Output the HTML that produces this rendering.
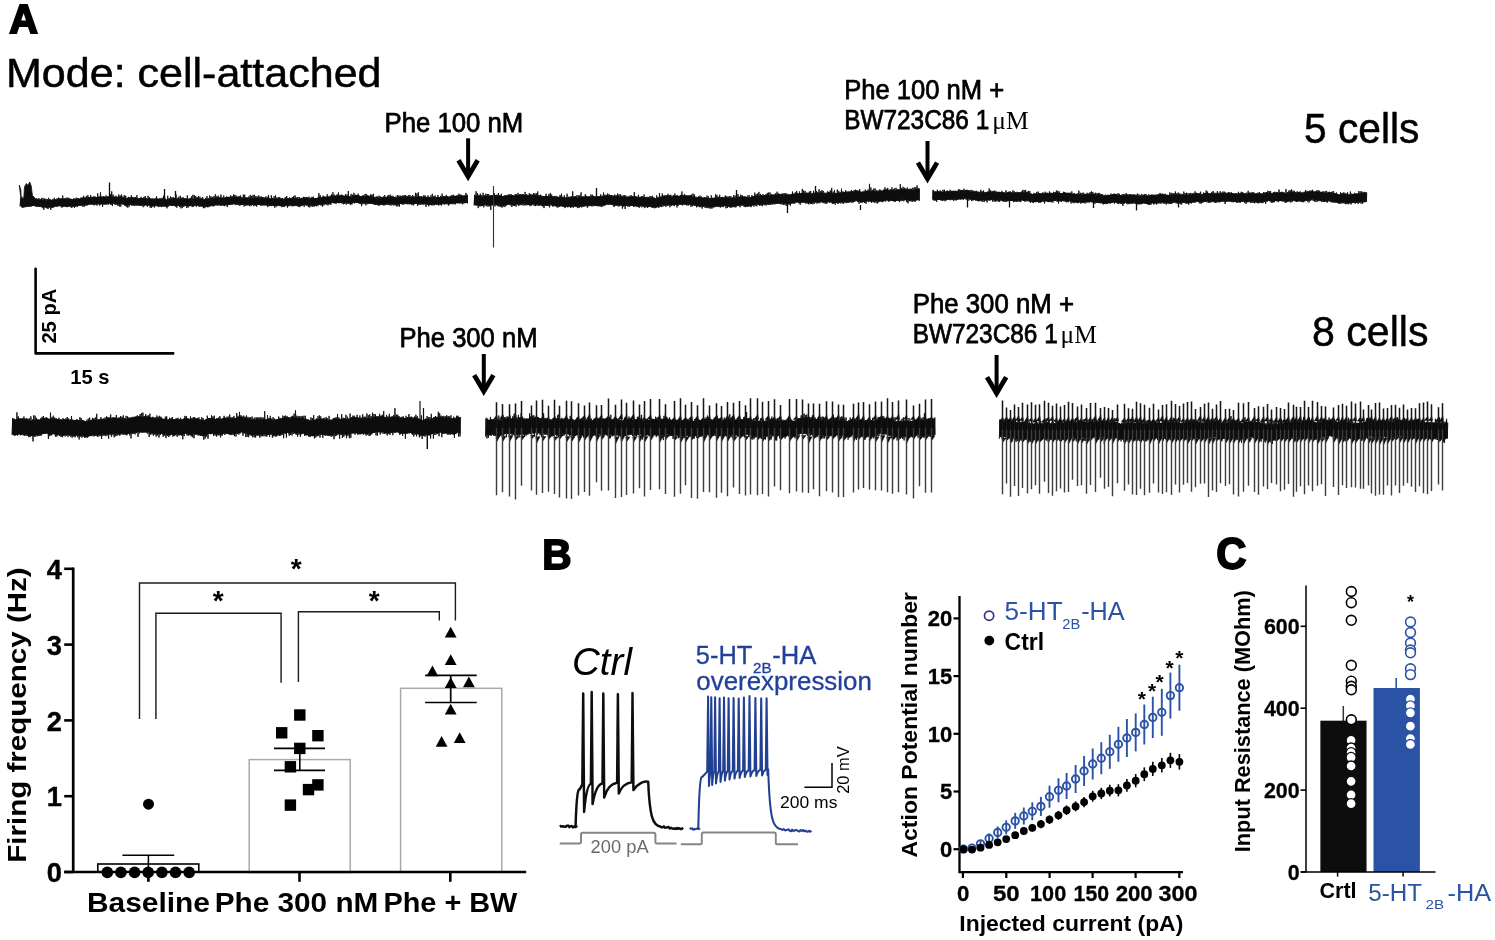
<!DOCTYPE html>
<html lang="en"><head><meta charset="utf-8"><title>Figure</title>
<style>html,body{margin:0;padding:0;background:#fff}svg{display:block}</style></head><body>
<svg width="1495" height="940" viewBox="0 0 1495 940">
<rect width="1495" height="940" fill="#fff"/>
<defs><filter id="soft" x="0" y="0" width="100%" height="100%" filterUnits="userSpaceOnUse"><feGaussianBlur stdDeviation="0.45"/></filter></defs>
<g filter="url(#soft)">
<!-- panel A -->
<text x="9.6" y="33.3" font-family='"Liberation Sans", sans-serif' font-size="40" font-weight="bold" textLength="28.2" lengthAdjust="spacingAndGlyphs" stroke="#000" stroke-width="2.2" stroke-linejoin="miter">A</text>
<text x="6" y="87" font-family='"Liberation Sans", sans-serif' font-size="41.5" textLength="375.5" lengthAdjust="spacingAndGlyphs" stroke="#000" stroke-width="0.5">Mode: cell-attached</text>
<text x="384.5" y="132" font-family='"Liberation Sans", sans-serif' font-size="27" textLength="138.8" lengthAdjust="spacingAndGlyphs" stroke="#000" stroke-width="0.75">Phe 100 nM</text>
<text x="844.2" y="98.7" font-family='"Liberation Sans", sans-serif' font-size="27" textLength="160" lengthAdjust="spacingAndGlyphs" stroke="#000" stroke-width="0.75">Phe 100 nM +</text>
<text font-family='"Liberation Sans", sans-serif' font-size="27" stroke="#000" stroke-width="0.75"><tspan x="844.2" y="129.4" textLength="145" lengthAdjust="spacingAndGlyphs">BW723C86 1</tspan><tspan x="992.3" y="129.4" font-family='"Liberation Serif", serif' font-size="25" stroke="none" textLength="36.3" lengthAdjust="spacingAndGlyphs">μM</tspan></text>
<text x="1304" y="142.5" font-family='"Liberation Sans", sans-serif' font-size="42" textLength="115.5" lengthAdjust="spacingAndGlyphs" stroke="#000" stroke-width="0.5">5 cells</text>
<text x="399.5" y="347" font-family='"Liberation Sans", sans-serif' font-size="27" textLength="138" lengthAdjust="spacingAndGlyphs" stroke="#000" stroke-width="0.75">Phe 300 nM</text>
<text x="912.7" y="312.7" font-family='"Liberation Sans", sans-serif' font-size="27" textLength="161.3" lengthAdjust="spacingAndGlyphs" stroke="#000" stroke-width="0.75">Phe 300 nM +</text>
<text font-family='"Liberation Sans", sans-serif' font-size="27" stroke="#000" stroke-width="0.75"><tspan x="912.7" y="343.2" textLength="145" lengthAdjust="spacingAndGlyphs">BW723C86 1</tspan><tspan x="1060.6" y="343.2" font-family='"Liberation Serif", serif' font-size="25" stroke="none" textLength="36.3" lengthAdjust="spacingAndGlyphs">μM</tspan></text>
<text x="1312" y="346" font-family='"Liberation Sans", sans-serif' font-size="42" textLength="116.5" lengthAdjust="spacingAndGlyphs" stroke="#000" stroke-width="0.5">8 cells</text>
<path d="M468.1 138.3 V176.5" fill="none" stroke="#000" stroke-width="4.0"/>
<path d="M458.5 160.3 L468.1 176.5 L477.7 160.3" fill="none" stroke="#000" stroke-width="4.8" stroke-linejoin="miter" stroke-miterlimit="10" stroke-linecap="butt"/>
<path d="M927.5 141 V178.8" fill="none" stroke="#000" stroke-width="4.0"/>
<path d="M917.9 162.6 L927.5 178.8 L937.1 162.6" fill="none" stroke="#000" stroke-width="4.8" stroke-linejoin="miter" stroke-miterlimit="10" stroke-linecap="butt"/>
<path d="M483.8 354 V391.3" fill="none" stroke="#000" stroke-width="4.0"/>
<path d="M474.2 375.1 L483.8 391.3 L493.4 375.1" fill="none" stroke="#000" stroke-width="4.8" stroke-linejoin="miter" stroke-miterlimit="10" stroke-linecap="butt"/>
<path d="M996.6 355 V393.3" fill="none" stroke="#000" stroke-width="4.0"/>
<path d="M987 377.1 L996.6 393.3 L1006.2 377.1" fill="none" stroke="#000" stroke-width="4.8" stroke-linejoin="miter" stroke-miterlimit="10" stroke-linecap="butt"/>
<path d="M35.6 268.8 V353.4 H173.2" fill="none" stroke="#000" stroke-width="2.6" stroke-linecap="round" stroke-linejoin="round"/>
<text x="55.9" y="343.6" font-family='"Liberation Sans", sans-serif' font-size="20" font-weight="bold" textLength="55" lengthAdjust="spacingAndGlyphs" transform="rotate(-90 55.9 343.6)">25 pA</text>
<text x="70.2" y="384.3" font-family='"Liberation Sans", sans-serif' font-size="19.8" font-weight="bold" textLength="39.3" lengthAdjust="spacingAndGlyphs">15 s</text>
<!-- trace 1 -->
<path d="M19.3 185 L20.8 190 L21.6 207 L23.4 204 L24.5 187 L26.4 183.6 L28 185.6 L29.7 182 L31.2 186 L32.4 195.5 L34.5 197.5 L34.5 205 L22 207.5 Z" fill="#0a0a0a" stroke="#0a0a0a" stroke-width="0.8"/>
<path d="M20 198.7 20.7 198.7 21.4 198.9 22.1 198.6 22.8 198.7 23.5 198.9 24.2 198.9 24.9 199.1 25.6 198.6 26.3 198.3 27 198.7 27.7 198.5 28.4 198.7 29.1 198 29.8 198.6 30.5 198.6 31.2 199 31.9 198.5 32.6 198 33.3 197.8 34 198.3 34.7 198.3 35.4 198.7 36.1 199.1 36.8 199.2 37.5 199.3 38.2 199.5 38.9 199.7 39.6 199.2 40.3 199.5 41 199.6 41.7 199.7 42.4 199.8 43.1 199.5 43.8 199.7 44.5 199.8 45.2 199.6 45.9 200.1 46.6 200.5 47.3 200.3 48 199.8 48.7 200.2 49.4 199.5 50.1 199.6 50.8 200 51.5 199.7 52.2 200 52.9 200.3 53.6 199.6 54.3 199.4 55 199.2 55.7 199.6 56.4 199.2 57.1 199.6 57.8 198.9 58.5 198.8 59.2 198.2 59.9 198.7 60.6 198.8 61.3 198.9 62 199.2 62.7 199.1 63.4 199.1 64.1 199 64.8 199.1 65.5 199.5 66.2 199.4 66.9 198.8 67.6 199.1 68.3 199.3 69 198.8 69.7 198.7 70.4 199.1 71.1 199.1 71.8 199.1 72.5 199.2 73.2 199.1 73.9 199.3 74.6 198.9 75.3 199.1 76 199 76.7 198.8 77.4 198.9 78.1 198.2 78.8 198.7 79.5 198.8 80.2 198.7 80.9 198 81.6 197.6 82.3 197.6 83 198 83.7 197.8 84.4 198 85.1 197.5 85.8 197.5 86.5 197.4 87.2 197.7 87.9 197.3 88.6 197 89.3 197.5 90 197.6 90.7 197.3 91.4 196.8 92.1 197.2 92.8 197.1 93.5 196.8 94.2 196.8 94.9 197.6 95.6 197.3 96.3 196.9 97 197.2 97.7 196.6 98.4 197 99.1 197.1 99.8 196.2 100.5 197 101.2 196.6 101.9 196.8 102.6 196.9 103.3 196.7 104 197 104.7 196.9 105.4 197 106.1 196.9 106.8 197 107.5 196.2 108.2 196.5 108.9 196.8 109.6 196.5 110.3 196.2 111 196.7 111.7 196.5 112.4 196.6 113.1 196.6 113.8 196.4 114.5 196.7 115.2 197.1 115.9 197.2 116.6 196.6 117.3 197.1 118 197.2 118.7 197.2 119.4 196.8 120.1 196.3 120.8 197 121.5 196.1 122.2 196.8 122.9 197.2 123.6 197.3 124.3 197.8 125 198 125.7 198 126.4 198.3 127.1 198 127.8 198 128.5 198.2 129.2 197.7 129.9 198.2 130.6 197.6 131.3 197.6 132 197.6 132.7 197.6 133.4 197.6 134.1 198 134.8 197.7 135.5 197.5 136.2 197.6 136.9 197.7 137.6 198.2 138.3 198.2 139 198.3 139.7 198.2 140.4 198.1 141.1 198 141.8 197.9 142.5 198 143.2 198.2 143.9 197.9 144.6 198 145.3 197.8 146 198.1 146.7 198.6 147.4 198.9 148.1 198.5 148.8 198.2 149.5 198.1 150.2 198.4 150.9 198.6 151.6 199.2 152.3 199.2 153 199 153.7 199 154.4 199.3 155.1 198.9 155.8 198.7 156.5 198.8 157.2 198.8 157.9 198.6 158.6 198.9 159.3 198.5 160 198.5 160.7 198.7 161.4 198.7 162.1 198.5 162.8 198.6 163.5 198.7 164.2 198.7 164.9 198.9 165.6 199.3 166.3 199.6 167 199.9 167.7 198.9 168.4 199.2 169.1 198.6 169.8 198.4 170.5 198.3 171.2 198 171.9 198.3 172.6 198.4 173.3 198 174 198.3 174.7 199.1 175.4 198.8 176.1 199 176.8 199.2 177.5 198.4 178.2 198.5 178.9 198.8 179.6 198.8 180.3 199 181 198.5 181.7 198.3 182.4 198.2 183.1 198.2 183.8 198.7 184.5 198.3 185.2 198.5 185.9 198.5 186.6 199 187.3 199 188 198.8 188.7 198.9 189.4 199.1 190.1 198.4 190.8 198.7 191.5 198.4 192.2 199 192.9 199.1 193.6 198.8 194.3 198.9 195 198.5 195.7 198.4 196.4 198.2 197.1 197.8 197.8 198.3 198.5 198.4 199.2 198.4 199.9 198.8 200.6 198.7 201.3 198.8 202 198.9 202.7 199.5 203.4 199.3 204.1 199.4 204.8 199.4 205.5 199.6 206.2 199 206.9 198.8 207.6 198.8 208.3 198.8 209 198.9 209.7 198.8 210.4 198 211.1 198.3 211.8 198.1 212.5 198.4 213.2 198.1 213.9 198.3 214.6 197.9 215.3 197.8 216 197.9 216.7 197.5 217.4 197.2 218.1 197.5 218.8 197.6 219.5 197.4 220.2 197.5 220.9 196.9 221.6 197.8 222.3 197.4 223 198 223.7 198 224.4 197.7 225.1 197.8 225.8 197.4 226.5 198 227.2 197.4 227.9 197 228.6 196.8 229.3 197 230 197.5 230.7 197.5 231.4 197 232.1 196.7 232.8 196.9 233.5 196.7 234.2 196.2 234.9 197 235.6 197.1 236.3 196.9 237 196.8 237.7 197.4 238.4 196.9 239.1 197.2 239.8 197.1 240.5 197.2 241.2 197.5 241.9 197.6 242.6 197.7 243.3 197.4 244 197.8 244.7 197.4 245.4 197.2 246.1 197.8 246.8 197.6 247.5 197.8 248.2 197.5 248.9 197.6 249.6 197.7 250.3 197.6 251 197.8 251.7 197.4 252.4 197.6 253.1 198 253.8 198.1 254.5 197.8 255.2 197.7 255.9 197.5 256.6 197.6 257.3 197.6 258 197.3 258.7 197.6 259.4 197.7 260.1 197.6 260.8 197.9 261.5 197.8 262.2 197.1 262.9 197.5 263.6 197.5 264.3 197.7 265 198 265.7 197.9 266.4 198.3 267.1 198.3 267.8 198.1 268.5 198.3 269.2 198.5 269.9 198.3 270.6 198.8 271.3 198.4 272 198.2 272.7 198 273.4 198.6 274.1 198.7 274.8 198.6 275.5 198.4 276.2 198.7 276.9 198.5 277.6 198.6 278.3 198.2 279 198.6 279.7 198.2 280.4 198.3 281.1 198.5 281.8 198.5 282.5 198.4 283.2 199.1 283.9 198.6 284.6 198.6 285.3 198.8 286 198.1 286.7 198.1 287.4 198.5 288.1 198.1 288.8 198.3 289.5 198.7 290.2 198.2 290.9 198.1 291.6 198.5 292.3 198.3 293 198.7 293.7 197.9 294.4 197.6 295.1 198.4 295.8 198.3 296.5 198.2 297.2 198.3 297.9 199.2 298.6 198.7 299.3 198.7 300 198.7 300.7 198.3 301.4 198.4 302.1 198.2 302.8 198 303.5 197.5 304.2 197.6 304.9 197.6 305.6 197.7 306.3 198.3 307 198.2 307.7 198.2 308.4 198.4 309.1 198.2 309.8 198.9 310.5 197.8 311.2 198.2 311.9 198.1 312.6 197.6 313.3 198 314 198.4 314.7 198.5 315.4 197.8 316.1 198.3 316.8 198.1 317.5 197.9 318.2 197.1 318.9 196.8 319.6 196.6 320.3 197.2 321 197.7 321.7 197.5 322.4 196.7 323.1 196.8 323.8 197 324.5 196.8 325.2 196.9 325.9 197 326.6 196.7 327.3 196.4 328 196.8 328.7 196.6 329.4 196.6 330.1 196.4 330.8 196.2 331.5 196 332.2 195.6 332.9 196 333.6 195.8 334.3 196.1 335 195.9 335.7 196.2 336.4 195.4 337.1 195.4 337.8 195.6 338.5 195.6 339.2 195.3 339.9 195.3 340.6 195.4 341.3 195.5 342 195.6 342.7 195.5 343.4 195.8 344.1 196 344.8 195.7 345.5 195.9 346.2 196 346.9 195.9 347.6 195.6 348.3 195.8 349 196.2 349.7 196.4 350.4 196.9 351.1 196.8 351.8 196 352.5 196.2 353.2 195.6 353.9 195.4 354.6 195.3 355.3 195.2 356 195.3 356.7 195.6 357.4 195.1 358.1 195.5 358.8 195.9 359.5 196.2 360.2 196.2 360.9 196 361.6 196.1 362.3 196 363 195.5 363.7 196.1 364.4 195.8 365.1 195.9 365.8 196.4 366.5 196.2 367.2 195.6 367.9 195.6 368.6 196 369.3 196 370 196.3 370.7 196.4 371.4 195.8 372.1 195.9 372.8 196.2 373.5 196.4 374.2 197 374.9 197.2 375.6 197.5 376.3 197.7 377 197.2 377.7 197.6 378.4 197.7 379.1 197.8 379.8 198 380.5 197.1 381.2 196.9 381.9 197.3 382.6 197.6 383.3 197.4 384 197 384.7 197.3 385.4 197.3 386.1 197.1 386.8 196.9 387.5 197 388.2 197.1 388.9 197.2 389.6 196.4 390.3 196.6 391 197 391.7 196.8 392.4 196.7 393.1 197 393.8 196.9 394.5 197.2 395.2 197 395.9 197.9 396.6 197.8 397.3 197.4 398 197.3 398.7 197.2 399.4 196.7 400.1 196.9 400.8 196.4 401.5 196.7 402.2 196.6 402.9 196.6 403.6 196.6 404.3 196.6 405 196.3 405.7 196.7 406.4 196.2 407.1 196.5 407.8 196.8 408.5 196.4 409.2 196.8 409.9 196.9 410.6 196.6 411.3 197 412 196.8 412.7 196.7 413.4 196.3 414.1 196.9 414.8 196.7 415.5 196.3 416.2 196.6 416.9 196.6 417.6 196.7 418.3 196.5 419 196.7 419.7 196.4 420.4 196.9 421.1 196.8 421.8 196.5 422.5 196.7 423.2 196.7 423.9 196.4 424.6 196.4 425.3 196.4 426 197.2 426.7 196.8 427.4 197 428.1 197.2 428.8 197.7 429.5 197.5 430.2 197.3 430.9 197.6 431.6 197.5 432.3 197.3 433 197.8 433.7 197.2 434.4 196.8 435.1 197.2 435.8 197.4 436.5 197.2 437.2 197.1 437.9 196.9 438.6 196.9 439.3 197.1 440 197.3 440.7 197.2 441.4 197 442.1 196.9 442.8 196.8 443.5 196.1 444.2 196.3 444.9 196.5 445.6 196.6 446.3 196.6 447 197 447.7 196.8 448.4 196.9 449.1 196.9 449.8 196.3 450.5 196.7 451.2 196.5 451.9 196.3 452.6 195.8 453.3 195.9 454 196 454.7 196 455.4 196.2 456.1 195.6 456.8 195.7 457.5 196 458.2 195.8 458.9 195.7 459.6 195.1 460.3 195.6 461 195.7 461.7 195.4 462.4 195.5 463.1 196.1 463.8 195.6 464.5 195.8 465.2 195.6 465.9 195.4 466.6 195.2 467.3 195.8 467.5 195.7 L467.5 203.2 467.3 202.9 466.6 202.2 465.9 202.7 465.2 203 464.5 203.1 463.8 203 463.1 203.3 462.4 202.9 461.7 202.4 461 202.8 460.3 202.7 459.6 203 458.9 202.8 458.2 203.3 457.5 202.9 456.8 203.2 456.1 203.3 455.4 203.8 454.7 203.4 454 203.4 453.3 203.3 452.6 203.3 451.9 203.9 451.2 203.8 450.5 204.1 449.8 203.6 449.1 204.2 448.4 204.1 447.7 204.1 447 204.3 446.3 203.6 445.6 203.6 444.9 203.9 444.2 203.9 443.5 203.4 442.8 204.2 442.1 204.3 441.4 204.2 440.7 204.7 440 204.9 439.3 204.6 438.6 204.1 437.9 204.2 437.2 204.1 436.5 204.8 435.8 204.6 435.1 204.3 434.4 204.3 433.7 204.2 433 204.6 432.3 205 431.6 205.1 430.9 204.9 430.2 204.4 429.5 204.9 428.8 204.8 428.1 205.1 427.4 204.3 426.7 204.2 426 204.2 425.3 204.1 424.6 204 423.9 203.8 423.2 204.4 422.5 203.9 421.8 204.1 421.1 203.9 420.4 204.4 419.7 203.8 419 204.2 418.3 203.9 417.6 203.6 416.9 203.7 416.2 203.7 415.5 203.7 414.8 204.2 414.1 204.1 413.4 203.7 412.7 204.1 412 204.3 411.3 204.3 410.6 204.2 409.9 204.2 409.2 204 408.5 203.4 407.8 204.2 407.1 204.1 406.4 204 405.7 204 405 203.5 404.3 203.5 403.6 203.7 402.9 204.2 402.2 204.2 401.5 204.1 400.8 203.6 400.1 203.8 399.4 204 398.7 204.2 398 204.8 397.3 205.3 396.6 205.3 395.9 205 395.2 204.3 394.5 204.4 393.8 204.2 393.1 204.4 392.4 204.3 391.7 204.5 391 204.3 390.3 204.3 389.6 204.3 388.9 204.2 388.2 204.4 387.5 204.6 386.8 204.6 386.1 204.2 385.4 204.7 384.7 204.7 384 204.6 383.3 204.8 382.6 204.6 381.9 204.6 381.2 204.4 380.5 204.3 379.8 205 379.1 204.9 378.4 204.9 377.7 204.9 377 204.3 376.3 205 375.6 204.8 374.9 204.6 374.2 204.3 373.5 204.1 372.8 203.9 372.1 203.2 371.4 203.6 370.7 203.7 370 204 369.3 203.1 368.6 203.2 367.9 202.6 367.2 203.3 366.5 203.1 365.8 203.6 365.1 203.6 364.4 203.4 363.7 203.4 363 203.2 362.3 203.1 361.6 203.2 360.9 203.8 360.2 203.5 359.5 203.5 358.8 203 358.1 202.9 357.4 202.7 356.7 203 356 202.5 355.3 202.3 354.6 202.3 353.9 202.7 353.2 202.9 352.5 203.4 351.8 203.6 351.1 203.7 350.4 204.1 349.7 203.7 349 203.5 348.3 203.1 347.6 203.2 346.9 202.9 346.2 202.8 345.5 202.8 344.8 203 344.1 203.6 343.4 203.6 342.7 202.8 342 202.6 341.3 202.7 340.6 202.4 339.9 202.7 339.2 202.7 338.5 202.9 337.8 202.7 337.1 202.8 336.4 202.8 335.7 203.6 335 203.2 334.3 203.1 333.6 202.8 332.9 203.3 332.2 202.6 331.5 203.1 330.8 203.8 330.1 204.2 329.4 203.6 328.7 204.2 328 204.1 327.3 203.5 326.6 203.5 325.9 204.2 325.2 203.8 324.5 204.3 323.8 204.3 323.1 203.9 322.4 203.9 321.7 204.8 321 204.8 320.3 204.9 319.6 204.4 318.9 204.1 318.2 204.7 317.5 205.2 316.8 205.7 316.1 205.8 315.4 205.6 314.7 206 314 205.9 313.3 205.2 312.6 205.1 311.9 205.4 311.2 205.4 310.5 205.2 309.8 206.2 309.1 205.8 308.4 205.9 307.7 205.6 307 205.6 306.3 205.3 305.6 205 304.9 205 304.2 204.9 303.5 204.7 302.8 205.3 302.1 205.8 301.4 205.6 300.7 205.6 300 205.9 299.3 206.3 298.6 206.4 297.9 206.4 297.2 206 296.5 205.5 295.8 205.7 295.1 205.5 294.4 205.5 293.7 205.3 293 206.2 292.3 205.6 291.6 205.7 290.9 205.4 290.2 205.5 289.5 205.8 288.8 205.6 288.1 205.6 287.4 205.9 286.7 205.6 286 205.8 285.3 205.8 284.6 206 283.9 206.2 283.2 206.5 282.5 205.9 281.8 206.1 281.1 205.9 280.4 206 279.7 205.6 279 205.9 278.3 205.5 277.6 206.1 276.9 206.1 276.2 205.8 275.5 205.8 274.8 205.6 274.1 205.9 273.4 205.8 272.7 205.5 272 206 271.3 206.2 270.6 205.6 269.9 205.3 269.2 205.6 268.5 205.6 267.8 205.5 267.1 205.6 266.4 205.3 265.7 205 265 205.4 264.3 205.1 263.6 205 262.9 204.5 262.2 204.8 261.5 205 260.8 204.7 260.1 204.9 259.4 205.1 258.7 204.9 258 204.5 257.3 205.2 256.6 204.7 255.9 204.7 255.2 205.4 254.5 204.9 253.8 205.5 253.1 205.3 252.4 204.8 251.7 205 251 205 250.3 204.9 249.6 204.7 248.9 205 248.2 204.9 247.5 205.1 246.8 204.9 246.1 205 245.4 204.7 244.7 204.6 244 204.7 243.3 204.7 242.6 204.9 241.9 204.8 241.2 205.2 240.5 204.9 239.8 204.2 239.1 204.4 238.4 204.6 237.7 204.7 237 204.3 236.3 204.4 235.6 204.7 234.9 204 234.2 203.4 233.5 203.8 232.8 204.1 232.1 204.1 231.4 204.3 230.7 205 230 205.1 229.3 204.7 228.6 204 227.9 204.7 227.2 205 226.5 205 225.8 204.7 225.1 205.3 224.4 205.4 223.7 205.4 223 205.4 222.3 205.1 221.6 205.2 220.9 204.2 220.2 204.9 219.5 204.8 218.8 204.7 218.1 204.9 217.4 204.9 216.7 204.7 216 205.2 215.3 205 214.6 205 213.9 205.5 213.2 205.4 212.5 206 211.8 205.6 211.1 205.9 210.4 205.4 209.7 206 209 206.3 208.3 206.4 207.6 206 206.9 206.4 206.2 206.4 205.5 207 204.8 206.8 204.1 206.4 203.4 206.5 202.7 206.5 202 206.4 201.3 205.9 200.6 206 199.9 205.9 199.2 205.6 198.5 205.5 197.8 205.6 197.1 205.4 196.4 205.6 195.7 205.7 195 205.7 194.3 205.9 193.6 206.1 192.9 206.2 192.2 205.8 191.5 205.6 190.8 206 190.1 206.1 189.4 206.1 188.7 206.2 188 206.4 187.3 206 186.6 206.3 185.9 205.8 185.2 206 184.5 205.8 183.8 206 183.1 205.7 182.4 205.7 181.7 206 181 205.9 180.3 206 179.6 206.1 178.9 206 178.2 205.9 177.5 205.6 176.8 206.4 176.1 206.1 175.4 206.2 174.7 206.1 174 205.6 173.3 205.8 172.6 205.9 171.9 206 171.2 205.4 170.5 205.6 169.8 205.5 169.1 205.5 168.4 206.4 167.7 206.4 167 207.1 166.3 207 165.6 206.8 164.9 206.5 164.2 206.2 163.5 206.3 162.8 205.5 162.1 206.1 161.4 206.1 160.7 206.4 160 206.1 159.3 206.4 158.6 206 157.9 205.8 157.2 205.9 156.5 205.9 155.8 206.1 155.1 206.3 154.4 206.7 153.7 206.2 153 206.3 152.3 206.3 151.6 206.3 150.9 206.3 150.2 206 149.5 205.9 148.8 205.4 148.1 205.7 147.4 205.7 146.7 206.1 146 205.4 145.3 205 144.6 205.1 143.9 205.1 143.2 205.3 142.5 205.3 141.8 205.4 141.1 205.2 140.4 205.8 139.7 205.8 139 205.3 138.3 205.7 137.6 205.6 136.9 205 136.2 204.6 135.5 204.9 134.8 205.3 134.1 205.5 133.4 205.1 132.7 204.7 132 204.5 131.3 204.9 130.6 205 129.9 205.3 129.2 204.6 128.5 205.4 127.8 205.2 127.1 205.8 126.4 205.1 125.7 205.5 125 205.1 124.3 204.9 123.6 204.4 122.9 204.4 122.2 204.3 121.5 203.8 120.8 203.8 120.1 203.7 119.4 204 118.7 204.2 118 204.4 117.3 204.5 116.6 204.4 115.9 204.2 115.2 204.1 114.5 204.3 113.8 203.6 113.1 203.8 112.4 203.9 111.7 203.9 111 204.4 110.3 203.7 109.6 203.5 108.9 204 108.2 204.1 107.5 203.6 106.8 204.5 106.1 204.3 105.4 204.3 104.7 203.8 104 204.4 103.3 203.7 102.6 204.2 101.9 204.1 101.2 203.9 100.5 204.6 99.8 204 99.1 204.3 98.4 204.3 97.7 204 97 204.7 96.3 204.6 95.6 204.3 94.9 204.3 94.2 204.5 93.5 204.5 92.8 204.6 92.1 204.7 91.4 204.2 90.7 204.5 90 204.5 89.3 204.8 88.6 204.6 87.9 204.9 87.2 204.7 86.5 204.9 85.8 204.5 85.1 205.1 84.4 204.9 83.7 205.4 83 205.2 82.3 205.4 81.6 205 80.9 205.6 80.2 205.8 79.5 205.7 78.8 206.1 78.1 205.7 77.4 206.4 76.7 205.8 76 206.3 75.3 205.9 74.6 206.4 73.9 206.8 73.2 206.6 72.5 206.4 71.8 206.1 71.1 206.3 70.4 206 69.7 206.3 69 206.1 68.3 206.7 67.6 206.3 66.9 206.2 66.2 206.8 65.5 207.3 64.8 206.4 64.1 206.2 63.4 206.5 62.7 206.4 62 206.6 61.3 206.7 60.6 205.9 59.9 206.3 59.2 205.9 58.5 206.2 57.8 206.6 57.1 206.6 56.4 206.5 55.7 206.8 55 206.3 54.3 206.9 53.6 207.2 52.9 207.5 52.2 207.8 51.5 207.5 50.8 207.3 50.1 207.3 49.4 207.2 48.7 207.6 48 207.4 47.3 207.9 46.6 207.7 45.9 207.6 45.2 207.3 44.5 207.1 43.8 207.4 43.1 206.9 42.4 206.9 41.7 206.8 41 206.9 40.3 206.5 39.6 207 38.9 206.7 38.2 206.5 37.5 206.4 36.8 206.4 36.1 206.8 35.4 206.1 34.7 205.5 34 205.5 33.3 205.7 32.6 205.8 31.9 205.9 31.2 206.3 30.5 205.7 29.8 206.4 29.1 205.6 28.4 206.2 27.7 206.1 27 206.2 26.3 206 25.6 206.3 24.9 206.3 24.2 206 23.5 206.3 22.8 206.2 22.1 206.3 21.4 206.4 20.7 205.8 20 205.8Z" fill="#0a0a0a"/>
<path d="M20 206.5 20.7 198.4 21.4 206.3 22.1 196.9 22.8 206.3 23.5 198.3 24.2 206.9 24.9 196.9 25.6 206.3 26.3 197.8 27 206 27.7 198.6 28.4 206.7 29.1 197.6 29.8 206.6 30.5 197.3 31.2 206.5 31.9 197.3 32.6 206.1 33.3 197.4 34 206.1 34.7 198.2 35.4 206.4 36.1 198.2 36.8 206.9 37.5 198.8 38.2 206.6 38.9 198.1 39.6 207 40.3 199.2 41 207.1 41.7 198 42.4 208.1 43.1 197.9 43.8 209.8 44.5 198.7 45.2 207.7 45.9 198.7 46.6 208.2 47.3 199 48 209.1 48.7 197.8 49.4 207.7 50.1 199.3 50.8 209.8 51.5 199.9 52.2 207.9 52.9 198.9 53.6 207.4 54.3 197.8 55 206.5 55.7 199.4 56.4 206.7 57.1 198.3 57.8 206.4 58.5 197.7 59.2 206 59.9 198.4 60.6 206.4 61.3 198.2 62 207.7 62.7 195.5 63.4 206.9 64.1 198 64.8 206.4 65.5 198.1 66.2 207.1 66.9 197.5 67.6 207.1 68.3 197.7 69 206.7 69.7 198.4 70.4 207.1 71.1 198.8 71.8 208 72.5 199.1 73.2 206.8 73.9 198.1 74.6 207.8 75.3 198.5 76 206.7 76.7 197.6 77.4 206.9 78.1 198.2 78.8 206 79.5 198.7 80.2 205.9 80.9 197.7 81.6 205.8 82.3 197.6 83 206.9 83.7 195.8 84.4 206.5 85.1 197.3 85.8 205.8 86.5 195.8 87.2 205.5 87.9 195.3 88.6 204.6 89.3 197 90 204.6 90.7 195.1 91.4 204.4 92.1 197.1 92.8 204.5 93.5 196.5 94.2 205.4 94.9 196.3 95.6 204.6 96.3 197.1 97 205.5 97.7 193.3 98.4 204.3 99.1 196.6 99.8 205.5 100.5 192.4 101.2 204.4 101.9 196.5 102.6 206.8 103.3 196.1 104 204.8 104.7 196.5 105.4 204.6 106.1 195.4 106.8 204.4 107.5 196.5 108.2 204.8 108.9 196.4 109.6 203.7 110.3 194 111 205 111.7 191.4 112.4 206.1 113.1 194.6 113.8 203.8 114.5 196.7 115.2 205 115.9 195.7 116.6 204.4 117.3 196.8 118 206 118.7 194.5 119.4 206.5 120.1 195.5 120.8 206.7 121.5 194.4 122.2 204.3 122.9 196.7 123.6 204.5 124.3 195 125 206 125.7 195.8 126.4 206.9 127.1 197.7 127.8 207.8 128.5 196.9 129.2 206.5 129.9 197.2 130.6 204.8 131.3 195.4 132 205.9 132.7 196.9 133.4 205.5 134.1 197.2 134.8 205.8 135.5 197.1 136.2 205.8 136.9 195.2 137.6 205.4 138.3 198.2 139 205.6 139.7 198.2 140.4 205.7 141.1 196.8 141.8 205.9 142.5 198.1 143.2 207.2 143.9 196.9 144.6 206.1 145.3 196 146 205.2 146.7 198.5 147.4 206.7 148.1 195.8 148.8 205.4 149.5 197.3 150.2 207.7 150.9 198.3 151.6 207.8 152.3 198.3 153 206.5 153.7 198.7 154.4 207.5 155.1 198 155.8 206.1 156.5 196.2 157.2 206.4 157.9 198.7 158.6 207.1 159.3 198.6 160 206.6 160.7 198.5 161.4 207.1 162.1 197.8 162.8 206.9 163.5 195.8 164.2 206.5 164.9 197.6 165.6 206.6 166.3 199.5 167 208.3 167.7 195.8 168.4 206.3 169.1 198.2 169.8 205.6 170.5 196.5 171.2 205.6 171.9 197.4 172.6 205.9 173.3 197.1 174 205.8 174.7 197.9 175.4 206.6 176.1 194.5 176.8 207.7 177.5 197.9 178.2 205.9 178.9 196.7 179.6 207.1 180.3 195.8 181 208.4 181.7 197.7 182.4 207.8 183.1 197.2 183.8 207 184.5 198.5 185.2 205.9 185.9 198.1 186.6 208 187.3 195.3 188 207.6 188.7 198.7 189.4 206.3 190.1 197.8 190.8 206.1 191.5 196.5 192.2 207.1 192.9 194.8 193.6 206.7 194.3 195.2 195 205.9 195.7 196 196.4 206.6 197.1 197 197.8 206 198.5 196.2 199.2 207 199.9 196.7 200.6 206.5 201.3 198 202 206.7 202.7 197 203.4 208.1 204.1 198.8 204.8 208.2 205.5 198 206.2 207 206.9 196 207.6 207.3 208.3 198.1 209 207.2 209.7 195.6 210.4 206.3 211.1 196.4 211.8 206.1 212.5 196.9 213.2 206.5 213.9 196.2 214.6 205.9 215.3 194.4 216 205.4 216.7 196.4 217.4 205.8 218.1 195.6 218.8 205.4 219.5 197.5 220.2 205.9 220.9 194.6 221.6 205.9 222.3 197.7 223 205.5 223.7 195.6 224.4 206.2 225.1 197.2 225.8 205.5 226.5 196.4 227.2 207.1 227.9 196.8 228.6 205.1 229.3 196.8 230 204.9 230.7 195.4 231.4 204.6 232.1 196.1 232.8 204.7 233.5 194.4 234.2 204.4 234.9 194.8 235.6 205.1 236.3 195.7 237 204.8 237.7 196.7 238.4 205.1 239.1 195.9 239.8 205.9 240.5 195.5 241.2 204.9 241.9 197.2 242.6 204.8 243.3 194.6 244 206.5 244.7 194.7 245.4 205.8 246.1 197.4 246.8 205.5 247.5 197.7 248.2 205.4 248.9 196.4 249.6 206.1 250.3 194.9 251 206.2 251.7 195.9 252.4 204.8 253.1 194.9 253.8 206.2 254.5 194.8 255.2 205.7 255.9 196.2 256.6 206.6 257.3 196.6 258 204.8 258.7 195.5 259.4 204.8 260.1 196.5 260.8 205.9 261.5 196.6 262.2 205.6 262.9 197 263.6 205.4 264.3 197.6 265 205.5 265.7 196.6 266.4 205.4 267.1 196.7 267.8 207.1 268.5 194.9 269.2 206.1 269.9 198.1 270.6 206 271.3 195.3 272 205.9 272.7 197.9 273.4 206.1 274.1 196.3 274.8 207.7 275.5 195.3 276.2 206.7 276.9 197.5 277.6 206 278.3 197.3 279 206.1 279.7 197 280.4 206.2 281.1 198.3 281.8 207.2 282.5 198.1 283.2 206.9 283.9 198.9 284.6 206.7 285.3 197.1 286 205.6 286.7 196 287.4 207.6 288.1 198.4 288.8 206.3 289.5 197.6 290.2 205.5 290.9 198 291.6 206.3 292.3 197 293 206.3 293.7 196 294.4 206.1 295.1 195.5 295.8 205.9 296.5 197.6 297.2 206.2 297.9 197 298.6 206.8 299.3 197 300 207.1 300.7 198.2 301.4 205.9 302.1 197.7 302.8 205.7 303.5 196.9 304.2 207 304.9 196.9 305.6 205.2 306.3 197 307 205.8 307.7 197.1 308.4 207.1 309.1 196.7 309.8 207.4 310.5 197.9 311.2 206.4 311.9 196.9 312.6 206.6 313.3 196.7 314 206.8 314.7 198.1 315.4 205.8 316.1 198.4 316.8 206.4 317.5 197.8 318.2 205.5 318.9 193.2 319.6 204.9 320.3 195.4 321 205.5 321.7 197.4 322.4 206.6 323.1 195.7 323.8 205.5 324.5 196.6 325.2 204.4 325.9 196.5 326.6 204.9 327.3 194.3 328 205.4 328.7 196.6 329.4 204.3 330.1 195.7 330.8 204.9 331.5 194.4 332.2 202.9 332.9 192.3 333.6 203.2 334.3 194.7 335 203.5 335.7 195.5 336.4 203.5 337.1 194.3 337.8 202.9 338.5 192.5 339.2 203.3 339.9 195.2 340.6 203 341.3 194.6 342 203.6 342.7 194.9 343.4 204.3 344.1 195.8 344.8 203.9 345.5 194 346.2 204.5 346.9 194.7 347.6 203.6 348.3 191 349 204 349.7 196 350.4 204.8 351.1 193.9 351.8 204.4 352.5 194.8 353.2 202.8 353.9 192.8 354.6 203.4 355.3 194.7 356 203.1 356.7 195 357.4 202.9 358.1 193.7 358.8 203.4 359.5 195.6 360.2 204.1 360.9 196.2 361.6 206.1 362.3 195.7 363 204.2 363.7 195.1 364.4 203.7 365.1 193.9 365.8 205.3 366.5 194 367.2 204.3 367.9 195.4 368.6 203.9 369.3 195.8 370 203.8 370.7 194.3 371.4 203.9 372.1 194.5 372.8 203.9 373.5 193.8 374.2 204.9 374.9 196.9 375.6 204.7 376.3 196.5 377 204.7 377.7 196.3 378.4 205.6 379.1 195.7 379.8 205.5 380.5 196.6 381.2 204.9 381.9 197 382.6 205.1 383.3 196.4 384 205.7 384.7 195.1 385.4 204.9 386.1 196.8 386.8 204.9 387.5 195.7 388.2 204.6 388.9 194.9 389.6 205.2 390.3 194.7 391 205.6 391.7 195.9 392.4 204.8 393.1 195.8 393.8 205.6 394.5 197 395.2 205.3 395.9 196.5 396.6 206.4 397.3 195.1 398 206.3 398.7 195.7 399.4 206.7 400.1 195.4 400.8 204 401.5 196.2 402.2 204.4 402.9 195.2 403.6 204.5 404.3 195.3 405 204.2 405.7 195 406.4 203.9 407.1 195.9 407.8 204.3 408.5 195.1 409.2 204.3 409.9 195 410.6 204 411.3 196.4 412 205.1 412.7 195 413.4 205.4 414.1 196.6 414.8 204.1 415.5 192.8 416.2 203.7 416.9 193.4 417.6 206 418.3 192.3 419 204.9 419.7 196.1 420.4 204.6 421.1 196 421.8 204.6 422.5 196.8 423.2 204.7 423.9 195.2 424.6 204.3 425.3 195.7 426 206.8 426.7 197.1 427.4 204.8 428.1 195.4 428.8 206.2 429.5 197 430.2 204.9 430.9 195.4 431.6 205.3 432.3 193.8 433 205.5 433.7 196.2 434.4 205.2 435.1 195.5 435.8 204.7 436.5 197.3 437.2 204.9 437.9 195 438.6 205.5 439.3 197.3 440 204.7 440.7 195.9 441.4 205.5 442.1 193.7 442.8 204 443.5 196 444.2 204.6 444.9 196.1 445.6 204.2 446.3 194.9 447 204.2 447.7 196.1 448.4 205.6 449.1 196.5 449.8 204.5 450.5 195.9 451.2 204 451.9 195 452.6 204.2 453.3 194.7 454 204.3 454.7 195.8 455.4 204.3 456.1 195.8 456.8 203.2 457.5 195.1 458.2 203.4 458.9 193.7 459.6 203.4 460.3 194.6 461 203.6 461.7 194.8 462.4 204.3 463.1 195.5 463.8 203.5 464.5 195.6 465.2 203.1 465.9 192.9 466.6 202.9 467.3 194.7 467.5 203.7" fill="none" stroke="#0a0a0a" stroke-width="0.9" stroke-linejoin="bevel"/>
<path d="M474 195.3 474.7 195.5 475.4 195.4 476.1 195.7 476.8 195.3 477.5 195.8 478.2 195.9 478.9 195.7 479.6 195.5 480.3 195.7 481 195.8 481.7 195.9 482.4 196.3 483.1 196.5 483.8 195.7 484.5 195.5 485.2 195.5 485.9 195.7 486.6 196.1 487.3 195.8 488 195.2 488.7 196 489.4 196.2 490.1 195.9 490.8 195.8 491.5 195.3 492.2 195.5 492.9 195 493.6 195.1 494.3 195 495 195.2 495.7 194.9 496.4 195.2 497.1 195.5 497.8 195.9 498.5 196 499.2 195.6 499.9 195.4 500.6 195.7 501.3 196.1 502 196.4 502.7 196 503.4 196.5 504.1 195.6 504.8 195.7 505.5 195.6 506.2 195.2 506.9 195.3 507.6 195.4 508.3 195.4 509 194.7 509.7 195.5 510.4 195 511.1 194.8 511.8 195.5 512.5 195.4 513.2 195.6 513.9 196.1 514.6 195.7 515.3 195.3 516 195.3 516.7 194.7 517.4 195 518.1 195 518.8 195.2 519.5 194.6 520.2 194.6 520.9 194.8 521.6 194.9 522.3 195 523 194.2 523.7 194.8 524.4 194.9 525.1 195 525.8 195.3 526.5 194.7 527.2 195.3 527.9 195 528.6 195.6 529.3 195.5 530 195.1 530.7 195.2 531.4 195.2 532.1 194.8 532.8 194.9 533.5 194.9 534.2 194.9 534.9 194.9 535.6 195.1 536.3 195.4 537 195.6 537.7 195 538.4 195.7 539.1 196 539.8 195.6 540.5 195.8 541.2 195.5 541.9 196.4 542.6 196.3 543.3 196.3 544 196.4 544.7 196.2 545.4 196.1 546.1 196 546.8 196.1 547.5 196.1 548.2 196.5 548.9 196.4 549.6 195.9 550.3 195.3 551 195.4 551.7 196 552.4 196.2 553.1 196.6 553.8 196.4 554.5 196.5 555.2 196.6 555.9 197.2 556.6 197 557.3 197.4 558 197.2 558.7 196.9 559.4 196.6 560.1 196.8 560.8 196.4 561.5 196.7 562.2 197.4 562.9 197.1 563.6 197.5 564.3 197.6 565 198 565.7 197.5 566.4 197.2 567.1 197.6 567.8 197.6 568.5 197.6 569.2 197.5 569.9 197.3 570.6 197.1 571.3 197.5 572 197.1 572.7 197.1 573.4 197.1 574.1 197.1 574.8 196.9 575.5 197 576.2 197.1 576.9 197.5 577.6 197.7 578.3 197.5 579 197.4 579.7 196.9 580.4 196.7 581.1 197 581.8 196.4 582.5 197.1 583.2 196.6 583.9 196.9 584.6 196.7 585.3 196.8 586 196.3 586.7 196.3 587.4 196.4 588.1 196.4 588.8 196.6 589.5 196.5 590.2 196.4 590.9 196.6 591.6 196.4 592.3 196 593 196.3 593.7 196.2 594.4 196.8 595.1 196.6 595.8 196.7 596.5 197 597.2 196 597.9 196.7 598.6 196.7 599.3 196.6 600 196.7 600.7 196.4 601.4 196.6 602.1 196.2 602.8 196.3 603.5 196.3 604.2 196 604.9 196.2 605.6 195.4 606.3 195.4 607 195.2 607.7 195.6 608.4 195.4 609.1 195.4 609.8 195.6 610.5 195.7 611.2 195.1 611.9 195.3 612.6 196 613.3 196.3 614 196.4 614.7 196 615.4 196 616.1 196.4 616.8 196 617.5 196.3 618.2 196.1 618.9 195.7 619.6 196.7 620.3 196.5 621 196.5 621.7 196.3 622.4 196.7 623.1 196.4 623.8 196.3 624.5 196.6 625.2 196.7 625.9 196.9 626.6 196.8 627.3 196.9 628 196.8 628.7 196.8 629.4 196.7 630.1 196.8 630.8 196.9 631.5 196.5 632.2 196.4 632.9 196.4 633.6 196.8 634.3 196.6 635 196.5 635.7 196.8 636.4 196.6 637.1 197.3 637.8 197.7 638.5 197.5 639.2 197.8 639.9 197.6 640.6 197 641.3 196.5 642 197.1 642.7 197.2 643.4 197 644.1 197.1 644.8 197.8 645.5 197.8 646.2 197.7 646.9 197.6 647.6 197.1 648.3 197.7 649 197.7 649.7 197.6 650.4 197.3 651.1 197.7 651.8 197.9 652.5 198.1 653.2 197.9 653.9 197.7 654.6 198.3 655.3 198.2 656 197.9 656.7 197.9 657.4 197.5 658.1 197.4 658.8 197.2 659.5 197.4 660.2 197.4 660.9 196.7 661.6 196.5 662.3 196.3 663 196.5 663.7 196.5 664.4 196.1 665.1 196 665.8 196.3 666.5 196.1 667.2 195.8 667.9 196.1 668.6 195.6 669.3 195.7 670 195.9 670.7 196.3 671.4 196.4 672.1 196.4 672.8 196.5 673.5 196.4 674.2 196 674.9 195.7 675.6 195.7 676.3 196.3 677 196 677.7 196 678.4 196.3 679.1 196 679.8 195.4 680.5 195.9 681.2 195.5 681.9 195.2 682.6 195.4 683.3 195.3 684 195.7 684.7 195.4 685.4 195.5 686.1 195.6 686.8 195.8 687.5 195.7 688.2 195.8 688.9 195.7 689.6 195.8 690.3 196.1 691 195.5 691.7 196.3 692.4 196.7 693.1 196.2 693.8 196.2 694.5 196.4 695.2 196.8 695.9 197.4 696.6 197.4 697.3 197.5 698 196.8 698.7 197.1 699.4 197.3 700.1 197.7 700.8 197 701.5 197.6 702.2 197.3 702.9 197.9 703.6 197.4 704.3 197.4 705 197.3 705.7 197.4 706.4 197.9 707.1 198 707.8 197.9 708.5 198.5 709.2 198.1 709.9 197.9 710.6 198.6 711.3 198.5 712 198.4 712.7 198 713.4 197.9 714.1 197.9 714.8 197.4 715.5 197 716.2 197.5 716.9 197.2 717.6 197.7 718.3 197.6 719 197.2 719.7 197.5 720.4 197.3 721.1 197.7 721.8 197 722.5 197.5 723.2 197.4 723.9 197.6 724.6 196.9 725.3 197.6 726 197.2 726.7 197.1 727.4 197.7 728.1 197.7 728.8 197.3 729.5 197.6 730.2 197.8 730.9 198.2 731.6 198.3 732.3 198 733 198 733.7 197.8 734.4 197.8 735.1 197.6 735.8 198.2 736.5 197.7 737.2 197.3 737.9 196.8 738.6 196.8 739.3 196.9 740 196.9 740.7 196.7 741.4 196.6 742.1 196.1 742.8 196.3 743.5 196.9 744.2 196.7 744.9 197.1 745.6 197.1 746.3 197.3 747 197.6 747.7 197.5 748.4 197.2 749.1 197.4 749.8 197.6 750.5 197.2 751.2 196.7 751.9 196.8 752.6 196.6 753.3 196 754 195.9 754.7 196 755.4 195.4 756.1 195.8 756.8 195.8 757.5 195.4 758.2 195.9 758.9 195.2 759.6 195.5 760.3 195.5 761 195.8 761.7 195.9 762.4 195.3 763.1 195.7 763.8 195.4 764.5 195.3 765.2 195.2 765.9 195.1 766.6 194.9 767.3 194.7 768 194.9 768.7 195.5 769.4 195.4 770.1 195.1 770.8 194.9 771.5 194.5 772.2 194.4 772.9 195 773.6 194.6 774.3 194.6 775 194.5 775.7 194.6 776.4 194.3 777.1 194.3 777.8 194.3 778.5 194 779.2 193.9 779.9 194.3 780.6 194.4 781.3 194.3 782 194.5 782.7 194.3 783.4 194.6 784.1 194.2 784.8 194.5 785.5 194.7 786.2 195 786.9 194.4 787.6 194.7 788.3 194.6 789 194.3 789.7 194.6 790.4 195.1 791.1 194.3 791.8 194.1 792.5 193.8 793.2 194 793.9 193.8 794.6 193.9 795.3 193.6 796 193.2 796.7 193.3 797.4 192.9 798.1 193.5 798.8 193.4 799.5 193.3 800.2 193.4 800.9 193.2 801.6 193.1 802.3 193 803 192.9 803.7 193.2 804.4 192.9 805.1 192.9 805.8 192.8 806.5 193.5 807.2 193.2 807.9 193.6 808.6 192.9 809.3 192.9 810 193.7 810.7 193.7 811.4 193.8 812.1 193.6 812.8 193 813.5 192.9 814.2 193 814.9 192.9 815.6 192.7 816.3 192.5 817 193.5 817.7 193.3 818.4 192.8 819.1 193.2 819.8 192.9 820.5 192.5 821.2 192.3 821.9 192.4 822.6 192.6 823.3 192.9 824 193.2 824.7 193.2 825.4 193.2 826.1 193.6 826.8 193.2 827.5 192.7 828.2 192.3 828.9 192.1 829.6 192.5 830.3 192.2 831 192.8 831.7 192.8 832.4 193.5 833.1 193.2 833.8 193.3 834.5 193.6 835.2 193.3 835.9 192.8 836.6 193.1 837.3 192.9 838 193.2 838.7 193.2 839.4 193.1 840.1 192.7 840.8 192.9 841.5 192.5 842.2 193 842.9 192.5 843.6 191.6 844.3 192 845 192.2 845.7 192.3 846.4 191.7 847.1 192.3 847.8 192.3 848.5 191.9 849.2 191.9 849.9 191.8 850.6 191.9 851.3 192.4 852 191.7 852.7 191.6 853.4 191.4 854.1 191.7 854.8 190.9 855.5 191.1 856.2 190.7 856.9 190.6 857.6 190.8 858.3 191.4 859 191.9 859.7 191.5 860.4 191.6 861.1 192 861.8 191.7 862.5 191.9 863.2 191.7 863.9 191.5 864.6 191.2 865.3 191.5 866 191.4 866.7 191.2 867.4 190.7 868.1 190.5 868.8 190.9 869.5 190.7 870.2 190.8 870.9 191.4 871.6 191 872.3 191 873 191.1 873.7 191.4 874.4 191.1 875.1 191.1 875.8 191.5 876.5 191.4 877.2 191.2 877.9 191.3 878.6 191.3 879.3 191.1 880 190.5 880.7 190.7 881.4 191.2 882.1 190.9 882.8 190.9 883.5 190.1 884.2 190.2 884.9 190.1 885.6 189.7 886.3 189.3 887 189.8 887.7 190.1 888.4 190.4 889.1 190.3 889.8 190.1 890.5 189.5 891.2 190 891.9 190 892.6 190 893.3 190.6 894 190.7 894.7 190.5 895.4 190.2 896.1 190.1 896.8 189.7 897.5 190 898.2 189.9 898.9 190 899.6 189.8 900.3 189.6 901 189.2 901.7 188.8 902.4 189.2 903.1 189 903.8 189.1 904.5 189.3 905.2 188.9 905.9 189.3 906.6 189.7 907.3 189.1 908 189.4 908.7 189.1 909.4 189.8 910.1 189.4 910.8 189.1 911.5 189.3 912.2 189.4 912.9 189.4 913.6 189.4 914.3 189.9 915 190 915.7 189.7 916.4 189 917.1 188.4 917.8 188.6 918.5 188.5 919.2 188.7 919.5 189.5 L919.5 200.7 919.2 199.9 918.5 199.7 917.8 200.1 917.1 199.6 916.4 200 915.7 200.4 915 201.1 914.3 200.6 913.6 200.5 912.9 200.6 912.2 200.4 911.5 200.4 910.8 200.5 910.1 200.4 909.4 200.4 908.7 200.2 908 200.6 907.3 200.7 906.6 200.7 905.9 200.1 905.2 199.7 904.5 199.9 903.8 200.2 903.1 200 902.4 199.6 901.7 199.3 901 199.7 900.3 200.4 899.6 200.9 898.9 200.8 898.2 201.1 897.5 200.5 896.8 200.8 896.1 201 895.4 201.1 894.7 201 894 201.1 893.3 201 892.6 200.9 891.9 200.7 891.2 200.8 890.5 200.5 889.8 200.5 889.1 200.7 888.4 201.1 887.7 200.8 887 200.3 886.3 200.2 885.6 200.3 884.9 200.6 884.2 201.1 883.5 201.1 882.8 201.3 882.1 201.7 881.4 201.9 880.7 201.2 880 201 879.3 201.7 878.6 201.5 877.9 201.6 877.2 201.9 876.5 201.5 875.8 201.5 875.1 201.1 874.4 201.4 873.7 201.4 873 201.7 872.3 201.2 871.6 201.7 870.9 201.8 870.2 201.4 869.5 201 868.8 201.2 868.1 200.9 867.4 200.6 866.7 201.4 866 202 865.3 201.6 864.6 201.8 863.9 201.8 863.2 202.2 862.5 202.2 861.8 202 861.1 202.4 860.4 202 859.7 201.6 859 201.9 858.3 201.5 857.6 201.4 856.9 201 856.2 200.7 855.5 200.7 854.8 201.3 854.1 201.2 853.4 201.4 852.7 201.5 852 201.8 851.3 202.1 850.6 202.1 849.9 201.7 849.2 201.8 848.5 201.9 847.8 202.6 847.1 201.9 846.4 201.8 845.7 202.4 845 202 844.3 202.2 843.6 201.5 842.9 202.1 842.2 202.3 841.5 202.5 840.8 202.3 840.1 202.6 839.4 202.6 838.7 202.8 838 202.8 837.3 203.1 836.6 202.9 835.9 203.1 835.2 203 834.5 203.2 833.8 203.2 833.1 202.7 832.4 202.8 831.7 202.7 831 202.5 830.3 202 829.6 202.3 828.9 201.9 828.2 201.8 827.5 202.2 826.8 202.3 826.1 203.2 825.4 202.5 824.7 202.6 824 202.3 823.3 202.4 822.6 202.3 821.9 202 821.2 201.8 820.5 201.8 819.8 202 819.1 202.7 818.4 202.5 817.7 202.7 817 202.8 816.3 201.9 815.6 202.1 814.9 202.2 814.2 202.4 813.5 202.2 812.8 202.4 812.1 203.3 811.4 203.3 810.7 203 810 203.1 809.3 202.5 808.6 202.4 807.9 202.6 807.2 202.7 806.5 202.6 805.8 202.2 805.1 202.1 804.4 202.2 803.7 202.6 803 202.4 802.3 202.5 801.6 202.4 800.9 202.6 800.2 202.3 799.5 203 798.8 202.6 798.1 202.9 797.4 202.1 796.7 202.3 796 202.5 795.3 202.7 794.6 202.9 793.9 203 793.2 203.4 792.5 203.1 791.8 203.2 791.1 203.6 790.4 203.9 789.7 203.9 789 204.1 788.3 203.7 787.6 203.6 786.9 203.8 786.2 203.9 785.5 203.9 784.8 203.5 784.1 203.3 783.4 203.6 782.7 203.6 782 203.5 781.3 203.4 780.6 203.8 779.9 203.6 779.2 202.9 778.5 203.2 777.8 203.3 777.1 203.3 776.4 203.6 775.7 203.4 775 203.8 774.3 203.8 773.6 203.7 772.9 203.6 772.2 203.6 771.5 203.6 770.8 204.2 770.1 204.5 769.4 204.4 768.7 204.7 768 203.8 767.3 203.9 766.6 203.9 765.9 204.2 765.2 203.8 764.5 204.4 763.8 204 763.1 204.8 762.4 204.5 761.7 205.1 761 204.7 760.3 204.9 759.6 204.7 758.9 204.2 758.2 204.9 757.5 204.6 756.8 204.5 756.1 204.5 755.4 204.6 754.7 204.9 754 205.1 753.3 204.9 752.6 205.2 751.9 205.7 751.2 206 750.5 206.6 749.8 206.2 749.1 206.2 748.4 206.5 747.7 206.5 747 206.5 746.3 206.2 745.6 206.2 744.9 205.7 744.2 205.8 743.5 205.5 742.8 204.7 742.1 204.9 741.4 205.3 740.7 205.6 740 205.5 739.3 205.7 738.6 205.9 737.9 205.7 737.2 205.8 736.5 206.6 735.8 206.6 735.1 206.6 734.4 206.5 733.7 206.7 733 206.3 732.3 206.9 731.6 206.8 730.9 207 730.2 207.1 729.5 206.2 728.8 206.7 728.1 206.8 727.4 206.6 726.7 205.9 726 206 725.3 206.8 724.6 206.1 723.9 206.2 723.2 206.4 722.5 206.6 721.8 206.2 721.1 206.2 720.4 206.4 719.7 206.7 719 206.3 718.3 206.2 717.6 206.5 716.9 205.9 716.2 206.4 715.5 206.1 714.8 206.4 714.1 206.9 713.4 206.7 712.7 206.9 712 207.3 711.3 207.5 710.6 207.7 709.9 206.8 709.2 207.2 708.5 207.4 707.8 206.6 707.1 206.7 706.4 207 705.7 206.3 705 206.6 704.3 206.7 703.6 206.6 702.9 206.9 702.2 206.6 701.5 206.5 700.8 206.1 700.1 206.5 699.4 206 698.7 206.3 698 205.8 697.3 206.6 696.6 206.3 695.9 206.3 695.2 205.6 694.5 205.7 693.8 205.1 693.1 204.6 692.4 205.6 691.7 205.1 691 204.8 690.3 204.6 689.6 204.4 688.9 204.8 688.2 204.6 687.5 204.7 686.8 205.1 686.1 204.6 685.4 204.5 684.7 204.6 684 204.8 683.3 204.5 682.6 204.7 681.9 204.5 681.2 204.4 680.5 204.7 679.8 204.3 679.1 205 678.4 204.9 677.7 205.1 677 205.1 676.3 205.2 675.6 205 674.9 204.8 674.2 204.9 673.5 205.3 672.8 205.1 672.1 205.3 671.4 205.7 670.7 205.6 670 205 669.3 205 668.6 205.2 667.9 205 667.2 204.9 666.5 205.6 665.8 205.1 665.1 204.8 664.4 205.1 663.7 205.4 663 205.5 662.3 205.1 661.6 205.8 660.9 206.2 660.2 206.4 659.5 206.2 658.8 206.6 658.1 206.8 657.4 207 656.7 207.1 656 207 655.3 207.7 654.6 207.5 653.9 206.9 653.2 206.9 652.5 207.3 651.8 206.9 651.1 206.5 650.4 206.5 649.7 206.4 649 206.9 648.3 206.7 647.6 206.7 646.9 206.8 646.2 206.8 645.5 206.5 644.8 206.5 644.1 205.9 643.4 206.1 642.7 206.4 642 206 641.3 205.7 640.6 206 639.9 206.2 639.2 206.9 638.5 206.8 637.8 206.3 637.1 206.2 636.4 206.1 635.7 206 635 205.9 634.3 205.9 633.6 205.8 632.9 205.7 632.2 205.8 631.5 206 630.8 206 630.1 205.8 629.4 205.9 628.7 205.5 628 205.8 627.3 206.1 626.6 205.7 625.9 205.5 625.2 205.7 624.5 205.8 623.8 205.9 623.1 206 622.4 205.7 621.7 205.8 621 205.4 620.3 205.3 619.6 205.9 618.9 205 618.2 205.4 617.5 205.2 616.8 205.5 616.1 205.3 615.4 205.5 614.7 205.7 614 205.4 613.3 205.5 612.6 204.8 611.9 204.7 611.2 204.6 610.5 204.5 609.8 204.6 609.1 204.2 608.4 204.5 607.7 204.5 607 204.6 606.3 204.6 605.6 204.9 604.9 205.4 604.2 205.5 603.5 205.1 602.8 205.5 602.1 205.9 601.4 205.7 600.7 205.7 600 206 599.3 205.7 598.6 206.1 597.9 205.6 597.2 205.8 596.5 205.9 595.8 205.7 595.1 205.7 594.4 205.8 593.7 205.7 593 205.5 592.3 205.2 591.6 205.3 590.9 205.8 590.2 205.7 589.5 205.9 588.8 205.4 588.1 205.8 587.4 205.9 586.7 205.5 586 205.7 585.3 205.7 584.6 206.3 583.9 205.6 583.2 206 582.5 206.1 581.8 205.7 581.1 206 580.4 206 579.7 206.6 579 206.8 578.3 206.8 577.6 206.7 576.9 206.9 576.2 206.1 575.5 206.8 574.8 206.4 574.1 206.1 573.4 206.5 572.7 206.7 572 206.8 571.3 206.9 570.6 206.9 569.9 206.5 569.2 206.7 568.5 206.7 567.8 207.1 567.1 206.7 566.4 206.8 565.7 207 565 207.3 564.3 206.9 563.6 206.4 562.9 206.8 562.2 206.2 561.5 206.2 560.8 205.9 560.1 206.2 559.4 205.9 558.7 206.1 558 206.7 557.3 206.6 556.6 206.3 555.9 206.2 555.2 206.1 554.5 205.8 553.8 205.9 553.1 206.4 552.4 205.4 551.7 205.6 551 205 550.3 204.8 549.6 204.9 548.9 205.6 548.2 205.4 547.5 206 546.8 205.4 546.1 205.4 545.4 205.3 544.7 205.6 544 206 543.3 205.7 542.6 205.9 541.9 205.6 541.2 205.3 540.5 205.1 539.8 205 539.1 205.2 538.4 204.8 537.7 204.5 537 204.7 536.3 204.5 535.6 204.6 534.9 204.8 534.2 204.3 533.5 204.3 532.8 204.3 532.1 204.6 531.4 204.4 530.7 205 530 204.9 529.3 205.1 528.6 204.6 527.9 204.7 527.2 204.7 526.5 204.1 525.8 204.7 525.1 204.7 524.4 204.5 523.7 204.2 523 203.8 522.3 204.1 521.6 204.6 520.9 204.5 520.2 204.4 519.5 204.4 518.8 204.7 518.1 204.6 517.4 204.1 516.7 204.5 516 204.7 515.3 205.2 514.6 205.2 513.9 205.5 513.2 205.3 512.5 204.9 511.8 204.8 511.1 204.6 510.4 204.8 509.7 204.7 509 204.1 508.3 204.5 507.6 204.7 506.9 204.9 506.2 204.6 505.5 205.4 504.8 205.6 504.1 205.4 503.4 205.8 502.7 206 502 206 501.3 205.7 500.6 205.8 499.9 205.3 499.2 205.1 498.5 205.8 497.8 205.6 497.1 204.7 496.4 205 495.7 204.7 495 204.9 494.3 204.5 493.6 204.9 492.9 204.5 492.2 204.6 491.5 205 490.8 205.6 490.1 205.2 489.4 205.5 488.7 205.3 488 204.9 487.3 205 486.6 205.5 485.9 204.9 485.2 204.9 484.5 205 483.8 205.1 483.1 205.8 482.4 206 481.7 205.7 481 205.5 480.3 205.9 479.6 205 478.9 205.1 478.2 205.2 477.5 205.5 476.8 204.9 476.1 205.1 475.4 205 474.7 204.6 474 204.9Z" fill="#0a0a0a"/>
<path d="M474 205.5 474.7 194.8 475.4 205.4 476.1 191.3 476.8 205.7 477.5 193 478.2 208.1 478.9 194.9 479.6 206.3 480.3 193.7 481 206.4 481.7 195.2 482.4 206 483.1 192.8 483.8 207.4 484.5 195.3 485.2 205.5 485.9 193.7 486.6 206.3 487.3 194 488 206.6 488.7 194.1 489.4 206.3 490.1 195.1 490.8 210 491.5 195.2 492.2 205.5 492.9 195 493.6 206.1 494.3 193.2 495 206.4 495.7 195.1 496.4 205.3 497.1 194.6 497.8 206.2 498.5 193 499.2 206.7 499.9 195 500.6 206.9 501.3 193.8 502 207.7 502.7 196.1 503.4 206.5 504.1 195.6 504.8 207.1 505.5 195.4 506.2 205.9 506.9 195.4 507.6 205 508.3 194.3 509 204.9 509.7 194.6 510.4 205.3 511.1 194 511.8 207 512.5 195 513.2 206 513.9 194.9 514.6 206 515.3 194.2 516 206.6 516.7 194.2 517.4 204.6 518.1 192.9 518.8 206 519.5 194.5 520.2 205.2 520.9 194 521.6 204.8 522.3 194 523 205.7 523.7 194.4 524.4 205.2 525.1 191.9 525.8 205.4 526.5 194 527.2 205.2 527.9 194.8 528.6 205.1 529.3 193.2 530 206.1 530.7 193.9 531.4 205.7 532.1 194.5 532.8 204.6 533.5 193.1 534.2 206 534.9 193.4 535.6 206.1 536.3 193.3 537 205.6 537.7 191.5 538.4 205.9 539.1 194.9 539.8 205.5 540.5 194.7 541.2 205.8 541.9 195.7 542.6 206.4 543.3 196 544 208.1 544.7 196 545.4 205.6 546.1 193.8 546.8 206 547.5 196 548.2 206.1 548.9 194.2 549.6 207.4 550.3 192.9 551 205.3 551.7 194.6 552.4 206.4 553.1 196.3 553.8 206.3 554.5 196.2 555.2 206.2 555.9 195.8 556.6 207.2 557.3 196.4 558 207.6 558.7 196.9 559.4 206.9 560.1 195 560.8 206.3 561.5 193.7 562.2 206.7 562.9 196.8 563.6 207 564.3 195.3 565 208.1 565.7 197.6 566.4 206.6 567.1 193.8 567.8 207.4 568.5 196.8 569.2 206.9 569.9 196.7 570.6 208 571.3 196.1 572 207.3 572.7 191.4 573.4 207.5 574.1 196.1 574.8 206.5 575.5 196.1 576.2 207.1 576.9 195.2 577.6 208.1 578.3 195.5 579 207.9 579.7 195.2 580.4 207.1 581.1 192.4 581.8 207.4 582.5 196.6 583.2 207 583.9 196.1 584.6 206.4 585.3 194.1 586 206.4 586.7 195.9 587.4 207.8 588.1 196.6 588.8 206.4 589.5 196.4 590.2 205.9 590.9 194.5 591.6 206.3 592.3 194.7 593 206.4 593.7 195.9 594.4 206 595.1 196.2 595.8 205.9 596.5 196 597.2 206.3 597.9 196 598.6 206.2 599.3 196 600 206.5 600.7 194.4 601.4 206.9 602.1 195.7 602.8 206.5 603.5 192.5 604.2 205.9 604.9 194.6 605.6 205.1 606.3 194.9 607 204.9 607.7 193.5 608.4 204.7 609.1 194.3 609.8 204.7 610.5 195.2 611.2 204.8 611.9 195.3 612.6 205.2 613.3 195.6 614 207 614.7 194.6 615.4 205.8 616.1 195.2 616.8 205.7 617.5 193.6 618.2 206.5 618.9 194.4 619.6 206.2 620.3 194.1 621 205.8 621.7 195.7 622.4 208.6 623.1 195.4 623.8 206.7 624.5 195.2 625.2 209 625.9 195.5 626.6 205.9 627.3 196.7 628 206.7 628.7 196.4 629.4 206.8 630.1 195.4 630.8 206 631.5 195.6 632.2 206 632.9 195.9 633.6 207 634.3 192.1 635 206.6 635.7 196.2 636.4 206.5 637.1 196.5 637.8 207 638.5 194.9 639.2 207.8 639.9 196.9 640.6 206.3 641.3 196.3 642 207.3 642.7 196.1 643.4 207 644.1 194.5 644.8 208.1 645.5 197 646.2 207.2 646.9 196.8 647.6 208 648.3 197 649 207.1 649.7 196.2 650.4 206.7 651.1 196.1 651.8 207.7 652.5 195.8 653.2 207.9 653.9 197.2 654.6 208.3 655.3 198.3 656 208 656.7 195.4 657.4 207.2 658.1 197.3 658.8 207.9 659.5 193.1 660.2 206.6 660.9 196.5 661.6 207.1 662.3 193.5 663 206.6 663.7 195.5 664.4 205.9 665.1 195 665.8 206.9 666.5 195.3 667.2 206.1 667.9 193.8 668.6 205.4 669.3 195 670 207.3 670.7 194.7 671.4 205.7 672.1 195.6 672.8 205.3 673.5 195.1 674.2 206.2 674.9 193.5 675.6 205.1 676.3 195.3 677 207.5 677.7 195.1 678.4 205.7 679.1 196 679.8 204.6 680.5 194.9 681.2 205 681.9 191.5 682.6 205.4 683.3 194.9 684 204.7 684.7 194.2 685.4 204.6 686.1 195.4 686.8 205.4 687.5 195.5 688.2 205.6 688.9 195.3 689.6 204.8 690.3 195 691 206.9 691.7 194.5 692.4 206.2 693.1 193.6 693.8 205.5 694.5 194.6 695.2 205.8 695.9 196.7 696.6 207.3 697.3 197.1 698 206.5 698.7 196.3 699.4 207.2 700.1 195.6 700.8 207.2 701.5 196.7 702.2 208.6 702.9 197.7 703.6 206.9 704.3 197.4 705 207.8 705.7 197.4 706.4 208.1 707.1 195.6 707.8 208.1 708.5 196.6 709.2 208.3 709.9 198 710.6 208.6 711.3 195.4 712 208.6 712.7 197.7 713.4 207.5 714.1 197.8 714.8 207.3 715.5 194.5 716.2 207 716.9 194.8 717.6 207 718.3 196.8 719 207.1 719.7 194.8 720.4 207.5 721.1 197.2 721.8 207 722.5 196.9 723.2 207.2 723.9 197.2 724.6 206 725.3 195.5 726 208.3 726.7 196.2 727.4 208 728.1 196.4 728.8 206.7 729.5 196.3 730.2 207.9 730.9 196.2 731.6 207.5 732.3 197.2 733 207.2 733.7 195.1 734.4 207.2 735.1 195.6 735.8 207.4 736.5 197.3 737.2 206.2 737.9 194 738.6 206 739.3 196.6 740 207.3 740.7 194.7 741.4 205.6 742.1 195.2 742.8 205.9 743.5 196.5 744.2 207 744.9 196 745.6 207.2 746.3 196.9 747 207 747.7 195.6 748.4 206.2 749.1 195 749.8 206.3 750.5 197.4 751.2 207.1 751.9 195.1 752.6 205.4 753.3 196.1 754 206.6 754.7 192.6 755.4 205.5 756.1 194.1 756.8 206.3 757.5 193.6 758.2 205 758.9 191.9 759.6 205.8 760.3 193.9 761 205.6 761.7 195 762.4 206.2 763.1 194.1 763.8 205.1 764.5 195.1 765.2 205.4 765.9 194.1 766.6 205.3 767.3 192.9 768 204.8 768.7 192.5 769.4 204.7 770.1 192.5 770.8 204.5 771.5 194.3 772.2 204.9 772.9 194.6 773.6 204.1 774.3 194.5 775 204.4 775.7 193.2 776.4 203.9 777.1 191.7 777.8 204 778.5 193.4 779.2 204 779.9 193.9 780.6 204.2 781.3 193.8 782 204.6 782.7 193.5 783.4 204.9 784.1 193.1 784.8 204.8 785.5 193.2 786.2 205.9 786.9 193.5 787.6 205.9 788.3 194.4 789 204.6 789.7 194.7 790.4 205.7 791.1 193.9 791.8 203.7 792.5 191.6 793.2 203.5 793.9 193.5 794.6 203.7 795.3 192.3 796 202.8 796.7 190.9 797.4 202.3 798.1 193.4 798.8 203.3 799.5 191.5 800.2 204.7 800.9 193 801.6 203.1 802.3 188.9 803 202.6 803.7 190.6 804.4 202.9 805.1 190.9 805.8 203.6 806.5 192.7 807.2 203.6 807.9 192.6 808.6 204.2 809.3 191.6 810 204.2 810.7 190.9 811.4 203.9 812.1 193.1 812.8 204.2 813.5 190.8 814.2 203.9 814.9 192.6 815.6 202.7 816.3 190.9 817 203.7 817.7 191.9 818.4 202.7 819.1 189.2 819.8 203.3 820.5 191.3 821.2 202.4 821.9 190 822.6 202.6 823.3 190.9 824 203.3 824.7 192.7 825.4 203.6 826.1 192.7 826.8 203.7 827.5 191.3 828.2 202.3 828.9 191.8 829.6 202.9 830.3 190.4 831 202.4 831.7 187.9 832.4 203.9 833.1 191.7 833.8 203.8 834.5 190 835.2 204.6 835.9 193 836.6 203.1 837.3 189.6 838 203.9 838.7 190.9 839.4 203.1 840.1 191.9 840.8 203.4 841.5 188.7 842.2 203.3 842.9 191.5 843.6 203.9 844.3 191.9 845 202.7 845.7 190.2 846.4 203.1 847.1 191.4 847.8 202.9 848.5 191.5 849.2 202.9 849.9 191.2 850.6 202.1 851.3 190.1 852 202.9 852.7 190.9 853.4 202.3 854.1 190.1 854.8 201.9 855.5 189.7 856.2 201.1 856.9 190.3 857.6 202 858.3 190.6 859 203.7 859.7 189.1 860.4 202.6 861.1 191.7 861.8 202.8 862.5 191.7 863.2 202.2 863.9 190.9 864.6 202.9 865.3 189.6 866 203.7 866.7 190.8 867.4 201.4 868.1 189.6 868.8 202.2 869.5 183.9 870.2 201.7 870.9 187.5 871.6 202.9 872.3 189.9 873 202.1 873.7 188.7 874.4 202.8 875.1 188.4 875.8 202.5 876.5 190.2 877.2 203.6 877.9 190.5 878.6 202.4 879.3 189.6 880 201.6 880.7 189.8 881.4 201.8 882.1 190.4 882.8 202.2 883.5 189.6 884.2 201.2 884.9 187.4 885.6 201.5 886.3 188.9 887 200.5 887.7 187.9 888.4 201.7 889.1 189.5 889.8 201.4 890.5 189.7 891.2 200.9 891.9 187.4 892.6 200.9 893.3 189.1 894 201.7 894.7 188.2 895.4 201.8 896.1 187.8 896.8 201 897.5 189.3 898.2 201.1 898.9 189 899.6 202.1 900.3 184.1 901 201.1 901.7 187.9 902.4 200.9 903.1 186.8 903.8 201.3 904.5 187.8 905.2 200.3 905.9 188.5 906.6 202.1 907.3 187.6 908 203.3 908.7 189.1 909.4 201.2 910.1 188.5 910.8 201.3 911.5 188.9 912.2 202 912.9 187.7 913.6 201.2 914.3 187.4 915 202 915.7 187.3 916.4 200.5 917.1 185.4 917.8 200.2 918.5 188.4 919.2 200.9 919.5 188.5" fill="none" stroke="#0a0a0a" stroke-width="0.9" stroke-linejoin="bevel"/>
<path d="M932.5 190.5 933.2 190.9 933.9 191.8 934.6 191.2 935.3 191.8 936 191.3 936.7 191.7 937.4 191.6 938.1 191.1 938.8 191.7 939.5 191.4 940.2 191.2 940.9 191.4 941.6 191.7 942.3 192 943 192 943.7 191.4 944.4 191.4 945.1 191.8 945.8 191.3 946.5 191.2 947.2 191.1 947.9 191 948.6 191.4 949.3 191.5 950 191.2 950.7 191.4 951.4 191.1 952.1 191 952.8 191.2 953.5 191.1 954.2 191 954.9 191.6 955.6 191.3 956.3 190.9 957 191.2 957.7 191.3 958.4 190.8 959.1 190.7 959.8 190.6 960.5 190.6 961.2 190.2 961.9 190.3 962.6 190.8 963.3 190.5 964 190.4 964.7 190.6 965.4 190.5 966.1 190 966.8 190.5 967.5 189.8 968.2 190.5 968.9 190.7 969.6 191 970.3 191 971 192 971.7 191.6 972.4 191.6 973.1 191.9 973.8 191.2 974.5 191.6 975.2 191.6 975.9 191.7 976.6 191.9 977.3 191.9 978 192 978.7 192.3 979.4 192.7 980.1 192.4 980.8 192.4 981.5 192.3 982.2 191.9 982.9 191.9 983.6 192 984.3 192.5 985 192.2 985.7 192.1 986.4 192.2 987.1 192.4 987.8 192.1 988.5 191.5 989.2 191.4 989.9 191.4 990.6 191.5 991.3 191.4 992 191.8 992.7 191.2 993.4 191.7 994.1 191.9 994.8 192.1 995.5 192.3 996.2 191.9 996.9 192.6 997.6 192 998.3 191.9 999 192.1 999.7 191.9 1000.4 192.1 1001.1 192.1 1001.8 192.5 1002.5 192.1 1003.2 192.5 1003.9 192.6 1004.6 192.6 1005.3 192.4 1006 192.9 1006.7 192.6 1007.4 192.3 1008.1 192.8 1008.8 191.9 1009.5 191.9 1010.2 192.3 1010.9 192.4 1011.6 192.9 1012.3 192.9 1013 192.5 1013.7 193 1014.4 192.8 1015.1 193.2 1015.8 193 1016.5 192.7 1017.2 192.5 1017.9 192.9 1018.6 192.3 1019.3 192.5 1020 192.6 1020.7 192.2 1021.4 192 1022.1 192.5 1022.8 191.9 1023.5 192.6 1024.2 192.6 1024.9 192.5 1025.6 192.2 1026.3 192.2 1027 191.9 1027.7 192.2 1028.4 192.4 1029.1 193.1 1029.8 193.2 1030.5 193.6 1031.2 194 1031.9 193.4 1032.6 194.3 1033.3 193.4 1034 194.1 1034.7 194 1035.4 193.6 1036.1 193.1 1036.8 193.5 1037.5 193.7 1038.2 193.5 1038.9 193.8 1039.6 193.4 1040.3 193.8 1041 193.2 1041.7 193.2 1042.4 193.5 1043.1 193.3 1043.8 193.5 1044.5 193.2 1045.2 193.5 1045.9 192.9 1046.6 193 1047.3 192.6 1048 193 1048.7 193.4 1049.4 193.6 1050.1 193.4 1050.8 193.6 1051.5 193 1052.2 193.3 1052.9 192.8 1053.6 193 1054.3 192.6 1055 192.4 1055.7 192 1056.4 192.1 1057.1 192.6 1057.8 192.7 1058.5 192.4 1059.2 192.4 1059.9 193 1060.6 193.2 1061.3 192.9 1062 193.2 1062.7 193.1 1063.4 192.8 1064.1 192.2 1064.8 192.1 1065.5 193 1066.2 193.3 1066.9 193 1067.6 193.4 1068.3 193.2 1069 193.1 1069.7 193.3 1070.4 193.3 1071.1 193.2 1071.8 193.7 1072.5 194.1 1073.2 193.9 1073.9 193.3 1074.6 193.9 1075.3 194 1076 194 1076.7 193.8 1077.4 194.5 1078.1 194.9 1078.8 194.2 1079.5 194 1080.2 194.5 1080.9 194 1081.6 194.5 1082.3 194.7 1083 194.5 1083.7 194.1 1084.4 194.5 1085.1 194.3 1085.8 194.5 1086.5 193.8 1087.2 193.8 1087.9 194.4 1088.6 194.1 1089.3 193.6 1090 193.6 1090.7 193.7 1091.4 194.1 1092.1 193.8 1092.8 193.5 1093.5 194 1094.2 193.9 1094.9 193.9 1095.6 194.3 1096.3 194.7 1097 194.6 1097.7 194.5 1098.4 194.3 1099.1 194.7 1099.8 194.9 1100.5 194.4 1101.2 194.5 1101.9 194.7 1102.6 195.2 1103.3 195.8 1104 195.9 1104.7 195.7 1105.4 195.7 1106.1 195.8 1106.8 195.2 1107.5 195.1 1108.2 195.3 1108.9 194.9 1109.6 195.4 1110.3 194.9 1111 194.8 1111.7 194.4 1112.4 194.4 1113.1 194.5 1113.8 194.2 1114.5 193.6 1115.2 193.9 1115.9 194.4 1116.6 194.6 1117.3 194.8 1118 195.2 1118.7 195.2 1119.4 194.5 1120.1 195 1120.8 195.4 1121.5 195 1122.2 195.4 1122.9 195.3 1123.6 195.7 1124.3 195.3 1125 195.3 1125.7 194.9 1126.4 195.5 1127.1 195 1127.8 195.1 1128.5 195.3 1129.2 194.9 1129.9 195.1 1130.6 195 1131.3 195.1 1132 194.9 1132.7 195.2 1133.4 194.7 1134.1 194.7 1134.8 194.8 1135.5 195.2 1136.2 195 1136.9 195.4 1137.6 195.8 1138.3 196 1139 196 1139.7 195.6 1140.4 195.8 1141.1 195.8 1141.8 195.9 1142.5 195.4 1143.2 195.2 1143.9 195.1 1144.6 195 1145.3 195.6 1146 195.5 1146.7 195.2 1147.4 195.9 1148.1 196.3 1148.8 195.7 1149.5 195.5 1150.2 195.2 1150.9 195.1 1151.6 194.7 1152.3 195.2 1153 194.8 1153.7 195 1154.4 195.2 1155.1 195 1155.8 195.1 1156.5 195.4 1157.2 194.9 1157.9 194.7 1158.6 194.5 1159.3 194.6 1160 193.9 1160.7 194 1161.4 194 1162.1 194.2 1162.8 194.4 1163.5 194.7 1164.2 194.6 1164.9 194.6 1165.6 194.6 1166.3 195 1167 194.7 1167.7 194.8 1168.4 195.1 1169.1 194.7 1169.8 194.7 1170.5 195.1 1171.2 194.7 1171.9 194.8 1172.6 194.4 1173.3 194.4 1174 194.3 1174.7 194 1175.4 194.2 1176.1 194.4 1176.8 194.3 1177.5 194.8 1178.2 194.1 1178.9 194.2 1179.6 194.4 1180.3 194.7 1181 194.4 1181.7 194.4 1182.4 194.6 1183.1 194.3 1183.8 194.5 1184.5 194.3 1185.2 194.5 1185.9 194.6 1186.6 194.6 1187.3 194.5 1188 194.9 1188.7 195.1 1189.4 194.4 1190.1 194.5 1190.8 194.3 1191.5 194.8 1192.2 194.2 1192.9 194.1 1193.6 193.5 1194.3 193.6 1195 193.2 1195.7 193.6 1196.4 193.2 1197.1 193.4 1197.8 193.4 1198.5 193.9 1199.2 194.2 1199.9 194 1200.6 194.1 1201.3 194.4 1202 194 1202.7 194 1203.4 193.9 1204.1 193.3 1204.8 193.6 1205.5 192.9 1206.2 193.3 1206.9 192.5 1207.6 192.9 1208.3 193.1 1209 193.5 1209.7 193.6 1210.4 193.3 1211.1 193.3 1211.8 193.5 1212.5 193.2 1213.2 193.1 1213.9 193.8 1214.6 194 1215.3 193.7 1216 193.5 1216.7 193.2 1217.4 193.3 1218.1 193.7 1218.8 193.7 1219.5 193.6 1220.2 193.4 1220.9 193.3 1221.6 193.3 1222.3 192.9 1223 192.9 1223.7 192.8 1224.4 192.7 1225.1 193.3 1225.8 193.4 1226.5 193 1227.2 193 1227.9 192.5 1228.6 192.4 1229.3 192.9 1230 192.7 1230.7 193.4 1231.4 193.2 1232.1 193.3 1232.8 193.3 1233.5 193.6 1234.2 193.6 1234.9 193.3 1235.6 193.5 1236.3 193.3 1237 193.7 1237.7 194.1 1238.4 193.1 1239.1 193.6 1239.8 193.8 1240.5 193.3 1241.2 193 1241.9 193.3 1242.6 193 1243.3 193 1244 193.4 1244.7 194.1 1245.4 193.8 1246.1 193.5 1246.8 193.9 1247.5 193.5 1248.2 193.3 1248.9 193.1 1249.6 192.5 1250.3 193 1251 193.3 1251.7 193.6 1252.4 193.7 1253.1 193.2 1253.8 193.2 1254.5 193.5 1255.2 193.9 1255.9 193.5 1256.6 193.3 1257.3 194.3 1258 193.8 1258.7 193.3 1259.4 193.8 1260.1 193.9 1260.8 193.5 1261.5 193.7 1262.2 194 1262.9 194 1263.6 193.3 1264.3 193 1265 193.4 1265.7 192.6 1266.4 192.5 1267.1 192.5 1267.8 192.2 1268.5 192.7 1269.2 192.8 1269.9 192.4 1270.6 192.5 1271.3 193.2 1272 193.5 1272.7 193.6 1273.4 193.3 1274.1 193 1274.8 192.8 1275.5 192.5 1276.2 192.1 1276.9 192.7 1277.6 192.4 1278.3 192.7 1279 192.6 1279.7 192.3 1280.4 192.4 1281.1 192.2 1281.8 192 1282.5 192.3 1283.2 192.7 1283.9 192.7 1284.6 192.7 1285.3 193.4 1286 193.3 1286.7 193.3 1287.4 193 1288.1 192.4 1288.8 192.3 1289.5 192.2 1290.2 192 1290.9 192.3 1291.6 192.4 1292.3 192 1293 192 1293.7 191.7 1294.4 191.8 1295.1 192.4 1295.8 192.3 1296.5 192.3 1297.2 192.9 1297.9 192.6 1298.6 192.1 1299.3 192.3 1300 192.3 1300.7 192.2 1301.4 192.8 1302.1 192.7 1302.8 193.1 1303.5 192.9 1304.2 192.5 1304.9 192.3 1305.6 192 1306.3 191.9 1307 191.8 1307.7 192.5 1308.4 192.3 1309.1 191.4 1309.8 191.3 1310.5 191.8 1311.2 191.2 1311.9 190.9 1312.6 191 1313.3 191.3 1314 191.7 1314.7 191.7 1315.4 191.3 1316.1 191.5 1316.8 191.4 1317.5 191.4 1318.2 191.7 1318.9 191.5 1319.6 191.8 1320.3 192.1 1321 191.8 1321.7 192.1 1322.4 192.4 1323.1 192.6 1323.8 192.5 1324.5 192.8 1325.2 192.8 1325.9 193 1326.6 192.9 1327.3 192.9 1328 192.8 1328.7 192.3 1329.4 192.6 1330.1 192.7 1330.8 192.2 1331.5 192.3 1332.2 192.8 1332.9 193.3 1333.6 193.6 1334.3 193.6 1335 193.2 1335.7 193.4 1336.4 193.4 1337.1 193.7 1337.8 194 1338.5 194.5 1339.2 194.7 1339.9 193.9 1340.6 193.8 1341.3 193.7 1342 193.5 1342.7 193.5 1343.4 193.7 1344.1 194 1344.8 194 1345.5 194.1 1346.2 194.5 1346.9 194.6 1347.6 194.3 1348.3 194.4 1349 194.6 1349.7 194.4 1350.4 194.7 1351.1 194.4 1351.8 193.8 1352.5 193.9 1353.2 193.8 1353.9 194.1 1354.6 194.1 1355.3 193.6 1356 193.8 1356.7 193.6 1357.4 193.8 1358.1 194 1358.8 193.7 1359.5 193.3 1360.2 193.2 1360.9 193.3 1361.6 193.1 1362.3 193 1363 193.1 1363.7 192.8 1364.4 193.1 1365.1 192.4 1365.8 192.7 1366.5 192.2 1366.7 193.1 L1366.7 202.2 1366.5 201.4 1365.8 201.6 1365.1 201.4 1364.4 201.7 1363.7 201.5 1363 202 1362.3 202.2 1361.6 202 1360.9 202.3 1360.2 202.1 1359.5 202.1 1358.8 202.9 1358.1 202.6 1357.4 202.5 1356.7 202.7 1356 202.5 1355.3 202.9 1354.6 202.6 1353.9 202.8 1353.2 202.8 1352.5 202.7 1351.8 202.6 1351.1 203.3 1350.4 203.3 1349.7 203 1349 203.4 1348.3 203.6 1347.6 203.5 1346.9 203.4 1346.2 203.3 1345.5 202.9 1344.8 202.6 1344.1 202.3 1343.4 202.8 1342.7 202.5 1342 202.2 1341.3 202.5 1340.6 202.8 1339.9 202.8 1339.2 203.2 1338.5 203.3 1337.8 202.7 1337.1 202.7 1336.4 202.4 1335.7 202.4 1335 202.2 1334.3 202 1333.6 202.1 1332.9 201.6 1332.2 201.7 1331.5 201.1 1330.8 201 1330.1 201.4 1329.4 200.8 1328.7 200.7 1328 201 1327.3 201.2 1326.6 201.9 1325.9 201.6 1325.2 201.6 1324.5 201.6 1323.8 201.4 1323.1 201.3 1322.4 201.2 1321.7 200.5 1321 200.6 1320.3 200.9 1319.6 200.3 1318.9 200.7 1318.2 200.3 1317.5 200 1316.8 200 1316.1 200 1315.4 200.1 1314.7 200.4 1314 200.5 1313.3 199.9 1312.6 199.2 1311.9 199.5 1311.2 199.6 1310.5 199.9 1309.8 199.9 1309.1 200.4 1308.4 201 1307.7 201.2 1307 200.8 1306.3 200.5 1305.6 200.5 1304.9 200.7 1304.2 201.2 1303.5 201.6 1302.8 201.6 1302.1 201.6 1301.4 201.5 1300.7 201.2 1300 200.9 1299.3 201.1 1298.6 201.1 1297.9 201.3 1297.2 201.5 1296.5 201.4 1295.8 201.2 1295.1 200.9 1294.4 200.5 1293.7 200.6 1293 200.9 1292.3 200.4 1291.6 200.7 1290.9 200.8 1290.2 201.2 1289.5 201.3 1288.8 201.2 1288.1 201.3 1287.4 201.7 1286.7 201.8 1286 201.7 1285.3 201.6 1284.6 201.2 1283.9 201.3 1283.2 200.8 1282.5 200.8 1281.8 201.1 1281.1 200.9 1280.4 200.9 1279.7 201 1279 201.3 1278.3 201.1 1277.6 201.1 1276.9 201.3 1276.2 201 1275.5 200.8 1274.8 201.3 1274.1 201.8 1273.4 201.9 1272.7 202.3 1272 202 1271.3 201.9 1270.6 201.4 1269.9 201.1 1269.2 200.7 1268.5 201 1267.8 200.8 1267.1 201 1266.4 201.3 1265.7 201.1 1265 201.8 1264.3 202 1263.6 202 1262.9 202.3 1262.2 202.4 1261.5 202.6 1260.8 202 1260.1 202.7 1259.4 202.4 1258.7 201.8 1258 202.5 1257.3 202.5 1256.6 202.2 1255.9 202.2 1255.2 202.1 1254.5 201.8 1253.8 201.7 1253.1 201.8 1252.4 202.2 1251.7 202 1251 201.5 1250.3 201.5 1249.6 201.2 1248.9 201.3 1248.2 202.2 1247.5 201.7 1246.8 201.9 1246.1 202.1 1245.4 202.2 1244.7 202.8 1244 201.7 1243.3 201.4 1242.6 202 1241.9 201.8 1241.2 201.4 1240.5 201.8 1239.8 202.4 1239.1 202.3 1238.4 201.8 1237.7 202.6 1237 201.8 1236.3 201.7 1235.6 202.1 1234.9 201.6 1234.2 202 1233.5 201.9 1232.8 201.3 1232.1 201.5 1231.4 201.7 1230.7 201.4 1230 201.3 1229.3 201.1 1228.6 201.4 1227.9 200.9 1227.2 201.5 1226.5 201.8 1225.8 202.1 1225.1 201.8 1224.4 201.3 1223.7 201 1223 201.4 1222.3 201.1 1221.6 201.7 1220.9 201.7 1220.2 201.9 1219.5 202.2 1218.8 202 1218.1 202.2 1217.4 201.6 1216.7 201.5 1216 201.5 1215.3 202.1 1214.6 202.5 1213.9 201.7 1213.2 201.5 1212.5 201.4 1211.8 201.5 1211.1 201.6 1210.4 202 1209.7 201.8 1209 201.6 1208.3 201.4 1207.6 201.2 1206.9 201 1206.2 201.5 1205.5 201.8 1204.8 201.7 1204.1 201.9 1203.4 202.4 1202.7 202.6 1202 202.3 1201.3 202.9 1200.6 202.6 1199.9 202.3 1199.2 202 1198.5 202.2 1197.8 202 1197.1 201.7 1196.4 201.2 1195.7 201.7 1195 202.1 1194.3 202.4 1193.6 202 1192.9 202.4 1192.2 202.8 1191.5 203.4 1190.8 203 1190.1 203 1189.4 203.1 1188.7 203.3 1188 202.7 1187.3 203 1186.6 203 1185.9 202.8 1185.2 203 1184.5 202.1 1183.8 202.7 1183.1 203 1182.4 202.6 1181.7 202.8 1181 203.1 1180.3 202.9 1179.6 203.3 1178.9 202.8 1178.2 202.9 1177.5 203 1176.8 202.7 1176.1 202.6 1175.4 202.6 1174.7 202.2 1174 202.7 1173.3 202.7 1172.6 202.5 1171.9 203 1171.2 203.2 1170.5 203.1 1169.8 203.2 1169.1 203.2 1168.4 203 1167.7 203 1167 202.9 1166.3 202.9 1165.6 202.8 1164.9 203.2 1164.2 202.7 1163.5 202.6 1162.8 202.7 1162.1 202.3 1161.4 202.4 1160.7 202 1160 201.7 1159.3 202.8 1158.6 202.8 1157.9 203.1 1157.2 202.8 1156.5 203.6 1155.8 202.8 1155.1 203.6 1154.4 203.4 1153.7 203.2 1153 203 1152.3 203.1 1151.6 203.2 1150.9 203.6 1150.2 204 1149.5 204.1 1148.8 204.3 1148.1 204.4 1147.4 203.9 1146.7 203.7 1146 204.1 1145.3 203.7 1144.6 203.3 1143.9 203 1143.2 203.1 1142.5 203.9 1141.8 203.5 1141.1 203.7 1140.4 203.7 1139.7 203.8 1139 204.5 1138.3 204 1137.6 204.3 1136.9 204 1136.2 203.3 1135.5 203.3 1134.8 202.8 1134.1 202.6 1133.4 203.1 1132.7 203 1132 203 1131.3 202.8 1130.6 203.2 1129.9 203.3 1129.2 203.1 1128.5 203.5 1127.8 203.4 1127.1 203.3 1126.4 203.4 1125.7 202.7 1125 203.2 1124.3 203.4 1123.6 203.7 1122.9 202.9 1122.2 203.6 1121.5 203.4 1120.8 204 1120.1 203 1119.4 202.7 1118.7 202.8 1118 203 1117.3 202.9 1116.6 202.7 1115.9 202.3 1115.2 201.7 1114.5 202.2 1113.8 202 1113.1 202.2 1112.4 202.8 1111.7 202.5 1111 202.9 1110.3 203.1 1109.6 203.5 1108.9 202.9 1108.2 203.5 1107.5 203.3 1106.8 203.3 1106.1 203.9 1105.4 203.6 1104.7 203.9 1104 204 1103.3 204 1102.6 203.7 1101.9 203.2 1101.2 202.3 1100.5 202.8 1099.8 202.8 1099.1 203 1098.4 202.9 1097.7 202.7 1097 202.4 1096.3 202.7 1095.6 202.5 1094.9 202.3 1094.2 202.3 1093.5 202 1092.8 201.8 1092.1 202.1 1091.4 202 1090.7 201.9 1090 201.6 1089.3 201.8 1088.6 202 1087.9 202.4 1087.2 201.8 1086.5 202.3 1085.8 202.3 1085.1 202.2 1084.4 202.4 1083.7 202.2 1083 202.1 1082.3 202.5 1081.6 202.8 1080.9 202.8 1080.2 202.2 1079.5 202.2 1078.8 202.4 1078.1 202.6 1077.4 202.9 1076.7 202 1076 202.2 1075.3 202.5 1074.6 201.9 1073.9 202 1073.2 202 1072.5 202.1 1071.8 201.7 1071.1 201.5 1070.4 201.4 1069.7 201.5 1069 201.1 1068.3 201.6 1067.6 201.7 1066.9 201.2 1066.2 201.6 1065.5 201.2 1064.8 200.6 1064.1 200.5 1063.4 201.2 1062.7 200.8 1062 201.2 1061.3 200.8 1060.6 201.2 1059.9 201.1 1059.2 200.9 1058.5 201.1 1057.8 200.9 1057.1 200.6 1056.4 200.8 1055.7 200.7 1055 200.8 1054.3 200.8 1053.6 200.7 1052.9 200.9 1052.2 201.1 1051.5 201.6 1050.8 201.5 1050.1 201.4 1049.4 202.1 1048.7 201.4 1048 201.7 1047.3 200.9 1046.6 200.9 1045.9 201.5 1045.2 201.2 1044.5 201.3 1043.8 201.3 1043.1 201.2 1042.4 201.3 1041.7 201.1 1041 201.8 1040.3 201.7 1039.6 202 1038.9 202 1038.2 201.6 1037.5 201.6 1036.8 201.7 1036.1 201.7 1035.4 202 1034.7 202 1034 202.1 1033.3 202.1 1032.6 202.7 1031.9 201.6 1031.2 202.3 1030.5 202.2 1029.8 202 1029.1 201 1028.4 200.7 1027.7 200.3 1027 200.4 1026.3 200.4 1025.6 200.2 1024.9 200.8 1024.2 201.1 1023.5 200.7 1022.8 200 1022.1 200.6 1021.4 200.3 1020.7 200.7 1020 200.8 1019.3 201.1 1018.6 200.8 1017.9 201 1017.2 200.8 1016.5 201 1015.8 201.1 1015.1 201.3 1014.4 201.2 1013.7 201.3 1013 201.2 1012.3 201.1 1011.6 200.9 1010.9 200.8 1010.2 200.9 1009.5 200.6 1008.8 200.7 1008.1 201.1 1007.4 200.7 1006.7 200.8 1006 200.9 1005.3 201.2 1004.6 201 1003.9 201.2 1003.2 201.3 1002.5 200.8 1001.8 201 1001.1 200.3 1000.4 200.4 999.7 200.6 999 200.2 998.3 200.5 997.6 200.5 996.9 200.5 996.2 200.8 995.5 200.1 994.8 200.7 994.1 200.5 993.4 199.8 992.7 199.3 992 200.2 991.3 200.1 990.6 200.1 989.9 199.9 989.2 200 988.5 199.9 987.8 200.6 987.1 200.2 986.4 200.7 985.7 200.3 985 200.8 984.3 200.5 983.6 200.3 982.9 200.3 982.2 200 981.5 200.4 980.8 200.4 980.1 200.6 979.4 201 978.7 200.9 978 200.6 977.3 200.3 976.6 199.9 975.9 200.2 975.2 200.1 974.5 199.6 973.8 199.8 973.1 200.2 972.4 199.8 971.7 200.1 971 200.2 970.3 199.4 969.6 198.9 968.9 199 968.2 198.5 967.5 198.2 966.8 198.4 966.1 198.7 965.4 198.6 964.7 198.7 964 198.5 963.3 198.8 962.6 199.2 961.9 199.1 961.2 199 960.5 199.1 959.8 198.7 959.1 199.1 958.4 199.4 957.7 199.6 957 199.6 956.3 199.9 955.6 199.8 954.9 199.7 954.2 199.4 953.5 199.8 952.8 199.5 952.1 199.8 951.4 199.6 950.7 199.8 950 199.3 949.3 199.8 948.6 199.7 947.9 199.6 947.2 199.6 946.5 199.8 945.8 200.1 945.1 200.5 944.4 199.9 943.7 199.8 943 200.5 942.3 200.7 941.6 199.8 940.9 200.1 940.2 199.7 939.5 199.9 938.8 200.1 938.1 200 937.4 199.7 936.7 200.3 936 200.2 935.3 200.2 934.6 199.9 933.9 200.1 933.2 199.4 932.5 198.7Z" fill="#0a0a0a"/>
<path d="M932.5 199.7 933.2 189.8 933.9 200.7 934.6 191.4 935.3 200.6 936 191.4 936.7 201.8 937.4 189.7 938.1 199.8 938.8 191.2 939.5 199.7 940.2 190.3 940.9 200.5 941.6 191.5 942.3 200.9 943 189.8 943.7 200.4 944.4 189.7 945.1 201.3 945.8 191.5 946.5 200.3 947.2 190.5 947.9 199.9 948.6 191.1 949.3 200.1 950 189.8 950.7 200.2 951.4 190.8 952.1 199.8 952.8 190.8 953.5 200.8 954.2 190.7 954.9 200.4 955.6 190.8 956.3 200.4 957 190.8 957.7 199.7 958.4 189.4 959.1 199.6 959.8 189.4 960.5 199.7 961.2 190.2 961.9 199.3 962.6 189.9 963.3 199.9 964 188.8 964.7 198.9 965.4 190 966.1 199.8 966.8 189.7 967.5 198.5 968.2 190.2 968.9 200.6 969.6 190.1 970.3 199.7 971 189.9 971.7 201.1 972.4 190.3 973.1 200.5 973.8 190.8 974.5 200 975.2 190.9 975.9 201 976.6 190.8 977.3 200.9 978 191.5 978.7 201.4 979.4 191.8 980.1 201.1 980.8 189.8 981.5 201.3 982.2 191.2 982.9 202 983.6 190.5 984.3 201.8 985 192.4 985.7 200.7 986.4 191.9 987.1 202.4 987.8 191.5 988.5 200.3 989.2 188.5 989.9 200.9 990.6 190.3 991.3 200 992 191.2 992.7 201.6 993.4 190.9 994.1 201.4 994.8 190.5 995.5 202 996.2 191.3 996.9 201.2 997.6 191.9 998.3 201.7 999 191.7 999.7 202 1000.4 192 1001.1 200.4 1001.8 190.9 1002.5 201.2 1003.2 192.1 1003.9 201.7 1004.6 192.6 1005.3 201.8 1006 190.3 1006.7 201.8 1007.4 192.2 1008.1 201.2 1008.8 191.6 1009.5 201.5 1010.2 191.3 1010.9 200.8 1011.6 192.1 1012.3 201 1013 190.4 1013.7 202.2 1014.4 191.5 1015.1 201.7 1015.8 192 1016.5 201.9 1017.2 191.8 1017.9 201.7 1018.6 192.2 1019.3 201.7 1020 192.1 1020.7 202.1 1021.4 191.5 1022.1 200.6 1022.8 189.9 1023.5 200.8 1024.2 190.2 1024.9 201.8 1025.6 189.9 1026.3 201.3 1027 191.7 1027.7 201.2 1028.4 190.9 1029.1 201.6 1029.8 191.1 1030.5 202.9 1031.2 193.7 1031.9 201.9 1032.6 194.3 1033.3 203.1 1034 192.9 1034.7 202.2 1035.4 193.6 1036.1 202.2 1036.8 191.9 1037.5 202 1038.2 191.6 1038.9 203 1039.6 193 1040.3 202.6 1041 193.2 1041.7 202.2 1042.4 192.6 1043.1 201.6 1043.8 192.7 1044.5 203.6 1045.2 191.7 1045.9 201.4 1046.6 192.8 1047.3 202 1048 193.1 1048.7 202.1 1049.4 191.4 1050.1 202.1 1050.8 192.6 1051.5 202.2 1052.2 193 1052.9 202.6 1053.6 191.9 1054.3 201.1 1055 192.5 1055.7 200.9 1056.4 190.6 1057.1 201.8 1057.8 190.8 1058.5 203.6 1059.2 191.4 1059.9 201.4 1060.6 193 1061.3 202 1062 193 1062.7 201 1063.4 191.8 1064.1 201.5 1064.8 192.2 1065.5 201.7 1066.2 192.7 1066.9 202.4 1067.6 192.9 1068.3 202.1 1069 192.6 1069.7 201.2 1070.4 192.8 1071.1 203.5 1071.8 191.4 1072.5 202.6 1073.2 193.4 1073.9 203.3 1074.6 193.4 1075.3 202.5 1076 193.9 1076.7 202.9 1077.4 193.4 1078.1 203.2 1078.8 190.7 1079.5 202.3 1080.2 192.7 1080.9 203.7 1081.6 193.1 1082.3 202.9 1083 192.5 1083.7 203.1 1084.4 193.6 1085.1 203.4 1085.8 193.9 1086.5 202.5 1087.2 192.8 1087.9 202.4 1088.6 193.6 1089.3 202.6 1090 192.2 1090.7 201.6 1091.4 191.4 1092.1 202.6 1092.8 192 1093.5 202.5 1094.2 193.4 1094.9 203.9 1095.6 192.7 1096.3 202.9 1097 193.1 1097.7 202.6 1098.4 192.9 1099.1 203.1 1099.8 193.1 1100.5 203.3 1101.2 194.1 1101.9 203.3 1102.6 194.2 1103.3 204.4 1104 195 1104.7 203.9 1105.4 194.6 1106.1 204.1 1106.8 195.2 1107.5 204 1108.2 194.6 1108.9 203 1109.6 195 1110.3 203.6 1111 193.6 1111.7 203 1112.4 194.3 1113.1 202.8 1113.8 193.8 1114.5 203.7 1115.2 193.8 1115.9 202.8 1116.6 194.1 1117.3 203.5 1118 193.2 1118.7 204.1 1119.4 193.8 1120.1 203.6 1120.8 195.2 1121.5 203.7 1122.2 194.3 1122.9 205.9 1123.6 194.2 1124.3 203.6 1125 193.8 1125.7 203 1126.4 193.2 1127.1 204.2 1127.8 194.1 1128.5 204.1 1129.2 194.1 1129.9 204.1 1130.6 194 1131.3 203.8 1132 194.3 1132.7 203.8 1133.4 194.5 1134.1 203.6 1134.8 194.6 1135.5 203.9 1136.2 194.6 1136.9 204.2 1137.6 193.6 1138.3 204.3 1139 194.3 1139.7 204.3 1140.4 195.2 1141.1 204.3 1141.8 193.9 1142.5 203.6 1143.2 194.7 1143.9 203.5 1144.6 194.1 1145.3 203.9 1146 194.1 1146.7 203.7 1147.4 195.3 1148.1 204.8 1148.8 194.3 1149.5 204.7 1150.2 194.9 1150.9 204.8 1151.6 194.6 1152.3 203.3 1153 194.6 1153.7 204.5 1154.4 194.8 1155.1 203.7 1155.8 194.6 1156.5 204.6 1157.2 194.4 1157.9 203.8 1158.6 194.1 1159.3 203.4 1160 192.9 1160.7 203.7 1161.4 193.9 1162.1 203.4 1162.8 193.5 1163.5 203.4 1164.2 194.2 1164.9 203.8 1165.6 193.8 1166.3 204.5 1167 194.9 1167.7 203.4 1168.4 195 1169.1 204.1 1169.8 192.5 1170.5 203.9 1171.2 192.8 1171.9 203.9 1172.6 193.4 1173.3 202.8 1174 193.1 1174.7 202.3 1175.4 191.5 1176.1 203.4 1176.8 193.3 1177.5 203.5 1178.2 192.5 1178.9 203.2 1179.6 193.5 1180.3 204.2 1181 193.7 1181.7 204.5 1182.4 194.4 1183.1 203 1183.8 191.6 1184.5 202.7 1185.2 193 1185.9 204 1186.6 192.7 1187.3 203.5 1188 193.2 1188.7 204.6 1189.4 193.3 1190.1 203.2 1190.8 192.9 1191.5 203.2 1192.2 193.2 1192.9 202.5 1193.6 193.4 1194.3 202.5 1195 191.4 1195.7 202.5 1196.4 192.8 1197.1 201.7 1197.8 193 1198.5 202.2 1199.2 192.9 1199.9 203.5 1200.6 191.7 1201.3 203.6 1202 194 1202.7 202.4 1203.4 192.6 1204.1 202 1204.8 192.9 1205.5 201.6 1206.2 190.4 1206.9 202.3 1207.6 191.6 1208.3 202.8 1209 193.4 1209.7 202.9 1210.4 193.3 1211.1 202.4 1211.8 191.9 1212.5 201.7 1213.2 191 1213.9 202.2 1214.6 192.8 1215.3 203 1216 192.8 1216.7 202.7 1217.4 191 1218.1 202.2 1218.8 192.7 1219.5 202.3 1220.2 191.2 1220.9 201.7 1221.6 192.6 1222.3 201.5 1223 191.5 1223.7 201.6 1224.4 191.7 1225.1 204 1225.8 192.5 1226.5 201.6 1227.2 192.9 1227.9 201.7 1228.6 192.1 1229.3 201.6 1230 192.4 1230.7 201.6 1231.4 192.3 1232.1 202.3 1232.8 193.1 1233.5 202.2 1234.2 193.5 1234.9 201.9 1235.6 193.4 1236.3 202.7 1237 193.4 1237.7 202.5 1238.4 191.8 1239.1 202.5 1239.8 193.1 1240.5 202.6 1241.2 191.8 1241.9 201.9 1242.6 192.1 1243.3 201.7 1244 192.9 1244.7 202.8 1245.4 193.3 1246.1 204 1246.8 192.6 1247.5 202.2 1248.2 190.8 1248.9 202.1 1249.6 192.7 1250.3 202.9 1251 192.5 1251.7 202.6 1252.4 192 1253.1 202.9 1253.8 192.4 1254.5 203.3 1255.2 193.3 1255.9 202.6 1256.6 193.1 1257.3 203.2 1258 192.6 1258.7 203.3 1259.4 192.1 1260.1 202.7 1260.8 193.3 1261.5 203 1262.2 193.3 1262.9 203.2 1263.6 192.1 1264.3 202.1 1265 192.3 1265.7 203.8 1266.4 192.2 1267.1 201.8 1267.8 190.8 1268.5 201 1269.2 191 1269.9 201.3 1270.6 191.2 1271.3 202.7 1272 193 1272.7 202.6 1273.4 192 1274.1 202.3 1274.8 191.7 1275.5 201.1 1276.2 192.2 1276.9 201.3 1277.6 192.3 1278.3 202.2 1279 189.5 1279.7 201.1 1280.4 192.3 1281.1 201.2 1281.8 191.7 1282.5 201.4 1283.2 192.1 1283.9 201.9 1284.6 192.7 1285.3 203 1286 189.2 1286.7 202.4 1287.4 192.1 1288.1 201.8 1288.8 190.7 1289.5 201.5 1290.2 190 1290.9 202.7 1291.6 189.4 1292.3 201.8 1293 190.7 1293.7 200.6 1294.4 190.8 1295.1 201.5 1295.8 192.2 1296.5 202 1297.2 191.3 1297.9 201.8 1298.6 192.3 1299.3 201.4 1300 191.4 1300.7 201.9 1301.4 192.7 1302.1 202.2 1302.8 192.1 1303.5 202.2 1304.2 191.7 1304.9 201.5 1305.6 190.1 1306.3 200.9 1307 190.8 1307.7 201.5 1308.4 191.2 1309.1 202.5 1309.8 190.6 1310.5 200.8 1311.2 190.5 1311.9 200.3 1312.6 189.8 1313.3 200.9 1314 191.5 1314.7 201.7 1315.4 191.6 1316.1 202.1 1316.8 190.4 1317.5 201.4 1318.2 190.1 1318.9 201.2 1319.6 190.8 1320.3 201.1 1321 191.9 1321.7 202.1 1322.4 191.6 1323.1 202 1323.8 191.4 1324.5 202.1 1325.2 191.3 1325.9 201.7 1326.6 190.9 1327.3 202.7 1328 191.9 1328.7 201.2 1329.4 191.8 1330.1 202.1 1330.8 192.1 1331.5 202.3 1332.2 191.5 1332.9 202.5 1333.6 191.2 1334.3 202.9 1335 193.1 1335.7 202.5 1336.4 192.5 1337.1 202.9 1337.8 193.9 1338.5 203.5 1339.2 194.6 1339.9 204 1340.6 192.2 1341.3 203.4 1342 193.2 1342.7 203.2 1343.4 192.5 1344.1 203.6 1344.8 192.7 1345.5 204.1 1346.2 193.5 1346.9 204.1 1347.6 192.3 1348.3 204.3 1349 194.1 1349.7 203.3 1350.4 191.6 1351.1 204.4 1351.8 193.6 1352.5 202.9 1353.2 194 1353.9 202.7 1354.6 192.8 1355.3 203.7 1356 193.7 1356.7 202.8 1357.4 193.4 1358.1 203.9 1358.8 191.1 1359.5 202.6 1360.2 191.4 1360.9 203.5 1361.6 191.4 1362.3 203.9 1363 191.9 1363.7 202.5 1364.4 191.9 1365.1 202.3 1365.8 192.3 1366.5 201.7 1366.7 192.3" fill="none" stroke="#0a0a0a" stroke-width="0.9" stroke-linejoin="bevel"/>
<line x1="109.5" y1="182.5" x2="109.5" y2="200" stroke="#111" stroke-width="1.3"/>
<line x1="164.5" y1="189" x2="164.5" y2="200" stroke="#111" stroke-width="1.3"/>
<line x1="175.5" y1="191" x2="175.5" y2="200" stroke="#111" stroke-width="1.3"/>
<line x1="787.5" y1="200" x2="787.5" y2="213" stroke="#111" stroke-width="1.3"/>
<line x1="967.5" y1="196" x2="967.5" y2="207.5" stroke="#111" stroke-width="1.3"/>
<line x1="1009.5" y1="197" x2="1009.5" y2="207.5" stroke="#111" stroke-width="1.3"/>
<line x1="1093.5" y1="199" x2="1093.5" y2="208" stroke="#111" stroke-width="1.3"/>
<line x1="1136.5" y1="199" x2="1136.5" y2="210.5" stroke="#111" stroke-width="1.3"/>
<line x1="1178.5" y1="198" x2="1178.5" y2="207.5" stroke="#111" stroke-width="1.3"/>
<line x1="596.5" y1="188" x2="596.5" y2="198" stroke="#111" stroke-width="1.3"/>
<line x1="736.5" y1="190" x2="736.5" y2="200" stroke="#111" stroke-width="1.3"/>
<line x1="815.5" y1="186" x2="815.5" y2="196" stroke="#111" stroke-width="1.3"/>
<line x1="860.5" y1="205" x2="860.5" y2="210" stroke="#111" stroke-width="1.3"/>
<line x1="493.5" y1="186" x2="493.5" y2="247.5" stroke="#333" stroke-width="1.1"/>
<!-- trace 2 -->
<path d="M12 418.4 12.7 418.5 13.4 419 14.1 419.5 14.8 419.8 15.5 419.8 16.2 419.2 16.9 418.7 17.6 419 18.3 418.4 19 418.4 19.7 418.5 20.4 418.6 21.1 419.2 21.8 418.8 22.5 418.6 23.2 419.3 23.9 418.6 24.6 418.6 25.3 418.9 26 418.4 26.7 419.1 27.4 418.7 28.1 419.6 28.8 420.7 29.5 420.7 30.2 420.7 30.9 420.7 31.6 420.5 32.3 420.2 33 420.4 33.7 420.1 34.4 419.5 35.1 419.5 35.8 419.8 36.5 419.1 37.2 418.9 37.9 419.6 38.6 419.2 39.3 419.9 40 419.1 40.7 419.4 41.4 418.6 42.1 417.7 42.8 418 43.5 418 44.2 418.2 44.9 417.6 45.6 417.8 46.3 417.6 47 417.7 47.7 418.5 48.4 418.7 49.1 418.9 49.8 418.8 50.5 418.7 51.2 418.9 51.9 418.4 52.6 418.3 53.3 418.1 54 418.3 54.7 419 55.4 419.1 56.1 419 56.8 419.1 57.5 419.3 58.2 419.2 58.9 419.7 59.6 419.6 60.3 419.5 61 420.4 61.7 419.9 62.4 418.9 63.1 419.3 63.8 419.3 64.5 419.6 65.2 419.2 65.9 419.7 66.6 419.3 67.3 419.3 68 419 68.7 419.3 69.4 420.2 70.1 419.7 70.8 420 71.5 419.5 72.2 419.6 72.9 419.8 73.6 420.1 74.3 420.3 75 420.1 75.7 419.8 76.4 419.4 77.1 419.1 77.8 419.7 78.5 420.4 79.2 420.4 79.9 419.9 80.6 420.4 81.3 420.1 82 419.6 82.7 420 83.4 420.5 84.1 420.8 84.8 421.1 85.5 421.3 86.2 421.1 86.9 421.4 87.6 420.9 88.3 420.7 89 421 89.7 419.9 90.4 419.9 91.1 420.4 91.8 419.2 92.5 419.3 93.2 419.3 93.9 418.9 94.6 419.9 95.3 419.9 96 419.3 96.7 419.1 97.4 419.3 98.1 419.4 98.8 419.4 99.5 419.6 100.2 419.4 100.9 418.7 101.6 419 102.3 419.3 103 418.8 103.7 419 104.4 418.9 105.1 419.2 105.8 419.4 106.5 418.6 107.2 418.7 107.9 418 108.6 418.1 109.3 417.6 110 418.2 110.7 418.6 111.4 418.5 112.1 417.8 112.8 417.6 113.5 417.8 114.2 418 114.9 417.5 115.6 417.8 116.3 418.3 117 418.5 117.7 417.9 118.4 418.4 119.1 418.4 119.8 417.9 120.5 418.8 121.2 418.7 121.9 418 122.6 418.2 123.3 418 124 417.7 124.7 418.2 125.4 418.7 126.1 419 126.8 418.9 127.5 418.6 128.2 418.1 128.9 417.9 129.6 417.7 130.3 418 131 418 131.7 418 132.4 417.8 133.1 417.6 133.8 417.2 134.5 417.2 135.2 416.7 135.9 416.9 136.6 416.4 137.3 416.4 138 415.9 138.7 416.6 139.4 416 140.1 416.4 140.8 416.4 141.5 416.6 142.2 416.8 142.9 416.4 143.6 416.4 144.3 416.2 145 416.2 145.7 416.4 146.4 417 147.1 416.6 147.8 416.5 148.5 416.6 149.2 416.8 149.9 417.3 150.6 416.9 151.3 417.6 152 417.1 152.7 417.7 153.4 417.3 154.1 417.7 154.8 418.3 155.5 418.3 156.2 417.8 156.9 417.5 157.6 417.9 158.3 418.3 159 417.8 159.7 417.5 160.4 417.6 161.1 418.1 161.8 418.3 162.5 418.4 163.2 419.2 163.9 419 164.6 419 165.3 418.3 166 418.2 166.7 419.2 167.4 419.7 168.1 419.7 168.8 419.3 169.5 419.2 170.2 419 170.9 418.3 171.6 418.6 172.3 418.7 173 419 173.7 419.2 174.4 419.7 175.1 419 175.8 418.6 176.5 418.8 177.2 418.9 177.9 418.6 178.6 419.2 179.3 419.4 180 419.2 180.7 419.3 181.4 419.7 182.1 419.5 182.8 418.9 183.5 419 184.2 418.3 184.9 418.1 185.6 418 186.3 417.5 187 418.3 187.7 418.3 188.4 418.9 189.1 418.9 189.8 419.5 190.5 419.2 191.2 419.4 191.9 419.1 192.6 419 193.3 418.9 194 418.9 194.7 418 195.4 418.4 196.1 418.7 196.8 418.9 197.5 418.9 198.2 419 198.9 419 199.6 419.6 200.3 419.9 201 420 201.7 420 202.4 420.1 203.1 419.8 203.8 420.2 204.5 419.8 205.2 419.7 205.9 419.6 206.6 419 207.3 418.9 208 418.3 208.7 418.2 209.4 418.1 210.1 418.1 210.8 417.9 211.5 418.2 212.2 417.9 212.9 418 213.6 418.2 214.3 418.8 215 419 215.7 418.8 216.4 418 217.1 418.5 217.8 419 218.5 418.4 219.2 418 219.9 417.9 220.6 419 221.3 418.8 222 418.9 222.7 418.8 223.4 418 224.1 417.4 224.8 417.3 225.5 417.5 226.2 418.3 226.9 418.1 227.6 418.3 228.3 418.1 229 418.3 229.7 418.9 230.4 418.3 231.1 418.3 231.8 418.4 232.5 418.3 233.2 418.2 233.9 417.5 234.6 417.9 235.3 418.1 236 417.7 236.7 417.6 237.4 417.3 238.1 417.2 238.8 417.1 239.5 417.3 240.2 417 240.9 415.9 241.6 416.4 242.3 416.4 243 417 243.7 417.7 244.4 417.2 245.1 417.4 245.8 417.7 246.5 418.1 247.2 418.8 247.9 418.6 248.6 418.8 249.3 419.1 250 418.6 250.7 419.1 251.4 419.6 252.1 419.3 252.8 419.6 253.5 418.8 254.2 419.3 254.9 419.5 255.6 419.4 256.3 419 257 419.2 257.7 419.2 258.4 419 259.1 418.4 259.8 419.5 260.5 419.1 261.2 419.6 261.9 419.2 262.6 419.2 263.3 419 264 418.4 264.7 418.8 265.4 419.6 266.1 418.9 266.8 419.6 267.5 419.3 268.2 418.7 268.9 418.6 269.6 418 270.3 418.5 271 418.9 271.7 418.9 272.4 419.5 273.1 420 273.8 419.6 274.5 419.4 275.2 420.2 275.9 419.9 276.6 419.1 277.3 419.2 278 419.1 278.7 418.8 279.4 418.6 280.1 418.4 280.8 418.8 281.5 418.5 282.2 417.8 282.9 418.2 283.6 417.3 284.3 417.1 285 417.3 285.7 417.7 286.4 417.4 287.1 417 287.8 417.2 288.5 417.6 289.2 418.4 289.9 418.2 290.6 417.6 291.3 416.9 292 416.9 292.7 417.1 293.4 416.1 294.1 416.8 294.8 417.2 295.5 417.7 296.2 418 296.9 417.8 297.6 417.4 298.3 417.7 299 417.8 299.7 417.8 300.4 417.9 301.1 418 301.8 417.8 302.5 418.2 303.2 417.8 303.9 418.4 304.6 419.1 305.3 418.8 306 419.2 306.7 420 307.4 419.3 308.1 419.7 308.8 420 309.5 420.4 310.2 420.9 310.9 420.4 311.6 420 312.3 420.3 313 420.5 313.7 420.4 314.4 420.1 315.1 419.6 315.8 419.5 316.5 419.4 317.2 419.6 317.9 419.1 318.6 419.2 319.3 418.3 320 418.8 320.7 418.5 321.4 419.1 322.1 418.9 322.8 418.9 323.5 418.6 324.2 419.2 324.9 419.4 325.6 419.2 326.3 418.9 327 419.3 327.7 419.5 328.4 419.8 329.1 419.8 329.8 420.1 330.5 420 331.2 419.7 331.9 419.7 332.6 419.5 333.3 419 334 418.8 334.7 418.1 335.4 418.3 336.1 418.6 336.8 419 337.5 418.8 338.2 418 338.9 419.1 339.6 418.9 340.3 419.2 341 419 341.7 418.9 342.4 418.8 343.1 418.6 343.8 418.4 344.5 418.3 345.2 418.8 345.9 419.4 346.6 419 347.3 418.9 348 418.8 348.7 418.7 349.4 418.4 350.1 418 350.8 417.9 351.5 417.4 352.2 417.5 352.9 417 353.6 417.1 354.3 416.6 355 417.7 355.7 417.3 356.4 417.1 357.1 417.3 357.8 417.5 358.5 418 359.2 417.6 359.9 417.8 360.6 418.3 361.3 417.6 362 417.4 362.7 417.9 363.4 418 364.1 417.9 364.8 417.5 365.5 418.1 366.2 418.1 366.9 418 367.6 417.8 368.3 418 369 417.9 369.7 418.3 370.4 418.2 371.1 418.4 371.8 417.5 372.5 417.4 373.2 417 373.9 417.1 374.6 416.5 375.3 416.8 376 416.5 376.7 416.6 377.4 416.1 378.1 416.5 378.8 416.5 379.5 416.4 380.2 416.9 380.9 416.1 381.6 416.1 382.3 415.7 383 416 383.7 416.2 384.4 416.8 385.1 417 385.8 417.8 386.5 417.4 387.2 417.6 387.9 417.8 388.6 417.4 389.3 417.2 390 417.3 390.7 416.9 391.4 417.2 392.1 417.2 392.8 416.7 393.5 416 394.2 416.4 394.9 416.5 395.6 417 396.3 416.3 397 416.2 397.7 416.4 398.4 416.7 399.1 417.4 399.8 417.9 400.5 418.1 401.2 418.1 401.9 417.6 402.6 417.5 403.3 417.3 404 417.9 404.7 418.2 405.4 417.7 406.1 418 406.8 418 407.5 417.6 408.2 417.2 408.9 417.9 409.6 416.9 410.3 416.9 411 417.1 411.7 418 412.4 418.3 413.1 418.2 413.8 417.9 414.5 418.3 415.2 417.4 415.9 417.5 416.6 417.4 417.3 417.6 418 418.2 418.7 419.1 419.4 419.1 420.1 419 420.8 419 421.5 419.9 422.2 420.1 422.9 420.1 423.6 420.5 424.3 419.3 425 419.5 425.7 419 426.4 419.3 427.1 418.8 427.8 419.1 428.5 419.7 429.2 419.9 429.9 419.1 430.6 418.8 431.3 418.5 432 418.4 432.7 418.2 433.4 417.4 434.1 417 434.8 416.8 435.5 417.6 436.2 417 436.9 417.6 437.6 417.3 438.3 417.5 439 417.3 439.7 416.6 440.4 416.3 441.1 417.2 441.8 417.2 442.5 417.5 443.2 417.7 443.9 417.3 444.6 417.8 445.3 417.6 446 417.3 446.7 417.3 447.4 417.5 448.1 417.1 448.8 417.5 449.5 417.9 450.2 418.3 450.9 418.5 451.6 418.3 452.3 418.1 453 418.5 453.7 418.6 454.4 418.2 455.1 417.8 455.8 418.2 456.5 417.2 457.2 416.8 457.9 416.6 458.6 417.2 459.3 417.4 460 417.5 460.5 418.2 L460.5 433.9 460 433.4 459.3 433.2 458.6 432.6 457.9 432.6 457.2 432.5 456.5 433.4 455.8 433.7 455.1 433.5 454.4 434.1 453.7 434.4 453 434.2 452.3 434.1 451.6 433.9 450.9 434.4 450.2 434.4 449.5 433.9 448.8 433.2 448.1 433.3 447.4 433.1 446.7 433.6 446 433.3 445.3 433.1 444.6 433.6 443.9 433.4 443.2 433.5 442.5 433.8 441.8 432.9 441.1 433.3 440.4 432.2 439.7 432.4 439 433 438.3 433.3 437.6 433.4 436.9 433.3 436.2 432.6 435.5 433 434.8 432.9 434.1 433 433.4 433.2 432.7 433.5 432 434 431.3 434.4 430.6 434.7 429.9 434.6 429.2 435.4 428.5 435.3 427.8 435.2 427.1 435 426.4 434.8 425.7 435.3 425 435.3 424.3 435.6 423.6 436.2 422.9 435.5 422.2 435.7 421.5 435.4 420.8 434.7 420.1 434.7 419.4 435 418.7 435.2 418 434.1 417.3 433.7 416.6 433.5 415.9 433.7 415.2 433.3 414.5 434 413.8 433.6 413.1 433.9 412.4 433.7 411.7 434.1 411 433 410.3 432.7 409.6 433 408.9 433.6 408.2 433.2 407.5 433.7 406.8 433.8 406.1 433.6 405.4 433.7 404.7 433.8 404 433.9 403.3 433.1 402.6 433.1 401.9 433.4 401.2 433.7 400.5 433.8 399.8 433.7 399.1 433.3 398.4 432.5 397.7 432.2 397 432.2 396.3 432.2 395.6 432.8 394.9 432.7 394.2 432.5 393.5 432.3 392.8 432.6 392.1 433 391.4 432.6 390.7 432.9 390 433 389.3 433.2 388.6 433.4 387.9 433.2 387.2 433.2 386.5 433.2 385.8 433.5 385.1 433.2 384.4 432.7 383.7 432 383 431.8 382.3 431.9 381.6 432.1 380.9 432.1 380.2 432.5 379.5 432.2 378.8 432.2 378.1 432.6 377.4 432 376.7 432.4 376 432.1 375.3 432.2 374.6 432.6 373.9 432.7 373.2 433.2 372.5 433.1 371.8 433.3 371.1 434.2 370.4 434.2 369.7 433.9 369 433.5 368.3 433.4 367.6 433.8 366.9 434 366.2 434.1 365.5 434.1 364.8 433.5 364.1 433.6 363.4 434.1 362.7 433.6 362 433.3 361.3 433.9 360.6 433.6 359.9 433.5 359.2 433.5 358.5 433.9 357.8 433.8 357.1 433.2 356.4 433.2 355.7 432.9 355 433.4 354.3 432.6 353.6 433.2 352.9 433.1 352.2 433 351.5 433.2 350.8 433.7 350.1 434.1 349.4 434.3 348.7 434.2 348 434.9 347.3 434.6 346.6 435 345.9 435.1 345.2 434.6 344.5 434 343.8 434.5 343.1 434.4 342.4 434.6 341.7 435.1 341 434.5 340.3 434.9 339.6 434.6 338.9 434.9 338.2 434 337.5 434.6 336.8 434.4 336.1 434.4 335.4 434.1 334.7 433.6 334 435.1 333.3 434.7 332.6 435.5 331.9 435.4 331.2 435 330.5 435.8 329.8 435.5 329.1 435.6 328.4 435.9 327.7 435.2 327 435.5 326.3 434.8 325.6 435.1 324.9 434.9 324.2 434.7 323.5 434.8 322.8 434.6 322.1 435.2 321.4 434.6 320.7 434.4 320 434.7 319.3 434.3 318.6 435.2 317.9 434.7 317.2 435.2 316.5 435.1 315.8 435.4 315.1 435.4 314.4 435.8 313.7 436 313 436.2 312.3 436.2 311.6 436.3 310.9 435.9 310.2 436.8 309.5 436.7 308.8 435.8 308.1 435.8 307.4 435.2 306.7 435.6 306 435.4 305.3 434.5 304.6 434.9 303.9 434 303.2 433.4 302.5 434.1 301.8 433.8 301.1 434.1 300.4 433.9 299.7 433.4 299 433.2 298.3 433.1 297.6 433.2 296.9 434.1 296.2 433.8 295.5 433.9 294.8 433.1 294.1 432.3 293.4 432.1 292.7 433 292 432.6 291.3 432.8 290.6 433.5 289.9 434 289.2 434.1 288.5 433.4 287.8 432.9 287.1 432.8 286.4 433.5 285.7 433.3 285 432.9 284.3 432.8 283.6 433.1 282.9 433.9 282.2 433.4 281.5 434.2 280.8 434.7 280.1 434.1 279.4 434.5 278.7 434.7 278 434.8 277.3 435.4 276.6 435.1 275.9 435.3 275.2 435.7 274.5 435 273.8 435.4 273.1 435.9 272.4 435.2 271.7 434.4 271 434.8 270.3 434.2 269.6 434 268.9 434.7 268.2 434.7 267.5 434.9 266.8 434.9 266.1 434.8 265.4 435 264.7 434.3 264 434.2 263.3 434.8 262.6 435.1 261.9 435.1 261.2 435.7 260.5 434.9 259.8 435.1 259.1 434.4 258.4 434.8 257.7 435.1 257 434.7 256.3 435 255.6 434.9 254.9 435.5 254.2 435.1 253.5 434.8 252.8 435.5 252.1 434.9 251.4 435.1 250.7 434.6 250 434.5 249.3 434.5 248.6 434.9 247.9 434.4 247.2 434.1 246.5 433.6 245.8 433.7 245.1 433.3 244.4 432.6 243.7 433.6 243 433.1 242.3 432.5 241.6 432.2 240.9 431.8 240.2 433.1 239.5 433.2 238.8 432.9 238.1 432.8 237.4 433.4 236.7 433.3 236 433.7 235.3 433.9 234.6 433.7 233.9 433.4 233.2 433.7 232.5 433.6 231.8 434.2 231.1 434.2 230.4 434.3 229.7 434.4 229 434.3 228.3 434.3 227.6 434.3 226.9 433.7 226.2 433.6 225.5 433.7 224.8 433.3 224.1 432.9 223.4 433.8 222.7 434.7 222 434.6 221.3 434.5 220.6 434.7 219.9 433.7 219.2 434.3 218.5 434.5 217.8 434.5 217.1 434.4 216.4 433.8 215.7 434.7 215 434.5 214.3 434.3 213.6 434.1 212.9 433.8 212.2 433.7 211.5 433.9 210.8 433.9 210.1 433.4 209.4 433.6 208.7 433.8 208 434.1 207.3 434.7 206.6 435.3 205.9 435.5 205.2 435.4 204.5 435.8 203.8 436.1 203.1 435.5 202.4 436.2 201.7 435.6 201 435.9 200.3 435.7 199.6 435.1 198.9 435 198.2 434.5 197.5 434.6 196.8 434.5 196.1 434.4 195.4 434.5 194.7 433.9 194 434.3 193.3 434.8 192.6 434.4 191.9 434.8 191.2 435.1 190.5 434.7 189.8 435 189.1 435 188.4 434.4 187.7 433.8 187 433.9 186.3 433.7 185.6 433.5 184.9 433.6 184.2 434.1 183.5 434.8 182.8 434.5 182.1 435.6 181.4 435.4 180.7 434.9 180 434.6 179.3 435.6 178.6 434.7 177.9 434.7 177.2 434.7 176.5 434.6 175.8 434.4 175.1 434.7 174.4 435.2 173.7 435.2 173 434.7 172.3 434.8 171.6 434.4 170.9 434.4 170.2 434.8 169.5 435.3 168.8 435.6 168.1 435.5 167.4 435.3 166.7 435 166 433.9 165.3 434.4 164.6 434.8 163.9 434.5 163.2 434.9 162.5 434.3 161.8 434 161.1 433.7 160.4 433.9 159.7 433.8 159 433.4 158.3 434.1 157.6 433.7 156.9 433.3 156.2 433.7 155.5 434.1 154.8 433.9 154.1 433.5 153.4 433.2 152.7 433.4 152 432.9 151.3 433.5 150.6 433 149.9 433.1 149.2 432.6 148.5 432.2 147.8 431.9 147.1 432.6 146.4 432.9 145.7 432.2 145 432.1 144.3 432.6 143.6 432.5 142.9 432.1 142.2 432.5 141.5 432.5 140.8 432.6 140.1 432.4 139.4 432.2 138.7 432.4 138 432 137.3 431.8 136.6 432.5 135.9 432.4 135.2 432.3 134.5 433.2 133.8 433.1 133.1 433.4 132.4 433.5 131.7 433.7 131 433.8 130.3 433.6 129.6 433.2 128.9 433.6 128.2 433.9 127.5 434.3 126.8 434.8 126.1 434.5 125.4 434.9 124.7 433.8 124 433.7 123.3 433.7 122.6 433.7 121.9 433.7 121.2 434.5 120.5 434.5 119.8 433.9 119.1 433.9 118.4 434.2 117.7 433.7 117 434.2 116.3 434.3 115.6 433.8 114.9 433.4 114.2 434.3 113.5 433.9 112.8 433.5 112.1 433.4 111.4 434 110.7 434.2 110 433.9 109.3 433.8 108.6 434 107.9 434 107.2 434.3 106.5 434.5 105.8 435.2 105.1 435.3 104.4 434.8 103.7 434.8 103 434.5 102.3 434.9 101.6 434.7 100.9 434.7 100.2 435 99.5 435.3 98.8 434.9 98.1 435.3 97.4 434.9 96.7 435.4 96 435.3 95.3 435.5 94.6 435.3 93.9 434.9 93.2 435.2 92.5 434.6 91.8 435.2 91.1 436.5 90.4 435.9 89.7 435.6 89 436.4 88.3 436.5 87.6 436.6 86.9 437 86.2 436.9 85.5 437 84.8 437.1 84.1 436.3 83.4 436.3 82.7 436.1 82 435.5 81.3 436 80.6 435.9 79.9 435.8 79.2 436.4 78.5 436.3 77.8 435.5 77.1 435.3 76.4 435 75.7 436 75 435.9 74.3 436.1 73.6 435.9 72.9 435.6 72.2 435.4 71.5 435.3 70.8 435.6 70.1 435.6 69.4 435.6 68.7 435.2 68 434.8 67.3 435.2 66.6 435.1 65.9 435.2 65.2 434.8 64.5 435 63.8 435.4 63.1 435.5 62.4 434.8 61.7 435.5 61 436.2 60.3 435.3 59.6 435.8 58.9 435.3 58.2 435.2 57.5 435.2 56.8 435.2 56.1 434.9 55.4 434.8 54.7 434.5 54 434.1 53.3 433.9 52.6 434.1 51.9 434.6 51.2 434.8 50.5 435 49.8 434.7 49.1 434.8 48.4 434.4 47.7 434.3 47 433.5 46.3 433.3 45.6 433.5 44.9 433.9 44.2 433.8 43.5 433.9 42.8 433.6 42.1 434 41.4 434.4 40.7 435.3 40 435 39.3 435.5 38.6 434.9 37.9 435.5 37.2 434.5 36.5 435.2 35.8 436 35.1 435.6 34.4 435.3 33.7 435.7 33 435.7 32.3 436.5 31.6 436 30.9 436 30.2 436.8 29.5 436.2 28.8 436.4 28.1 435.4 27.4 435 26.7 434.9 26 434.5 25.3 434.6 24.6 434.4 23.9 434.2 23.2 435.2 22.5 434.1 21.8 434.5 21.1 434.9 20.4 434.9 19.7 434.6 19 434.4 18.3 434.4 17.6 434.4 16.9 435 16.2 435.1 15.5 435.5 14.8 435.3 14.1 435.7 13.4 434.8 12.7 434.4 12 434.4Z" fill="#0a0a0a"/>
<path d="M12 434.9 12.7 418.1 13.4 435.2 14.1 418.6 14.8 435.6 15.5 419.6 16.2 435.1 16.9 412.4 17.6 435.7 18.3 416.4 19 434.2 19.7 418.4 20.4 435.3 21.1 418.3 21.8 434.9 22.5 418 23.2 435.4 23.9 416.5 24.6 435.8 25.3 418.8 26 435.8 26.7 418.2 27.4 435.7 28.1 418.7 28.8 437.2 29.5 418.5 30.2 436.9 30.9 416.4 31.6 436 32.3 419.4 33 441.4 33.7 415.3 34.4 437 35.1 415.7 35.8 436.4 36.5 417.9 37.2 436.3 37.9 419.9 38.6 435.9 39.3 419.7 40 435.9 40.7 418.3 41.4 435.5 42.1 416.8 42.8 434.2 43.5 416 44.2 434 44.9 418.1 45.6 433.7 46.3 417.4 47 433.5 47.7 417.9 48.4 439 49.1 418.9 49.8 436.2 50.5 412.6 51.2 435.5 51.9 417.1 52.6 434.3 53.3 415.7 54 434.3 54.7 417.6 55.4 436.6 56.1 418 56.8 436.6 57.5 419.1 58.2 435.1 58.9 417.7 59.6 436.1 60.3 419.2 61 436.9 61.7 419.4 62.4 437.3 63.1 418.2 63.8 436.1 64.5 419.3 65.2 436.4 65.9 418.2 66.6 435.5 67.3 417 68 436.9 68.7 418.5 69.4 435.5 70.1 419.3 70.8 437.1 71.5 416 72.2 437.6 72.9 419.8 73.6 436.5 74.3 420 75 437.3 75.7 420.1 76.4 435.8 77.1 419.6 77.8 437.3 78.5 420.2 79.2 439.5 79.9 417.2 80.6 436.6 81.3 418.1 82 437.7 82.7 420.5 83.4 436.5 84.1 420.7 84.8 438 85.5 421.7 86.2 437.5 86.9 419.7 87.6 437.6 88.3 418.7 89 436.4 89.7 417.7 90.4 436 91.1 420.5 91.8 436 92.5 417.9 93.2 436.4 93.9 418.4 94.6 436.2 95.3 417.4 96 435.9 96.7 413.8 97.4 436.9 98.1 419.4 98.8 436.4 99.5 419 100.2 436.2 100.9 417.2 101.6 439 102.3 418.8 103 436 103.7 418.5 104.4 435.4 105.1 417.4 105.8 436.2 106.5 416.4 107.2 435.5 107.9 416.9 108.6 438.7 109.3 417.5 110 434.9 110.7 414.4 111.4 436.7 112.1 417.6 112.8 435.2 113.5 417.2 114.2 437.3 114.9 417.5 115.6 436.2 116.3 415 117 436 117.7 417.8 118.4 435 119.1 417.3 119.8 435.9 120.5 416.1 121.2 434.1 121.9 416.7 122.6 434.6 123.3 415.3 124 434.8 124.7 418.4 125.4 434.4 126.1 415.9 126.8 435.3 127.5 416.4 128.2 434 128.9 417.4 129.6 435.3 130.3 417.6 131 438.4 131.7 417.1 132.4 433.6 133.1 416.7 133.8 433.9 134.5 416.9 135.2 434.4 135.9 416.3 136.6 433.1 137.3 415.4 138 436.9 138.7 416.6 139.4 433.4 140.1 414 140.8 432 141.5 413 142.2 432.9 142.9 412.6 143.6 432.3 144.3 416.2 145 432.5 145.7 414.3 146.4 432.5 147.1 415.6 147.8 433.7 148.5 415.4 149.2 437.1 149.9 413.7 150.6 434.7 151.3 418 152 434.4 152.7 416.8 153.4 435.7 154.1 417.6 154.8 434.8 155.5 417.5 156.2 436.7 156.9 415.5 157.6 435.4 158.3 416.7 159 437.6 159.7 415.8 160.4 435 161.1 416.8 161.8 433.9 162.5 418.6 163.2 436.8 163.9 418.8 164.6 435.6 165.3 416.7 166 438.1 166.7 416.4 167.4 435.9 168.1 419.3 168.8 437 169.5 417.8 170.2 435.4 170.9 418.6 171.6 434.6 172.3 417 173 436.7 173.7 419.1 174.4 436 175.1 418.9 175.8 435.3 176.5 418.5 177.2 436.9 177.9 417.8 178.6 435.4 179.3 419.2 180 435.3 180.7 417.8 181.4 435.4 182.1 419.3 182.8 439.3 183.5 418.7 184.2 436.1 184.9 415.9 185.6 433.7 186.3 416.1 187 435.4 187.7 418 188.4 435.7 189.1 418.7 189.8 435.2 190.5 416.4 191.2 436.4 191.9 418 192.6 437.2 193.3 417.1 194 438.3 194.7 417.1 195.4 434.7 196.1 418 196.8 434.7 197.5 418 198.2 435.5 198.9 417.3 199.6 435.3 200.3 419.5 201 435.8 201.7 417.2 202.4 436.2 203.1 418 203.8 439.7 204.5 420 205.2 438.6 205.9 419 206.6 436.5 207.3 415.7 208 438.7 208.7 418.2 209.4 433.7 210.1 418.1 210.8 434.3 211.5 415.3 212.2 433.5 212.9 416.4 213.6 436 214.3 415.7 215 435.4 215.7 419 216.4 436.6 217.1 418.3 217.8 435.4 218.5 417.6 219.2 435.5 219.9 416.1 220.6 437.3 221.3 418.8 222 435.8 222.7 418.2 223.4 434 224.1 415.8 224.8 435 225.5 418 226.2 433.8 226.9 416.7 227.6 433.8 228.3 416.6 229 434.1 229.7 414.5 230.4 435.1 231.1 417.1 231.8 435 232.5 417.5 233.2 435.1 233.9 415.9 234.6 436.2 235.3 418 236 436.5 236.7 413 237.4 434 238.1 415.8 238.8 434.7 239.5 411.9 240.2 433.4 240.9 415.1 241.6 432.3 242.3 416.8 243 435.7 243.7 415.6 244.4 433.4 245.1 416.7 245.8 437.1 246.5 415.5 247.2 436.9 247.9 416.9 248.6 437.2 249.3 417.3 250 435.3 250.7 417.1 251.4 436 252.1 416.5 252.8 437.3 253.5 418.7 254.2 437.2 254.9 417.4 255.6 437.6 256.3 417.5 257 436 257.7 417.3 258.4 435.6 259.1 417.3 259.8 437.7 260.5 417.5 261.2 436.4 261.9 417.3 262.6 436.2 263.3 417.6 264 436.3 264.7 411.1 265.4 436.2 266.1 419.2 266.8 436.7 267.5 415.1 268.2 435 268.9 418.2 269.6 436.9 270.3 415.9 271 434.4 271.7 418.6 272.4 437.8 273.1 417.2 273.8 436.3 274.5 418.6 275.2 436.6 275.9 419.1 276.6 436.4 277.3 419.5 278 435.6 278.7 416.5 279.4 435.9 280.1 417.9 280.8 435.8 281.5 418.4 282.2 434.8 282.9 415.6 283.6 438.2 284.3 416.1 285 434.1 285.7 415.5 286.4 437.6 287.1 416.2 287.8 432.8 288.5 417 289.2 435.7 289.9 417.4 290.6 435 291.3 416.5 292 435.6 292.7 415.8 293.4 433.9 294.1 413.6 294.8 433.5 295.5 410.3 296.2 434.8 296.9 415.7 297.6 436.7 298.3 416.3 299 434.8 299.7 416.3 300.4 436.9 301.1 415.9 301.8 434.3 302.5 416.3 303.2 433.3 303.9 415.7 304.6 435.9 305.3 415.8 306 435.3 306.7 418.9 307.4 435 308.1 419 308.8 436.6 309.5 420.2 310.2 436.7 310.9 417.4 311.6 436 312.3 418 313 435.8 313.7 415 314.4 438.3 315.1 419.7 315.8 437.5 316.5 418.5 317.2 436.3 317.9 416.3 318.6 436 319.3 415.4 320 437.6 320.7 416.3 321.4 434.7 322.1 418.4 322.8 438 323.5 418 324.2 435.3 324.9 417.7 325.6 435.7 326.3 417.1 327 435.7 327.7 418.3 328.4 435.8 329.1 415.9 329.8 435.8 330.5 419.7 331.2 436.9 331.9 419.6 332.6 436.1 333.3 418 334 439.2 334.7 417.9 335.4 436.2 336.1 417.1 336.8 435.6 337.5 414.1 338.2 434.1 338.9 417.4 339.6 438.7 340.3 418.8 341 434.4 341.7 414.2 342.4 438 343.1 417.7 343.8 436.9 344.5 418.1 345.2 435.4 345.9 414.8 346.6 438.2 347.3 416.6 348 435.8 348.7 418.7 349.4 438.2 350.1 413.6 350.8 437.9 351.5 417.4 352.2 433.7 352.9 415.6 353.6 433.4 354.3 415.8 355 434.7 355.7 417.5 356.4 433.2 357.1 414.8 357.8 434.7 358.5 417.7 359.2 434.4 359.9 415.4 360.6 434.3 361.3 418 362 434.1 362.7 414.2 363.4 434.6 364.1 416.6 364.8 434.1 365.5 416.8 366.2 435.6 366.9 413.5 367.6 434.6 368.3 415.3 369 436 369.7 414.2 370.4 435.5 371.1 416 371.8 434.4 372.5 412.7 373.2 432.7 373.9 413.9 374.6 432.9 375.3 414.1 376 435.4 376.7 416.7 377.4 435.6 378.1 416.4 378.8 431.9 379.5 413.8 380.2 434.5 380.9 415.6 381.6 432.7 382.3 414.7 383 433.8 383.7 411 384.4 433.8 385.1 417.1 385.8 433.4 386.5 414.9 387.2 435.5 387.9 416.3 388.6 434 389.3 413.8 390 435 390.7 416.8 391.4 433 392.1 416.1 392.8 435.2 393.5 415.2 394.2 432.9 394.9 408.2 395.6 432.5 396.3 414.7 397 432.3 397.7 414.6 398.4 432.3 399.1 416.1 399.8 434.9 400.5 417.4 401.2 433.9 401.9 416.7 402.6 435.9 403.3 416.4 404 433.6 404.7 417.9 405.4 438.6 406.1 415.8 406.8 433.3 407.5 417 408.2 432.8 408.9 414 409.6 433.3 410.3 416.8 411 432.9 411.7 416.7 412.4 434.8 413.1 417.4 413.8 436.5 414.5 416.6 415.2 434.8 415.9 414.7 416.6 436.3 417.3 416.2 418 434.3 418.7 418.4 419.4 437.4 420.1 419.1 420.8 436.3 421.5 415.4 422.2 439 422.9 420.1 423.6 435.9 424.3 419.5 425 436.7 425.7 418.5 426.4 435.3 427.1 416.1 427.8 435.3 428.5 417.1 429.2 435.3 429.9 417 430.6 438.5 431.3 413.8 432 433.9 432.7 418.1 433.4 438.6 434.1 417.1 434.8 435 435.5 416.2 436.2 434.5 436.9 416.7 437.6 433.8 438.3 411.8 439 436.2 439.7 413.2 440.4 432.4 441.1 415.7 441.8 437.2 442.5 416.1 443.2 433.6 443.9 415.9 444.6 433.7 445.3 416.3 446 433.6 446.7 415.1 447.4 434.5 448.1 416.1 448.8 434.7 449.5 416.4 450.2 434.6 450.9 415.3 451.6 433.9 452.3 418 453 434.7 453.7 416.7 454.4 437.8 455.1 417.8 455.8 434.1 456.5 415.8 457.2 433 457.9 415.7 458.6 436.7 459.3 417.3 460 436.3 460.5 416.9" fill="none" stroke="#0a0a0a" stroke-width="0.9" stroke-linejoin="bevel"/>
<line x1="420" y1="401" x2="420" y2="425" stroke="#111" stroke-width="1.2"/>
<line x1="423.5" y1="408" x2="423.5" y2="425" stroke="#111" stroke-width="1.2"/>
<line x1="427.3" y1="425" x2="427.3" y2="449" stroke="#111" stroke-width="1.4"/>
<path d="M485.5 419.3 486.2 419.6 486.9 419.6 487.6 420 488.3 419.8 489 420.3 489.7 420 490.4 419.7 491.1 419.3 491.8 419.5 492.5 419.4 493.2 419.7 493.9 419.1 494.6 419.8 495.3 420 496 419.8 496.7 419.4 497.4 419.5 498.1 420 498.8 419.9 499.5 419.7 500.2 420.1 500.9 420.3 501.6 420.2 502.3 419.6 503 419.7 503.7 419.2 504.4 419.3 505.1 418.4 505.8 418.5 506.5 419.1 507.2 418.5 507.9 418.5 508.6 418.1 509.3 417.8 510 418.2 510.7 418.5 511.4 418.7 512.1 419 512.8 418 513.5 418.4 514.2 417.9 514.9 417.8 515.6 417.9 516.3 419.1 517 419.4 517.7 419.2 518.4 418.9 519.1 419.5 519.8 420.2 520.5 418.8 521.2 418.9 521.9 418.8 522.6 418.8 523.3 418.8 524 419.4 524.7 419.2 525.4 418.9 526.1 418.3 526.8 418.5 527.5 418.6 528.2 418.7 528.9 418.2 529.6 417.6 530.3 418 531 417.6 531.7 417.6 532.4 417.4 533.1 417.9 533.8 417.5 534.5 417.6 535.2 417.4 535.9 417.1 536.6 417.5 537.3 417 538 417.4 538.7 417.6 539.4 417.8 540.1 418.3 540.8 418.5 541.5 418.8 542.2 418.5 542.9 418.1 543.6 418.1 544.3 418.6 545 419 545.7 418.2 546.4 418.7 547.1 419.1 547.8 419.2 548.5 419.6 549.2 419.9 549.9 420.1 550.6 419.8 551.3 419.6 552 419.8 552.7 420.5 553.4 420.4 554.1 420 554.8 419.6 555.5 419.6 556.2 419.3 556.9 419.3 557.6 419.8 558.3 419.3 559 419.8 559.7 418.7 560.4 418.9 561.1 419 561.8 419.6 562.5 418.7 563.2 418.5 563.9 419.3 564.6 418.6 565.3 418.8 566 418.7 566.7 418.9 567.4 418.4 568.1 418.6 568.8 419.4 569.5 419.2 570.2 419.1 570.9 419.8 571.6 419.7 572.3 419.6 573 420.1 573.7 420.6 574.4 420.3 575.1 420.4 575.8 419.7 576.5 419.5 577.2 420.1 577.9 419.5 578.6 419.8 579.3 419.8 580 419.6 580.7 419.2 581.4 419.6 582.1 419.2 582.8 420 583.5 419.6 584.2 419.3 584.9 419.7 585.6 419.5 586.3 419.6 587 419.6 587.7 420 588.4 419.6 589.1 419.2 589.8 419.9 590.5 420.3 591.2 420.3 591.9 419.7 592.6 420.4 593.3 419.8 594 420 594.7 419.2 595.4 419.8 596.1 419.7 596.8 419.9 597.5 419.3 598.2 419.3 598.9 419.1 599.6 419.1 600.3 418.8 601 418.9 601.7 419.2 602.4 419.2 603.1 419.1 603.8 418.7 604.5 419.2 605.2 418.4 605.9 419 606.6 419.3 607.3 419.2 608 418.9 608.7 419.1 609.4 419.4 610.1 418.9 610.8 419 611.5 419.5 612.2 420.1 612.9 419.8 613.6 419.8 614.3 419.1 615 418.6 615.7 418.9 616.4 419.6 617.1 419.3 617.8 419.5 618.5 418.9 619.2 419.5 619.9 419.6 620.6 419.9 621.3 420.5 622 420.6 622.7 420.9 623.4 420.3 624.1 420.1 624.8 419.2 625.5 419.4 626.2 419.2 626.9 419.3 627.6 419.2 628.3 419.4 629 418.5 629.7 418.7 630.4 418.7 631.1 418.7 631.8 419.3 632.5 419.9 633.2 420.3 633.9 420.3 634.6 419.4 635.3 419.4 636 419.4 636.7 419.2 637.4 419.1 638.1 419.4 638.8 419.5 639.5 419.2 640.2 418.9 640.9 418.8 641.6 419.4 642.3 421 643 420.6 643.7 421.1 644.4 420.7 645.1 421 645.8 419.8 646.5 419.5 647.2 419.3 647.9 419.4 648.6 419.9 649.3 419.6 650 419.6 650.7 419.6 651.4 419.3 652.1 419.7 652.8 419.1 653.5 419.3 654.2 419.6 654.9 419.1 655.6 419.5 656.3 419.6 657 419.5 657.7 419.9 658.4 419.7 659.1 419.2 659.8 419.3 660.5 419.4 661.2 419.8 661.9 419.9 662.6 419.2 663.3 419.1 664 418.7 664.7 419.1 665.4 418.7 666.1 418.7 666.8 418.4 667.5 418.8 668.2 419.3 668.9 419.7 669.6 419.7 670.3 418.9 671 419.9 671.7 420.2 672.4 420.5 673.1 420.4 673.8 420.2 674.5 419.9 675.2 419.9 675.9 420.4 676.6 419.7 677.3 419.9 678 420.7 678.7 420.5 679.4 420.9 680.1 421.2 680.8 421.5 681.5 420.8 682.2 420.4 682.9 420.7 683.6 420.3 684.3 420.4 685 420.5 685.7 420.7 686.4 420.1 687.1 420.1 687.8 420.1 688.5 420.4 689.2 419.7 689.9 419.9 690.6 420.2 691.3 420 692 420.4 692.7 420.8 693.4 421.3 694.1 421.3 694.8 420.5 695.5 420.5 696.2 419.9 696.9 420.2 697.6 420.2 698.3 419.5 699 419.6 699.7 420 700.4 420 701.1 420.3 701.8 420 702.5 419.8 703.2 419.5 703.9 419.3 704.6 419.5 705.3 419.1 706 419.3 706.7 419.4 707.4 418.7 708.1 418.4 708.8 419.7 709.5 419.2 710.2 419.6 710.9 419.5 711.6 419.9 712.3 420.3 713 420.2 713.7 419.4 714.4 419.2 715.1 419.1 715.8 419.2 716.5 419.4 717.2 419.4 717.9 419.7 718.6 420 719.3 419.7 720 419.3 720.7 419.6 721.4 420.4 722.1 420.2 722.8 420.2 723.5 420 724.2 419.6 724.9 420.1 725.6 419.9 726.3 420 727 419.6 727.7 419.3 728.4 420.1 729.1 419.3 729.8 419.1 730.5 419.5 731.2 419.3 731.9 419.2 732.6 419.5 733.3 419.2 734 419.7 734.7 420.2 735.4 419.5 736.1 419.7 736.8 419.2 737.5 419.7 738.2 419.6 738.9 419.5 739.6 419.2 740.3 419.6 741 419.5 741.7 418.8 742.4 419.8 743.1 420.3 743.8 419.9 744.5 419.1 745.2 418.9 745.9 418.9 746.6 418.6 747.3 418.6 748 418.7 748.7 418.5 749.4 419.5 750.1 419.2 750.8 419.8 751.5 420.3 752.2 420.8 752.9 421.3 753.6 420.6 754.3 421.2 755 421 755.7 420.8 756.4 420.4 757.1 420.8 757.8 421.4 758.5 420.5 759.2 421 759.9 421.3 760.6 421.6 761.3 421.7 762 421.2 762.7 422.3 763.4 421.7 764.1 421.2 764.8 421.1 765.5 421.3 766.2 421.4 766.9 420.5 767.6 421 768.3 420.8 769 420.6 769.7 420.1 770.4 419.5 771.1 419.6 771.8 419.8 772.5 420.1 773.2 420 773.9 419.5 774.6 420.1 775.3 419.8 776 420.6 776.7 420.2 777.4 419.9 778.1 419.5 778.8 420.2 779.5 420.2 780.2 420.3 780.9 420.5 781.6 420.4 782.3 420.4 783 421.1 783.7 420.9 784.4 421.2 785.1 421.2 785.8 420.9 786.5 420.5 787.2 420.6 787.9 419.8 788.6 419.7 789.3 419.9 790 419.9 790.7 420 791.4 420.2 792.1 420.9 792.8 420.7 793.5 421.5 794.2 420.8 794.9 420.8 795.6 420.2 796.3 420.3 797 419.8 797.7 418.8 798.4 418.7 799.1 418.8 799.8 417.9 800.5 417.8 801.2 418.5 801.9 417.9 802.6 418.1 803.3 417.5 804 418 804.7 417.2 805.4 417.6 806.1 418 806.8 417.8 807.5 417.8 808.2 418 808.9 418.3 809.6 418.5 810.3 418.8 811 419.2 811.7 419 812.4 419 813.1 419.3 813.8 419.1 814.5 419 815.2 419.6 815.9 419.5 816.6 420 817.3 419.9 818 419.9 818.7 419 819.4 419.7 820.1 419.4 820.8 419.3 821.5 419.4 822.2 419.3 822.9 419.7 823.6 420.3 824.3 420.3 825 420.6 825.7 420.1 826.4 419.5 827.1 419.3 827.8 420.1 828.5 420.2 829.2 420.3 829.9 420 830.6 420.2 831.3 420.4 832 420.3 832.7 420.5 833.4 420.1 834.1 419.7 834.8 419 835.5 418.6 836.2 419.3 836.9 419.3 837.6 419.4 838.3 419.7 839 419.6 839.7 419.8 840.4 420.5 841.1 421 841.8 420 842.5 419.6 843.2 420 843.9 420.2 844.6 420.6 845.3 420.8 846 421.1 846.7 421.2 847.4 421.4 848.1 421.6 848.8 421.1 849.5 420.2 850.2 420.1 850.9 420.5 851.6 419.8 852.3 419.3 853 419.6 853.7 420.4 854.4 420.6 855.1 420.5 855.8 420.4 856.5 420.2 857.2 419.7 857.9 420.3 858.6 420 859.3 419.7 860 420 860.7 419.5 861.4 419.8 862.1 419.8 862.8 420.3 863.5 420.8 864.2 421.4 864.9 421.5 865.6 420.6 866.3 420.7 867 421.4 867.7 421 868.4 420.7 869.1 420.4 869.8 420.4 870.5 420.3 871.2 420.1 871.9 420 872.6 420.7 873.3 421 874 420.6 874.7 421 875.4 420.4 876.1 420.2 876.8 420 877.5 418.8 878.2 418.7 878.9 418.5 879.6 418 880.3 417.5 881 417.8 881.7 418.1 882.4 417.7 883.1 418.6 883.8 418.6 884.5 418.2 885.2 418.1 885.9 418.4 886.6 418.5 887.3 419.1 888 419.1 888.7 419.1 889.4 418.7 890.1 419.5 890.8 420.1 891.5 419.9 892.2 420 892.9 420 893.6 420.3 894.3 420.6 895 421.3 895.7 421.4 896.4 421.6 897.1 421 897.8 421.1 898.5 420.9 899.2 421.1 899.9 420.7 900.6 421.4 901.3 421.1 902 421.6 902.7 421.6 903.4 421.1 904.1 421.1 904.8 420.9 905.5 420.3 906.2 420.8 906.9 420.9 907.6 420.8 908.3 420.6 909 421.3 909.7 421.4 910.4 421.4 911.1 420.6 911.8 421.2 912.5 420.9 913.2 420.5 913.9 419.7 914.6 419.3 915.3 419.6 916 419.7 916.7 419.6 917.4 418.6 918.1 419 918.8 418.9 919.5 419.1 920.2 420 920.9 420.6 921.6 420.2 922.3 420.6 923 420.6 923.7 421.1 924.4 420.2 925.1 419.6 925.8 420.1 926.5 419.3 927.2 418.8 927.9 419.2 928.6 419 929.3 419.4 930 419.1 930.7 418.8 931.4 419.4 932.1 419.2 932.8 418.9 933.5 418.9 934.2 418.9 934.9 418.8 935 419 L935 434.4 934.9 434.9 934.2 434.5 933.5 434.8 932.8 434.5 932.1 435.4 931.4 434.8 930.7 435.1 930 435 929.3 434.7 928.6 435.2 927.9 434.9 927.2 434.6 926.5 435.1 925.8 435.7 925.1 435.5 924.4 435.9 923.7 436.7 923 436.7 922.3 436.7 921.6 436.1 920.9 436.3 920.2 435.8 919.5 435.1 918.8 434.7 918.1 434.5 917.4 434.9 916.7 435.1 916 435.4 915.3 435.6 914.6 435.1 913.9 435.3 913.2 435.8 912.5 436.3 911.8 436.9 911.1 436.4 910.4 437.2 909.7 437 909 437 908.3 436.6 907.6 437 906.9 436.7 906.2 436.6 905.5 436.2 904.8 437 904.1 436.7 903.4 436.8 902.7 437.4 902 436.9 901.3 436.9 900.6 437.2 899.9 436.4 899.2 437.3 898.5 437.1 897.8 436.9 897.1 437.3 896.4 437.1 895.7 437.5 895 437.1 894.3 436.7 893.6 435.9 892.9 435.9 892.2 435.9 891.5 436.1 890.8 436 890.1 435.1 889.4 435 888.7 434.4 888 434.5 887.3 435 886.6 434 885.9 433.9 885.2 433.5 884.5 434.1 883.8 434 883.1 434.1 882.4 434 881.7 433.8 881 433.4 880.3 433.3 879.6 433.6 878.9 434.3 878.2 434.6 877.5 434.7 876.8 435.8 876.1 435.9 875.4 436.3 874.7 436.4 874 436.8 873.3 436.2 872.6 436.4 871.9 435.8 871.2 435.8 870.5 435.5 869.8 436 869.1 435.9 868.4 436 867.7 436.3 867 436.8 866.3 436.4 865.6 436.3 864.9 437.3 864.2 436.8 863.5 436.6 862.8 436.5 862.1 435.6 861.4 435.8 860.7 435.2 860 435.4 859.3 435.2 858.6 435.4 857.9 436 857.2 435.5 856.5 436.3 855.8 436 855.1 436.3 854.4 436.1 853.7 436.3 853 435.3 852.3 435.3 851.6 435.8 850.9 436.4 850.2 436 849.5 435.6 848.8 437.1 848.1 437.1 847.4 436.9 846.7 437 846 436.7 845.3 436.6 844.6 436.7 843.9 435.7 843.2 435.4 842.5 435.1 841.8 435.6 841.1 436.7 840.4 436.5 839.7 435.2 839 435.5 838.3 435.3 837.6 435.3 836.9 435.4 836.2 435.2 835.5 434.4 834.8 434.9 834.1 435.6 833.4 435.8 832.7 435.7 832 436.1 831.3 436.3 830.6 435.4 829.9 435.8 829.2 436.3 828.5 435.7 827.8 436.2 827.1 435.2 826.4 435.2 825.7 435.8 825 436 824.3 436.2 823.6 436.3 822.9 435.1 822.2 435.2 821.5 435.1 820.8 435.4 820.1 434.9 819.4 435.6 818.7 434.9 818 435.7 817.3 435.5 816.6 435.6 815.9 435.3 815.2 435 814.5 434.4 813.8 434.6 813.1 435 812.4 434.8 811.7 434.7 811 434.7 810.3 434.7 809.6 434.1 808.9 433.4 808.2 433.9 807.5 433.5 806.8 433.7 806.1 433.7 805.4 433.3 804.7 433.1 804 433.5 803.3 433.6 802.6 433.4 801.9 433.6 801.2 433.9 800.5 433.9 799.8 433.7 799.1 434.5 798.4 434.5 797.7 435 797 435.2 796.3 436 795.6 435.9 794.9 436.5 794.2 436.4 793.5 436.7 792.8 436.3 792.1 436.3 791.4 435.7 790.7 435.5 790 435.9 789.3 435.6 788.6 435.5 787.9 435.8 787.2 436.1 786.5 436.2 785.8 436.5 785.1 437.1 784.4 436.6 783.7 436.5 783 436.7 782.3 436.2 781.6 436.4 780.9 436.2 780.2 436.2 779.5 436 778.8 435.6 778.1 435.4 777.4 435.7 776.7 436.2 776 436 775.3 435.7 774.6 435.6 773.9 435.2 773.2 435.6 772.5 435.7 771.8 435.2 771.1 435.2 770.4 435.1 769.7 435.6 769 436.5 768.3 437 767.6 436.2 766.9 436.2 766.2 436.8 765.5 437 764.8 436.4 764.1 436.3 763.4 437 762.7 437.8 762 436.9 761.3 437.7 760.6 437.3 759.9 436.9 759.2 436.7 758.5 436.6 757.8 437.2 757.1 436.5 756.4 436.3 755.7 436 755 436.6 754.3 437.1 753.6 436.6 752.9 437.2 752.2 436.5 751.5 435.8 750.8 435.5 750.1 434.4 749.4 434.6 748.7 434.2 748 434.1 747.3 434 746.6 434.4 745.9 434.7 745.2 434.5 744.5 434.9 743.8 435.1 743.1 435.9 742.4 435.6 741.7 434.5 741 435.4 740.3 435.1 739.6 434.5 738.9 435 738.2 435.4 737.5 435.2 736.8 434.8 736.1 435.5 735.4 435.5 734.7 435.6 734 435 733.3 435.3 732.6 434.9 731.9 435.1 731.2 435 730.5 435.1 729.8 435.1 729.1 435.1 728.4 435.7 727.7 435.2 727 435.4 726.3 435.5 725.6 435.5 724.9 435.7 724.2 435 723.5 435.9 722.8 435.9 722.1 436.3 721.4 436.2 720.7 435.2 720 435.4 719.3 435.4 718.6 435.6 717.9 435 717.2 435 716.5 434.8 715.8 434.8 715.1 434.6 714.4 434.5 713.7 435 713 435.5 712.3 435.6 711.6 435.5 710.9 435 710.2 434.9 709.5 434.8 708.8 435.1 708.1 434.3 707.4 434.7 706.7 434.7 706 434.7 705.3 434.9 704.6 435.2 703.9 435.1 703.2 435 702.5 435.7 701.8 435.1 701.1 435.4 700.4 435.8 699.7 435.7 699 435.3 698.3 435.3 697.6 436.3 696.9 436.3 696.2 436 695.5 436.3 694.8 435.8 694.1 436.4 693.4 436.7 692.7 436.5 692 436.2 691.3 435.8 690.6 435.6 689.9 435.8 689.2 435.7 688.5 435.6 687.8 436 687.1 435.5 686.4 435.5 685.7 435.9 685 435.9 684.3 435.8 683.6 436.1 682.9 436.3 682.2 436.1 681.5 436.3 680.8 436.8 680.1 437 679.4 436.5 678.7 436 678 435.8 677.3 435.3 676.6 435.4 675.9 435.7 675.2 434.9 674.5 435.5 673.8 436 673.1 436.1 672.4 436 671.7 435.6 671 435.2 670.3 434.7 669.6 435.3 668.9 435.2 668.2 434.8 667.5 434.4 666.8 434 666.1 434.2 665.4 434.2 664.7 434.5 664 434.4 663.3 434.8 662.6 435 661.9 435.7 661.2 435.3 660.5 434.9 659.8 434.4 659.1 434.7 658.4 435.2 657.7 435.1 657 434.9 656.3 435.1 655.6 434.7 654.9 435 654.2 435.1 653.5 434.5 652.8 434.7 652.1 435 651.4 434.6 650.7 435.5 650 435.5 649.3 435.1 648.6 435.8 647.9 434.9 647.2 434.8 646.5 435 645.8 435.5 645.1 436.6 644.4 436.1 643.7 436.6 643 436.2 642.3 436.7 641.6 434.7 640.9 434.5 640.2 434.6 639.5 434.6 638.8 434.7 638.1 434.6 637.4 434.7 636.7 435.1 636 435.1 635.3 435 634.6 435.3 633.9 435.7 633.2 435.6 632.5 435.7 631.8 434.9 631.1 434 630.4 434.2 629.7 434.2 629 434.1 628.3 434.7 627.6 434.7 626.9 435 626.2 434.9 625.5 435.1 624.8 434.9 624.1 435.7 623.4 435.8 622.7 436.2 622 436.5 621.3 436.1 620.6 435.7 619.9 435.2 619.2 435.1 618.5 434.7 617.8 434.9 617.1 434.6 616.4 435.1 615.7 434.6 615 434.4 614.3 434.8 613.6 434.9 612.9 435.5 612.2 435.2 611.5 434.9 610.8 434.1 610.1 434.6 609.4 434.7 608.7 434.7 608 434.4 607.3 434.9 606.6 435.1 605.9 434.6 605.2 434.2 604.5 434.5 603.8 434.6 603.1 435 602.4 434.8 601.7 434.6 601 434.7 600.3 434.4 599.6 434.3 598.9 434.8 598.2 434.6 597.5 435.1 596.8 435.3 596.1 435.4 595.4 435.2 594.7 435.1 594 435.5 593.3 435.4 592.6 435.6 591.9 435.5 591.2 435.8 590.5 435.6 589.8 435.3 589.1 434.9 588.4 435.1 587.7 435.6 587 435 586.3 435 585.6 435 584.9 435.3 584.2 434.9 583.5 435.3 582.8 435.2 582.1 435.2 581.4 435 580.7 435.1 580 435.2 579.3 435.4 578.6 434.9 577.9 435 577.2 435.5 576.5 434.6 575.8 435.3 575.1 435.7 574.4 436 573.7 436.1 573 436.1 572.3 435.1 571.6 435 570.9 435.2 570.2 434.9 569.5 434.6 568.8 434.8 568.1 434.4 567.4 433.9 566.7 434.3 566 433.7 565.3 434.3 564.6 434.4 563.9 434.2 563.2 434.2 562.5 434.5 561.8 434.8 561.1 434.8 560.4 434.9 559.7 434 559 435 558.3 435 557.6 435 556.9 435 556.2 434.6 555.5 434.6 554.8 435 554.1 435.9 553.4 435.7 552.7 435.6 552 435.3 551.3 435.1 550.6 435 549.9 435.3 549.2 435.3 548.5 434.8 547.8 434.7 547.1 434.5 546.4 433.9 545.7 433.8 545 433.9 544.3 434.4 543.6 433.3 542.9 433.3 542.2 433.7 541.5 434.3 540.8 434.3 540.1 433.4 539.4 433.2 538.7 433.1 538 432.8 537.3 433 536.6 432.7 535.9 432.7 535.2 432.7 534.5 433.5 533.8 433.4 533.1 433.4 532.4 432.7 531.7 432.7 531 433.2 530.3 433.2 529.6 432.9 528.9 433.3 528.2 434.5 527.5 434 526.8 434.1 526.1 434.2 525.4 434.7 524.7 434.4 524 434.8 523.3 434 522.6 433.7 521.9 434 521.2 434.3 520.5 434.5 519.8 435.1 519.1 434.7 518.4 434.8 517.7 434.7 517 434.7 516.3 434.6 515.6 433.5 514.9 433.2 514.2 432.9 513.5 433.9 512.8 434 512.1 434.4 511.4 434 510.7 433.6 510 433.6 509.3 433.3 508.6 433.6 507.9 433.7 507.2 433.7 506.5 434.4 505.8 434 505.1 434.3 504.4 434.6 503.7 434.3 503 434.8 502.3 434.6 501.6 435.4 500.9 435.7 500.2 435.5 499.5 435.5 498.8 435.6 498.1 435.6 497.4 435 496.7 435.1 496 435.1 495.3 435.4 494.6 435.2 493.9 434.3 493.2 435 492.5 435 491.8 434.6 491.1 434.9 490.4 435.1 489.7 435.1 489 435.8 488.3 435.7 487.6 435.4 486.9 435.1 486.2 435 485.5 434.7Z" fill="#0a0a0a"/>
<path d="M485.5 436.8 486.2 417.8 486.9 438.4 487.6 418.6 488.3 437.8 489 419.7 489.7 435.1 490.4 416.9 491.1 436 491.8 419.1 492.5 434.6 493.2 419.7 493.9 436 494.6 419.7 495.3 435.6 496 418.1 496.7 438 497.4 419.7 498.1 436.1 498.8 415.6 499.5 436.9 500.2 419.9 500.9 435.6 501.6 419.6 502.3 434.7 503 415.4 503.7 435.8 504.4 417.3 505.1 433.8 505.8 417 506.5 437.2 507.2 416.3 507.9 434 508.6 417.2 509.3 436.8 510 415.4 510.7 434 511.4 418.6 512.1 435.1 512.8 416.2 513.5 434.9 514.2 413.6 514.9 436 515.6 415.3 516.3 435.3 517 417.4 517.7 436.4 518.4 414.9 519.1 437.4 519.8 417.2 520.5 434.5 521.2 413.1 521.9 437.1 522.6 416.8 523.3 435.1 524 418 524.7 436.7 525.4 418.8 526.1 435.7 526.8 418.8 527.5 434.6 528.2 419 528.9 434.2 529.6 413.4 530.3 434 531 416.3 531.7 432.7 532.4 415.7 533.1 433.6 533.8 415.2 534.5 436.4 535.2 416.8 535.9 432.6 536.6 416.4 537.3 434.8 538 417.3 538.7 433.4 539.4 418.3 540.1 435.3 540.8 418.5 541.5 436.6 542.2 417.5 542.9 438.4 543.6 413.3 544.3 434.6 545 417.8 545.7 434.5 546.4 418.5 547.1 435 547.8 417.9 548.5 435.6 549.2 419.3 549.9 435.9 550.6 419.4 551.3 436.3 552 420 552.7 436.3 553.4 418.2 554.1 435.7 554.8 416.4 555.5 434.7 556.2 418.1 556.9 436.4 557.6 415.2 558.3 437.4 559 414 559.7 434.6 560.4 418.9 561.1 434.7 561.8 417.8 562.5 435.6 563.2 418.8 563.9 435.7 564.6 418.7 565.3 434.2 566 416.7 566.7 437.7 567.4 418.3 568.1 434 568.8 419.3 569.5 435.9 570.2 415.9 570.9 435.5 571.6 419.7 572.3 435.9 573 419.2 573.7 436.9 574.4 420.1 575.1 435.9 575.8 419.5 576.5 435.3 577.2 417.4 577.9 435.2 578.6 418.8 579.3 437.3 580 418.9 580.7 437.1 581.4 418.4 582.1 435.8 582.8 417.8 583.5 437.4 584.2 418.1 584.9 436.5 585.6 419.7 586.3 435.6 587 420.1 587.7 436.4 588.4 418.6 589.1 434.9 589.8 419.4 590.5 436.2 591.2 418.6 591.9 436.4 592.6 420.2 593.3 435.9 594 418.8 594.7 435.3 595.4 419.8 596.1 435.6 596.8 420 597.5 437.4 598.2 417.9 598.9 434.4 599.6 418.9 600.3 435.3 601 419.5 601.7 435.4 602.4 419.1 603.1 436.8 603.8 418.5 604.5 435 605.2 418.5 605.9 435 606.6 418 607.3 436 608 419.2 608.7 436.7 609.4 417.2 610.1 438.3 610.8 414.8 611.5 434.8 612.2 419.2 612.9 436.3 613.6 419.7 614.3 435.6 615 417.1 615.7 437 616.4 418.2 617.1 435.6 617.8 418.7 618.5 436.5 619.2 419.4 619.9 436.5 620.6 420.1 621.3 441.1 622 420.5 622.7 437.1 623.4 420.4 624.1 435.9 624.8 417.6 625.5 436 626.2 419.2 626.9 437.2 627.6 419 628.3 435.3 629 416.6 629.7 435.1 630.4 418.1 631.1 435 631.8 417.8 632.5 435.8 633.2 419.8 633.9 437.5 634.6 419 635.3 435.9 636 419.1 636.7 436.8 637.4 416.8 638.1 434.8 638.8 418.6 639.5 435.2 640.2 419.3 640.9 434.6 641.6 414.8 642.3 439.5 643 420.8 643.7 436.5 644.4 417.9 645.1 436 645.8 419 646.5 435.6 647.2 418.6 647.9 435.3 648.6 420.3 649.3 436.2 650 417.8 650.7 435.6 651.4 419.4 652.1 436.8 652.8 418.7 653.5 434.7 654.2 419.3 654.9 435.5 655.6 416.7 656.3 437.1 657 417.5 657.7 435.7 658.4 418.8 659.1 435.8 659.8 415.3 660.5 435.8 661.2 418.6 661.9 437.8 662.6 418.9 663.3 440.1 664 415.9 664.7 436.7 665.4 413.7 666.1 437.5 666.8 416.8 667.5 434.2 668.2 418.6 668.9 436.6 669.6 417.4 670.3 436 671 419.8 671.7 436 672.4 419.3 673.1 439 673.8 418.3 674.5 435.4 675.2 419.3 675.9 437.1 676.6 419.9 677.3 435.7 678 419.8 678.7 438.2 679.4 419 680.1 437.3 680.8 419.1 681.5 436.1 682.2 420.3 682.9 438.2 683.6 420.2 684.3 437.8 685 419.7 685.7 439.1 686.4 418.7 687.1 435.8 687.8 418.9 688.5 437.9 689.2 420.1 689.9 436.9 690.6 418.7 691.3 436.6 692 419.2 692.7 437.4 693.4 420.9 694.1 438.7 694.8 419.1 695.5 436 696.2 420.4 696.9 438.1 697.6 419.5 698.3 435.3 699 419.8 699.7 436.7 700.4 420.3 701.1 436.8 701.8 419.4 702.5 436 703.2 418.8 703.9 436.2 704.6 418.8 705.3 435.3 706 417.4 706.7 436.3 707.4 415.6 708.1 435.1 708.8 417.5 709.5 437.6 710.2 418.9 710.9 435.8 711.6 419.3 712.3 436.2 713 419.4 713.7 435.9 714.4 417.7 715.1 435.8 715.8 417.9 716.5 435.2 717.2 415.7 717.9 435 718.6 418.5 719.3 435.3 720 418.2 720.7 435.5 721.4 420.6 722.1 436.1 722.8 420.4 723.5 435.8 724.2 417.6 724.9 435.7 725.6 419.9 726.3 436.4 727 418.8 727.7 435.6 728.4 416.7 729.1 437.3 729.8 414.2 730.5 435.8 731.2 417.9 731.9 437.3 732.6 418.9 733.3 440.3 734 416.8 734.7 437.8 735.4 419.7 736.1 435.6 736.8 419.7 737.5 436.4 738.2 419.1 738.9 436.6 739.6 418.6 740.3 435.8 741 419.4 741.7 436.3 742.4 419.5 743.1 436.4 743.8 417 744.5 437.3 745.2 416.5 745.9 434.5 746.6 412.1 747.3 435 748 418.1 748.7 436.7 749.4 419.3 750.1 436 750.8 418.8 751.5 435.7 752.2 419.4 752.9 439.6 753.6 418.3 754.3 438.6 755 418.8 755.7 437.3 756.4 418.3 757.1 437 757.8 421.5 758.5 436.4 759.2 421 759.9 437.6 760.6 418.5 761.3 439 762 421 762.7 438.2 763.4 419.8 764.1 436.4 764.8 420.8 765.5 439.5 766.2 418.8 766.9 436.5 767.6 418.7 768.3 436.9 769 418.7 769.7 437.6 770.4 418.8 771.1 439.6 771.8 416.6 772.5 436.3 773.2 419.9 773.9 436 774.6 419.6 775.3 440 776 418.8 776.7 440.5 777.4 418.2 778.1 435.7 778.8 419.6 779.5 438.3 780.2 419.1 780.9 438.1 781.6 419.9 782.3 437.8 783 419.6 783.7 437 784.4 420 785.1 438.6 785.8 419.8 786.5 436.5 787.2 419.6 787.9 435.8 788.6 416.8 789.3 436.4 790 418.2 790.7 437.8 791.4 419.6 792.1 437.7 792.8 420.6 793.5 436.7 794.2 420.7 794.9 438.2 795.6 420.4 796.3 436.4 797 419.2 797.7 435.2 798.4 418.2 799.1 434.6 799.8 418.3 800.5 433.5 801.2 415.4 801.9 433.4 802.6 417 803.3 434 804 413.5 804.7 434.1 805.4 415.1 806.1 434.5 806.8 414.5 807.5 435.7 808.2 417.1 808.9 437 809.6 417.2 810.3 435.6 811 417.3 811.7 435 812.4 415.4 813.1 436.2 813.8 418.4 814.5 436.5 815.2 417.6 815.9 437.5 816.6 419.1 817.3 436.8 818 419.1 818.7 435.1 819.4 419.6 820.1 437 820.8 417.2 821.5 438.3 822.2 416.6 822.9 438.4 823.6 416.8 824.3 438.4 825 417.8 825.7 436.1 826.4 417.5 827.1 435.3 827.8 419.1 828.5 437.3 829.2 418.7 829.9 436 830.6 418.6 831.3 436 832 420.7 832.7 436.7 833.4 414.7 834.1 435.2 834.8 417.5 835.5 436.5 836.2 417.8 836.9 435.4 837.6 417 838.3 436.7 839 419.9 839.7 437.4 840.4 417.2 841.1 438.2 841.8 416.2 842.5 435.7 843.2 418.8 843.9 436.9 844.6 418.7 845.3 438.6 846 417.4 846.7 437 847.4 421.1 848.1 439.6 848.8 420 849.5 437.8 850.2 417.6 850.9 437.1 851.6 419.2 852.3 435 853 417.4 853.7 438.9 854.4 419.3 855.1 436 855.8 418.6 856.5 439.9 857.2 417.8 857.9 438 858.6 420 859.3 439 860 419.4 860.7 436.7 861.4 419.8 862.1 436.8 862.8 417.7 863.5 437.2 864.2 421.1 864.9 439.9 865.6 420 866.3 437.5 867 419.9 867.7 436.9 868.4 420.1 869.1 437 869.8 420 870.5 436.4 871.2 420.2 871.9 435.6 872.6 417.9 873.3 438.4 874 420 874.7 436.5 875.4 421 876.1 438.9 876.8 419.4 877.5 435.5 878.2 416.9 878.9 436.1 879.6 417 880.3 433.6 881 417.5 881.7 434.2 882.4 416.3 883.1 435.1 883.8 416.3 884.5 434.4 885.2 418.3 885.9 434.5 886.6 417.3 887.3 435.1 888 417.7 888.7 436 889.4 417.9 890.1 436.6 890.8 418.5 891.5 438.2 892.2 418 892.9 436.1 893.6 418.5 894.3 439 895 417.2 895.7 437.1 896.4 421.4 897.1 440.4 897.8 420.4 898.5 437.8 899.2 421.1 899.9 439 900.6 420.6 901.3 437.7 902 418.7 902.7 439 903.4 417.4 904.1 440.4 904.8 420.1 905.5 436.9 906.2 415.7 906.9 439.6 907.6 420.1 908.3 436.9 909 418 909.7 437.9 910.4 420.6 911.1 436.7 911.8 421.1 912.5 437.3 913.2 420.1 913.9 438.9 914.6 419.7 915.3 435.7 916 419.8 916.7 435.1 917.4 418.4 918.1 437.6 918.8 416.7 919.5 436.7 920.2 418.9 920.9 438.1 921.6 418.3 922.3 436.3 923 417.1 923.7 437.5 924.4 413.3 925.1 437.7 925.8 419.7 926.5 438.1 927.2 418.8 927.9 435.6 928.6 418.2 929.3 436.4 930 418.3 930.7 437 931.4 419 932.1 436 932.8 418.3 933.5 436.6 934.2 417.8 934.9 434.8 935 417.4" fill="none" stroke="#0a0a0a" stroke-width="0.9" stroke-linejoin="bevel"/>
<path d="M999.3 421.1 1000 420.9 1000.7 421 1001.4 420.7 1002.1 420.7 1002.8 421 1003.5 421.6 1004.2 421.2 1004.9 421 1005.6 421.2 1006.3 421.1 1007 420.7 1007.7 420.4 1008.4 421.1 1009.1 420.7 1009.8 420.9 1010.5 420.6 1011.2 421.2 1011.9 421.2 1012.6 421.3 1013.3 420.9 1014 421.1 1014.7 422 1015.4 422.2 1016.1 422.2 1016.8 422 1017.5 422.4 1018.2 422.4 1018.9 422.7 1019.6 422.2 1020.3 422.4 1021 422.5 1021.7 422.2 1022.4 421.9 1023.1 422.5 1023.8 421.6 1024.5 422.1 1025.2 422.3 1025.9 422.6 1026.6 422.4 1027.3 422.1 1028 422.6 1028.7 423.5 1029.4 424.2 1030.1 424.8 1030.8 424.3 1031.5 423.5 1032.2 423.6 1032.9 423.4 1033.6 423.7 1034.3 423.3 1035 423.8 1035.7 423 1036.4 423.1 1037.1 423.5 1037.8 423 1038.5 423.8 1039.2 423.9 1039.9 423.5 1040.6 423.1 1041.3 423.6 1042 423.3 1042.7 423.2 1043.4 423.3 1044.1 422.1 1044.8 422.5 1045.5 422.4 1046.2 422.3 1046.9 422.7 1047.6 423.5 1048.3 423.2 1049 422.1 1049.7 422.4 1050.4 423.4 1051.1 423.9 1051.8 423.9 1052.5 423.7 1053.2 423.7 1053.9 423.4 1054.6 423.1 1055.3 423.4 1056 423.4 1056.7 423.2 1057.4 423.1 1058.1 422.6 1058.8 422.4 1059.5 422.4 1060.2 422 1060.9 421.3 1061.6 421.8 1062.3 421.9 1063 422.6 1063.7 423 1064.4 422.9 1065.1 422.3 1065.8 422 1066.5 422.2 1067.2 422.2 1067.9 422.1 1068.6 422.6 1069.3 422.6 1070 422.7 1070.7 422.1 1071.4 421.1 1072.1 421.4 1072.8 421.6 1073.5 421.8 1074.2 422.5 1074.9 422.8 1075.6 422.4 1076.3 422.7 1077 422.1 1077.7 421.4 1078.4 421.3 1079.1 421.4 1079.8 422.8 1080.5 422.5 1081.2 421.6 1081.9 421.2 1082.6 422.2 1083.3 421.9 1084 422 1084.7 421.9 1085.4 422.3 1086.1 422.5 1086.8 422.3 1087.5 422.8 1088.2 422 1088.9 421.9 1089.6 421.5 1090.3 422.1 1091 422.3 1091.7 421.6 1092.4 421.1 1093.1 421.4 1093.8 421.7 1094.5 421.1 1095.2 421.7 1095.9 421.6 1096.6 420.9 1097.3 421.7 1098 421.5 1098.7 421.4 1099.4 421.5 1100.1 421.3 1100.8 421.4 1101.5 421.1 1102.2 420.9 1102.9 421.5 1103.6 421.2 1104.3 421.3 1105 422.1 1105.7 422.4 1106.4 422.9 1107.1 423.1 1107.8 422.2 1108.5 422.4 1109.2 422.8 1109.9 422.4 1110.6 421.9 1111.3 421.9 1112 422 1112.7 421.6 1113.4 421.5 1114.1 421.7 1114.8 421.9 1115.5 421.9 1116.2 422 1116.9 421.9 1117.6 422.5 1118.3 422.7 1119 423.5 1119.7 423.1 1120.4 423.7 1121.1 424.3 1121.8 423.6 1122.5 423.3 1123.2 423.8 1123.9 423.6 1124.6 423.6 1125.3 423.4 1126 423.3 1126.7 423 1127.4 422.8 1128.1 422.6 1128.8 422.9 1129.5 422.6 1130.2 423.2 1130.9 422.8 1131.6 423.1 1132.3 422.9 1133 423.2 1133.7 423.4 1134.4 423.3 1135.1 423.4 1135.8 423 1136.5 422.4 1137.2 422.8 1137.9 422.2 1138.6 422 1139.3 421.9 1140 421.8 1140.7 422.4 1141.4 422.6 1142.1 423.3 1142.8 423.7 1143.5 423.4 1144.2 422.4 1144.9 422.6 1145.6 423.4 1146.3 423.5 1147 422.9 1147.7 423.3 1148.4 422.7 1149.1 422.3 1149.8 422.2 1150.5 422.9 1151.2 422.5 1151.9 422.1 1152.6 421.5 1153.3 421 1154 421.1 1154.7 421.4 1155.4 422.4 1156.1 422.6 1156.8 422.8 1157.5 422.4 1158.2 422.4 1158.9 422.5 1159.6 422.5 1160.3 422.9 1161 423.1 1161.7 422.9 1162.4 422.2 1163.1 422.4 1163.8 422.5 1164.5 422.3 1165.2 421.9 1165.9 422 1166.6 422.3 1167.3 422.1 1168 421.5 1168.7 422.1 1169.4 422.2 1170.1 421.8 1170.8 421.1 1171.5 421.8 1172.2 421.7 1172.9 422.2 1173.6 422.1 1174.3 421.9 1175 422.8 1175.7 422.3 1176.4 422.6 1177.1 422 1177.8 422.2 1178.5 422.2 1179.2 422.7 1179.9 423.1 1180.6 423.1 1181.3 422.9 1182 423.2 1182.7 422.8 1183.4 421.7 1184.1 422.5 1184.8 422.2 1185.5 422.1 1186.2 421.8 1186.9 421.3 1187.6 421.2 1188.3 421.3 1189 420.9 1189.7 421.6 1190.4 421.8 1191.1 421.7 1191.8 421.8 1192.5 421.6 1193.2 421.4 1193.9 421.4 1194.6 421.7 1195.3 421.5 1196 421.4 1196.7 421.4 1197.4 422.1 1198.1 422.6 1198.8 422.5 1199.5 422.3 1200.2 422.5 1200.9 423 1201.6 422.7 1202.3 422.5 1203 422.8 1203.7 422.5 1204.4 421.9 1205.1 422.3 1205.8 422.3 1206.5 421.8 1207.2 421.2 1207.9 421.6 1208.6 421.5 1209.3 421.3 1210 421.2 1210.7 421.9 1211.4 421 1212.1 421.1 1212.8 421.2 1213.5 421.5 1214.2 421.4 1214.9 421.1 1215.6 420.9 1216.3 421.4 1217 421.9 1217.7 421.6 1218.4 421.5 1219.1 422.6 1219.8 422.7 1220.5 423.3 1221.2 422.6 1221.9 422.9 1222.6 422.7 1223.3 422.3 1224 422.9 1224.7 422.7 1225.4 422.5 1226.1 422.4 1226.8 422.4 1227.5 422.2 1228.2 422.3 1228.9 421.6 1229.6 422.8 1230.3 422.7 1231 422.3 1231.7 421.6 1232.4 421.2 1233.1 421.3 1233.8 421.2 1234.5 421.1 1235.2 421.7 1235.9 421.5 1236.6 421.5 1237.3 421.6 1238 421.5 1238.7 421.2 1239.4 421.6 1240.1 421.7 1240.8 422.4 1241.5 423.2 1242.2 423.3 1242.9 422.5 1243.6 422.1 1244.3 421.6 1245 421.3 1245.7 422.1 1246.4 422.2 1247.1 422.3 1247.8 422.3 1248.5 422.3 1249.2 422.2 1249.9 421.6 1250.6 421.2 1251.3 421.5 1252 421.6 1252.7 421.3 1253.4 422.1 1254.1 421.6 1254.8 421.9 1255.5 421.8 1256.2 422.1 1256.9 422 1257.6 422 1258.3 421.2 1259 422.2 1259.7 421.8 1260.4 422.5 1261.1 422.4 1261.8 422.9 1262.5 423 1263.2 423.9 1263.9 423.6 1264.6 423.8 1265.3 424.3 1266 424.6 1266.7 424.7 1267.4 424.2 1268.1 423.4 1268.8 423.6 1269.5 423.7 1270.2 423.2 1270.9 423.5 1271.6 424.3 1272.3 424.8 1273 423.7 1273.7 423.8 1274.4 423.8 1275.1 424.2 1275.8 423.5 1276.5 423.9 1277.2 424.3 1277.9 423.7 1278.6 423.5 1279.3 422.4 1280 423.1 1280.7 422.9 1281.4 423 1282.1 423.6 1282.8 423 1283.5 423 1284.2 422.1 1284.9 422.1 1285.6 422.1 1286.3 422 1287 421.6 1287.7 422.3 1288.4 423 1289.1 421.7 1289.8 422.3 1290.5 422.3 1291.2 422.3 1291.9 422.2 1292.6 421.2 1293.3 421.2 1294 421.8 1294.7 421.6 1295.4 421.2 1296.1 421.3 1296.8 421.3 1297.5 421.7 1298.2 422.1 1298.9 421.7 1299.6 422 1300.3 422 1301 422.7 1301.7 422 1302.4 422.5 1303.1 422 1303.8 421.7 1304.5 421.5 1305.2 421.4 1305.9 421.4 1306.6 421 1307.3 420.5 1308 421 1308.7 421.2 1309.4 421.3 1310.1 421.5 1310.8 421.7 1311.5 421.6 1312.2 421.9 1312.9 422.1 1313.6 422 1314.3 421.7 1315 422.1 1315.7 422.5 1316.4 422.9 1317.1 422.4 1317.8 422.9 1318.5 422.6 1319.2 422.2 1319.9 422 1320.6 421.6 1321.3 421.3 1322 421.5 1322.7 421.7 1323.4 421.8 1324.1 421.5 1324.8 420.5 1325.5 420.6 1326.2 420.5 1326.9 420.3 1327.6 420.6 1328.3 420.5 1329 420.7 1329.7 419.9 1330.4 419.8 1331.1 420.8 1331.8 420.5 1332.5 420.4 1333.2 420.5 1333.9 421.2 1334.6 421.6 1335.3 421.2 1336 421.3 1336.7 421.6 1337.4 422 1338.1 422.5 1338.8 422.8 1339.5 422.3 1340.2 422.2 1340.9 422.2 1341.6 421.9 1342.3 421.7 1343 421.4 1343.7 421.3 1344.4 421.5 1345.1 421.1 1345.8 421.4 1346.5 421.8 1347.2 422.6 1347.9 422.4 1348.6 421.9 1349.3 421.5 1350 422.5 1350.7 422.8 1351.4 422.8 1352.1 423.4 1352.8 423.2 1353.5 423.7 1354.2 424.1 1354.9 423.4 1355.6 423.5 1356.3 423.3 1357 423 1357.7 422.7 1358.4 422.8 1359.1 423.1 1359.8 422.9 1360.5 423.4 1361.2 422.6 1361.9 423.1 1362.6 422.9 1363.3 422.3 1364 422.2 1364.7 421.7 1365.4 421.8 1366.1 421.5 1366.8 421 1367.5 420.4 1368.2 420.5 1368.9 421 1369.6 420.4 1370.3 420.2 1371 421 1371.7 420.7 1372.4 421.1 1373.1 421.2 1373.8 421.5 1374.5 421.8 1375.2 421.9 1375.9 421.7 1376.6 422.3 1377.3 422.1 1378 421.8 1378.7 421.7 1379.4 421.4 1380.1 421.1 1380.8 420.9 1381.5 420.9 1382.2 421.3 1382.9 422 1383.6 421 1384.3 420.5 1385 420.7 1385.7 421.1 1386.4 421 1387.1 421 1387.8 421.4 1388.5 421.7 1389.2 421.4 1389.9 421.7 1390.6 421.2 1391.3 421.9 1392 422.1 1392.7 422.1 1393.4 420.9 1394.1 421.4 1394.8 421.3 1395.5 420.9 1396.2 420.6 1396.9 420.4 1397.6 419.4 1398.3 419.7 1399 420.1 1399.7 420.5 1400.4 420.6 1401.1 420.5 1401.8 421.5 1402.5 421.3 1403.2 421.5 1403.9 422.3 1404.6 421.7 1405.3 421.7 1406 421.8 1406.7 422.1 1407.4 422.6 1408.1 422 1408.8 421.4 1409.5 420.9 1410.2 420.9 1410.9 421.4 1411.6 421.6 1412.3 420.8 1413 421.4 1413.7 421 1414.4 421.2 1415.1 421.2 1415.8 420.7 1416.5 420.7 1417.2 421 1417.9 421.3 1418.6 420.8 1419.3 422.3 1420 421.9 1420.7 422.3 1421.4 422.8 1422.1 422 1422.8 421.5 1423.5 421.2 1424.2 422.1 1424.9 422.6 1425.6 422.8 1426.3 422.2 1427 422 1427.7 422.2 1428.4 422.1 1429.1 423 1429.8 422.7 1430.5 422.4 1431.2 422.7 1431.9 423 1432.6 423 1433.3 423.1 1434 422.9 1434.7 422.7 1435.4 422.6 1436.1 422.9 1436.8 422.6 1437.5 422.7 1438.2 422.1 1438.9 422.7 1439.6 422.3 1440.3 422.8 1441 423.4 1441.7 422.9 1442.4 423.4 1443.1 422.9 1443.8 422.8 1444.5 423.5 1445.2 422.9 1445.9 422.7 1446.6 422.7 1447.3 422.6 1447.8 423 L1447.8 438.3 1447.3 438.2 1446.6 438.4 1445.9 438 1445.2 438.6 1444.5 439.4 1443.8 438.4 1443.1 438.4 1442.4 439.3 1441.7 439.2 1441 439.1 1440.3 438.8 1439.6 438 1438.9 438.3 1438.2 438 1437.5 438.1 1436.8 437.9 1436.1 438.4 1435.4 438.3 1434.7 438.5 1434 438.9 1433.3 438.4 1432.6 438.7 1431.9 438.9 1431.2 438.4 1430.5 438.1 1429.8 438.8 1429.1 438.8 1428.4 438.2 1427.7 438 1427 437.6 1426.3 437.7 1425.6 438.3 1424.9 438.4 1424.2 437.8 1423.5 437.6 1422.8 437.3 1422.1 437.7 1421.4 438.6 1420.7 437.8 1420 437.5 1419.3 437.7 1418.6 436.8 1417.9 437.2 1417.2 436.7 1416.5 436.5 1415.8 436.8 1415.1 436.9 1414.4 436.9 1413.7 436.8 1413 436.9 1412.3 436.6 1411.6 437.1 1410.9 437.2 1410.2 436.6 1409.5 436.9 1408.8 437.4 1408.1 437.9 1407.4 438.4 1406.7 437.8 1406 437.8 1405.3 437.2 1404.6 437.8 1403.9 438 1403.2 437.8 1402.5 437.4 1401.8 437.7 1401.1 436.2 1400.4 436.4 1399.7 436.4 1399 436.3 1398.3 435.7 1397.6 435.3 1396.9 436.4 1396.2 436.6 1395.5 436.5 1394.8 437.2 1394.1 437.5 1393.4 437 1392.7 437.6 1392 437.7 1391.3 437.4 1390.6 437 1389.9 437.1 1389.2 437.2 1388.5 437.2 1387.8 437.3 1387.1 436.5 1386.4 437.3 1385.7 436.5 1385 436.7 1384.3 436.5 1383.6 437.2 1382.9 437.8 1382.2 437.1 1381.5 436.8 1380.8 437.1 1380.1 436.7 1379.4 437.1 1378.7 437.8 1378 438 1377.3 437.7 1376.6 437.8 1375.9 437.3 1375.2 437.8 1374.5 437.3 1373.8 436.9 1373.1 437 1372.4 437.1 1371.7 436.4 1371 436.8 1370.3 436.2 1369.6 436.3 1368.9 437.1 1368.2 436.8 1367.5 436 1366.8 436.6 1366.1 437.3 1365.4 437.4 1364.7 437.9 1364 437.7 1363.3 438.2 1362.6 439 1361.9 438.5 1361.2 438.8 1360.5 438.9 1359.8 438.6 1359.1 438.7 1358.4 438.9 1357.7 438.4 1357 438.7 1356.3 439.2 1355.6 439.4 1354.9 439.4 1354.2 439.6 1353.5 439.6 1352.8 439.1 1352.1 438.8 1351.4 438.6 1350.7 438.2 1350 438.1 1349.3 437.7 1348.6 437.6 1347.9 438 1347.2 437.9 1346.5 437.3 1345.8 437.4 1345.1 437.1 1344.4 437 1343.7 436.7 1343 437.3 1342.3 437.5 1341.6 437.8 1340.9 437.9 1340.2 438.3 1339.5 438.3 1338.8 438.8 1338.1 437.8 1337.4 437.8 1336.7 437.3 1336 436.9 1335.3 436.9 1334.6 436.9 1333.9 436.8 1333.2 435.9 1332.5 436.5 1331.8 436.8 1331.1 436.4 1330.4 435.6 1329.7 435.4 1329 436.2 1328.3 436.4 1327.6 436.1 1326.9 436.3 1326.2 436.3 1325.5 436.5 1324.8 436.8 1324.1 437.1 1323.4 437.3 1322.7 437.7 1322 437.4 1321.3 436.9 1320.6 437.3 1319.9 437.9 1319.2 437.9 1318.5 438.6 1317.8 438.8 1317.1 438.2 1316.4 438.6 1315.7 438.1 1315 438.4 1314.3 437.7 1313.6 438.1 1312.9 437.9 1312.2 437.7 1311.5 437.7 1310.8 437.3 1310.1 437.1 1309.4 436.8 1308.7 436.7 1308 436.7 1307.3 436.3 1306.6 436.7 1305.9 437.6 1305.2 437.5 1304.5 437.3 1303.8 437.4 1303.1 437.8 1302.4 438 1301.7 437.9 1301 438.4 1300.3 437.8 1299.6 437.8 1298.9 437.5 1298.2 437.8 1297.5 437.5 1296.8 437.2 1296.1 436.9 1295.4 437.4 1294.7 437.4 1294 437.6 1293.3 437.3 1292.6 436.9 1291.9 437.7 1291.2 437.6 1290.5 438 1289.8 438.1 1289.1 437.7 1288.4 438.4 1287.7 438.2 1287 437.8 1286.3 437.5 1285.6 437.9 1284.9 437.8 1284.2 437.8 1283.5 438.8 1282.8 438.6 1282.1 439.4 1281.4 439.1 1280.7 438.8 1280 438.6 1279.3 438 1278.6 439.4 1277.9 439.5 1277.2 439.7 1276.5 439.9 1275.8 439.5 1275.1 440 1274.4 439.4 1273.7 440.1 1273 439.5 1272.3 440.4 1271.6 440 1270.9 439.3 1270.2 439.1 1269.5 439.2 1268.8 439.1 1268.1 439.4 1267.4 439.8 1266.7 440.6 1266 440.5 1265.3 440.3 1264.6 439.8 1263.9 439.7 1263.2 439.2 1262.5 438.8 1261.8 438.4 1261.1 438.6 1260.4 438.4 1259.7 437.9 1259 437.7 1258.3 437.4 1257.6 437.5 1256.9 437.9 1256.2 438.2 1255.5 437.2 1254.8 437.6 1254.1 437.3 1253.4 437.9 1252.7 437.6 1252 437.4 1251.3 437.1 1250.6 437.2 1249.9 437.4 1249.2 437.6 1248.5 438.3 1247.8 438.5 1247.1 437.9 1246.4 437.8 1245.7 437.9 1245 437.5 1244.3 437.4 1243.6 437.7 1242.9 438.3 1242.2 439.2 1241.5 438.9 1240.8 438.3 1240.1 437.2 1239.4 437.4 1238.7 437.3 1238 437 1237.3 437.3 1236.6 437.2 1235.9 437.2 1235.2 437.3 1234.5 436.9 1233.8 437.5 1233.1 437.2 1232.4 437.4 1231.7 437.9 1231 438.1 1230.3 438.7 1229.6 438.3 1228.9 437.6 1228.2 438 1227.5 438 1226.8 438.2 1226.1 438.5 1225.4 438.2 1224.7 438.3 1224 438.7 1223.3 438.4 1222.6 438.6 1221.9 438.5 1221.2 438.6 1220.5 438.7 1219.8 438.5 1219.1 438.3 1218.4 437.7 1217.7 437.4 1217 437.8 1216.3 437.2 1215.6 437 1214.9 437.1 1214.2 437.1 1213.5 436.9 1212.8 437.3 1212.1 436.8 1211.4 437.3 1210.7 437.5 1210 437.1 1209.3 437.1 1208.6 437.2 1207.9 437.4 1207.2 437.3 1206.5 437.8 1205.8 437.8 1205.1 438.1 1204.4 437.5 1203.7 438.1 1203 438.9 1202.3 438.2 1201.6 438.2 1200.9 438.7 1200.2 438.5 1199.5 438.2 1198.8 438.2 1198.1 438.2 1197.4 437.5 1196.7 437.4 1196 436.8 1195.3 437.5 1194.6 437.2 1193.9 437.6 1193.2 437 1192.5 437.3 1191.8 437.3 1191.1 437.2 1190.4 438 1189.7 437.2 1189 436.6 1188.3 436.9 1187.6 436.9 1186.9 437 1186.2 438 1185.5 437.9 1184.8 438.4 1184.1 437.9 1183.4 437.7 1182.7 438.6 1182 438.7 1181.3 439.1 1180.6 438.9 1179.9 438.7 1179.2 438.3 1178.5 438.4 1177.8 438.3 1177.1 437.7 1176.4 438.6 1175.7 438 1175 438.4 1174.3 437.8 1173.6 437.7 1172.9 437.6 1172.2 437.7 1171.5 437.7 1170.8 437.3 1170.1 437.9 1169.4 438.3 1168.7 437.8 1168 437.2 1167.3 437.9 1166.6 438.2 1165.9 437.6 1165.2 437.5 1164.5 438.4 1163.8 438.6 1163.1 438.6 1162.4 437.8 1161.7 438.7 1161 439.1 1160.3 438.8 1159.6 438.3 1158.9 437.8 1158.2 438.3 1157.5 438 1156.8 438.1 1156.1 438 1155.4 438.1 1154.7 437.4 1154 436.6 1153.3 436.8 1152.6 437.7 1151.9 437.6 1151.2 438.2 1150.5 438.5 1149.8 438.2 1149.1 438.2 1148.4 438.4 1147.7 438.9 1147 438.3 1146.3 438.8 1145.6 439.1 1144.9 438.6 1144.2 438.7 1143.5 439.5 1142.8 439.1 1142.1 438.9 1141.4 438.5 1140.7 438.1 1140 437.5 1139.3 437.7 1138.6 437.8 1137.9 437.9 1137.2 438.2 1136.5 438.1 1135.8 438.9 1135.1 439.5 1134.4 438.7 1133.7 439.1 1133 438.7 1132.3 438.6 1131.6 438.6 1130.9 438.7 1130.2 438.8 1129.5 438.3 1128.8 438.7 1128.1 438.8 1127.4 438.5 1126.7 438.6 1126 439 1125.3 439.3 1124.6 439.7 1123.9 439.5 1123.2 439.5 1122.5 439.2 1121.8 439.3 1121.1 439.9 1120.4 439.2 1119.7 438.9 1119 439.3 1118.3 438.6 1117.6 438.1 1116.9 437.8 1116.2 437.7 1115.5 437.6 1114.8 437.5 1114.1 437.1 1113.4 437.2 1112.7 437.7 1112 437.8 1111.3 437.4 1110.6 437.9 1109.9 438.4 1109.2 438.8 1108.5 437.7 1107.8 438 1107.1 438.4 1106.4 438.7 1105.7 438.2 1105 437.8 1104.3 437.1 1103.6 436.7 1102.9 437 1102.2 437 1101.5 437.1 1100.8 437 1100.1 437.4 1099.4 437.3 1098.7 437.5 1098 437.4 1097.3 437.3 1096.6 437.1 1095.9 437.7 1095.2 437.6 1094.5 436.9 1093.8 437 1093.1 437.4 1092.4 437.3 1091.7 437.3 1091 438.2 1090.3 437.6 1089.6 437.4 1088.9 437.5 1088.2 437.8 1087.5 438.4 1086.8 438.4 1086.1 438.3 1085.4 438.1 1084.7 437.6 1084 437.7 1083.3 437.5 1082.6 437.7 1081.9 437.4 1081.2 437.7 1080.5 438.3 1079.8 438.4 1079.1 437.7 1078.4 436.9 1077.7 437.7 1077 437.9 1076.3 438.3 1075.6 438.1 1074.9 438.6 1074.2 438 1073.5 437.4 1072.8 437.2 1072.1 437.5 1071.4 437.2 1070.7 437.3 1070 438.1 1069.3 438.1 1068.6 437.9 1067.9 438.2 1067.2 437.8 1066.5 437.7 1065.8 438.3 1065.1 438 1064.4 438.8 1063.7 438.9 1063 438.6 1062.3 437.9 1061.6 437.1 1060.9 437.3 1060.2 437.3 1059.5 438.1 1058.8 438.3 1058.1 438.8 1057.4 439.2 1056.7 439.1 1056 438.7 1055.3 439 1054.6 439.3 1053.9 439.7 1053.2 439.4 1052.5 439.1 1051.8 439.3 1051.1 439.3 1050.4 439.4 1049.7 438.1 1049 438.4 1048.3 438.5 1047.6 439 1046.9 438.4 1046.2 438.2 1045.5 438.2 1044.8 438.2 1044.1 437.9 1043.4 439 1042.7 439 1042 439.6 1041.3 439.6 1040.6 439.5 1039.9 439.3 1039.2 439.8 1038.5 439.4 1037.8 438.7 1037.1 439.6 1036.4 438.5 1035.7 438.7 1035 439.1 1034.3 439.3 1033.6 439.8 1032.9 439.3 1032.2 439.6 1031.5 439.7 1030.8 440.5 1030.1 440.1 1029.4 440.1 1028.7 439.7 1028 438.4 1027.3 438.1 1026.6 438.2 1025.9 438.5 1025.2 438.2 1024.5 437.9 1023.8 437.3 1023.1 438 1022.4 437.8 1021.7 438 1021 437.9 1020.3 438 1019.6 437.7 1018.9 438.3 1018.2 438 1017.5 437.7 1016.8 437.9 1016.1 438.2 1015.4 437.7 1014.7 437.7 1014 436.9 1013.3 436.9 1012.6 437 1011.9 436.9 1011.2 437.5 1010.5 436.5 1009.8 436.5 1009.1 436.7 1008.4 436.7 1007.7 436.5 1007 436.5 1006.3 436.8 1005.6 437.4 1004.9 436.6 1004.2 437.2 1003.5 437.7 1002.8 437.3 1002.1 436.9 1001.4 436.6 1000.7 436.5 1000 436.9 999.3 437.2Z" fill="#0a0a0a"/>
<path d="M999.3 438.8 1000 419.4 1000.7 437.1 1001.4 420.8 1002.1 438.3 1002.8 418.2 1003.5 437.4 1004.2 420.8 1004.9 436.7 1005.6 420.1 1006.3 438.4 1007 418.3 1007.7 439.4 1008.4 419.5 1009.1 438.4 1009.8 420.3 1010.5 439.2 1011.2 421.2 1011.9 442 1012.6 420.5 1013.3 437.1 1014 420.5 1014.7 438 1015.4 419.5 1016.1 441.8 1016.8 421.9 1017.5 440.9 1018.2 419.6 1018.9 441 1019.6 419 1020.3 438.6 1021 422.5 1021.7 440.5 1022.4 418.2 1023.1 439.6 1023.8 421.8 1024.5 439 1025.2 421.5 1025.9 439.9 1026.6 419.7 1027.3 440.3 1028 422.5 1028.7 439.7 1029.4 421.9 1030.1 441.9 1030.8 423.3 1031.5 440.7 1032.2 422.8 1032.9 441.4 1033.6 423.9 1034.3 439.9 1035 423.6 1035.7 438.5 1036.4 420.4 1037.1 440 1037.8 422.4 1038.5 440.4 1039.2 424.1 1039.9 439.6 1040.6 421.1 1041.3 440.5 1042 423.6 1042.7 439.6 1043.4 422.6 1044.1 438.3 1044.8 421.5 1045.5 439.5 1046.2 418.4 1046.9 440.7 1047.6 422 1048.3 442.1 1049 420.3 1049.7 438.4 1050.4 423.4 1051.1 439.7 1051.8 422.3 1052.5 439.6 1053.2 422 1053.9 439.9 1054.6 423.3 1055.3 439.7 1056 421.3 1056.7 440.6 1057.4 421.8 1058.1 439.3 1058.8 421.1 1059.5 441 1060.2 419.8 1060.9 439.2 1061.6 420.1 1062.3 439.2 1063 422.6 1063.7 440 1064.4 419.8 1065.1 438.6 1065.8 421.9 1066.5 438.9 1067.2 421.3 1067.9 438.2 1068.6 421.8 1069.3 441.4 1070 421.8 1070.7 437.4 1071.4 420.3 1072.1 438.1 1072.8 419.2 1073.5 437.4 1074.2 419.7 1074.9 438.6 1075.6 418.2 1076.3 441.3 1077 421.6 1077.7 440 1078.4 420.6 1079.1 437.9 1079.8 420.3 1080.5 439.4 1081.2 420.8 1081.9 437.6 1082.6 420.9 1083.3 438 1084 419.2 1084.7 440.8 1085.4 421.7 1086.1 441 1086.8 420.8 1087.5 438.3 1088.2 422 1088.9 440.7 1089.6 419.9 1090.3 438.9 1091 421 1091.7 438.3 1092.4 419.3 1093.1 438 1093.8 421.5 1094.5 437.3 1095.2 419.1 1095.9 438.9 1096.6 420.5 1097.3 438.8 1098 420.8 1098.7 439.5 1099.4 420.2 1100.1 437.9 1100.8 420.4 1101.5 439.4 1102.2 421 1102.9 438.2 1103.6 420.8 1104.3 444 1105 421.7 1105.7 438.5 1106.4 422 1107.1 438.5 1107.8 418.6 1108.5 437.9 1109.2 422.2 1109.9 438.9 1110.6 420.2 1111.3 437.1 1112 417.6 1112.7 439.8 1113.4 419.7 1114.1 438 1114.8 418 1115.5 437.9 1116.2 421.9 1116.9 438.2 1117.6 422.4 1118.3 439.3 1119 423 1119.7 439.8 1120.4 423.9 1121.1 441.4 1121.8 422.7 1122.5 439.5 1123.2 420.7 1123.9 441.9 1124.6 422.6 1125.3 440.4 1126 420.5 1126.7 439.7 1127.4 422 1128.1 441.9 1128.8 422.9 1129.5 439.2 1130.2 419.1 1130.9 439.2 1131.6 421.4 1132.3 439.2 1133 419 1133.7 440.1 1134.4 422.6 1135.1 440.6 1135.8 422.6 1136.5 439.2 1137.2 418.8 1137.9 438.3 1138.6 421.9 1139.3 441.2 1140 421.4 1140.7 438.5 1141.4 420 1142.1 439.8 1142.8 421.4 1143.5 440.5 1144.2 418.8 1144.9 441 1145.6 422.2 1146.3 441.3 1147 420.3 1147.7 440.3 1148.4 421.1 1149.1 439.6 1149.8 419.9 1150.5 439.6 1151.2 421.5 1151.9 439 1152.6 420.4 1153.3 439 1154 419.7 1154.7 438.3 1155.4 420.8 1156.1 438.3 1156.8 422.1 1157.5 439.9 1158.2 422.5 1158.9 438.7 1159.6 421.4 1160.3 438.8 1161 422.9 1161.7 439.1 1162.4 419.4 1163.1 440.9 1163.8 420.2 1164.5 438.7 1165.2 421.3 1165.9 439.6 1166.6 421.9 1167.3 438.3 1168 420 1168.7 438.6 1169.4 422.1 1170.1 440.2 1170.8 419.3 1171.5 438.7 1172.2 420.9 1172.9 439.3 1173.6 417.8 1174.3 438.1 1175 421.3 1175.7 440.5 1176.4 420.9 1177.1 439.3 1177.8 420.7 1178.5 440.2 1179.2 419.1 1179.9 438.5 1180.6 423.3 1181.3 439.2 1182 422.5 1182.7 438.5 1183.4 420.2 1184.1 439.5 1184.8 422.7 1185.5 439.4 1186.2 420 1186.9 439.4 1187.6 417.7 1188.3 439 1189 420.4 1189.7 439.4 1190.4 422.3 1191.1 437.7 1191.8 420.3 1192.5 437.5 1193.2 419.2 1193.9 438.7 1194.6 420.1 1195.3 440.4 1196 420.5 1196.7 438.6 1197.4 420.6 1198.1 439 1198.8 420.5 1199.5 439.1 1200.2 421 1200.9 439.5 1201.6 422.5 1202.3 439.4 1203 422.6 1203.7 438.5 1204.4 421.8 1205.1 439.8 1205.8 421.1 1206.5 437.4 1207.2 420.4 1207.9 437.8 1208.6 418.2 1209.3 441.3 1210 421.5 1210.7 438.1 1211.4 421.3 1212.1 438.7 1212.8 420.9 1213.5 438 1214.2 420.1 1214.9 436.9 1215.6 421.4 1216.3 439 1217 420 1217.7 438.2 1218.4 420.4 1219.1 439.6 1219.8 419.3 1220.5 440 1221.2 422.6 1221.9 441.3 1222.6 422.2 1223.3 438.9 1224 421.7 1224.7 438.7 1225.4 421.5 1226.1 438.4 1226.8 422.7 1227.5 439 1228.2 421.7 1228.9 438.6 1229.6 422.6 1230.3 438.7 1231 416.1 1231.7 438.3 1232.4 419.9 1233.1 438.9 1233.8 419 1234.5 437.4 1235.2 420.3 1235.9 440.2 1236.6 421.6 1237.3 439.8 1238 420.6 1238.7 437.3 1239.4 422 1240.1 438.7 1240.8 421.1 1241.5 442.7 1242.2 423.1 1242.9 439.2 1243.6 421.2 1244.3 440 1245 417.3 1245.7 439.8 1246.4 420.8 1247.1 438.3 1247.8 421.8 1248.5 438.5 1249.2 421.4 1249.9 441.4 1250.6 421.2 1251.3 437.3 1252 421.3 1252.7 437.7 1253.4 422.2 1254.1 438 1254.8 420.3 1255.5 440.4 1256.2 422.4 1256.9 438.5 1257.6 421.3 1258.3 437 1259 422 1259.7 439.4 1260.4 423 1261.1 441.6 1261.8 420.9 1262.5 438.9 1263.2 423.7 1263.9 439.9 1264.6 422.5 1265.3 442.5 1266 423.3 1266.7 440.1 1267.4 424.2 1268.1 441.6 1268.8 421.8 1269.5 441.7 1270.2 421.2 1270.9 442.3 1271.6 422.7 1272.3 444.1 1273 420.6 1273.7 440.3 1274.4 422.9 1275.1 440.9 1275.8 422.9 1276.5 439.8 1277.2 423.7 1277.9 439.3 1278.6 421.6 1279.3 439.1 1280 423.1 1280.7 439.1 1281.4 419.4 1282.1 440.3 1282.8 422.5 1283.5 438.6 1284.2 420.6 1284.9 440 1285.6 419.9 1286.3 438.2 1287 420 1287.7 438.5 1288.4 423 1289.1 438.4 1289.8 421.2 1290.5 440 1291.2 420.3 1291.9 439 1292.6 420.4 1293.3 436.9 1294 421.3 1294.7 437.7 1295.4 420.8 1296.1 441.6 1296.8 421 1297.5 437.8 1298.2 421.3 1298.9 437.6 1299.6 420.9 1300.3 439.2 1301 420.5 1301.7 437.9 1302.4 422.2 1303.1 439.2 1303.8 416.9 1304.5 437.6 1305.2 420.2 1305.9 439.1 1306.6 421.1 1307.3 436.5 1308 421 1308.7 437.2 1309.4 417.5 1310.1 437.2 1310.8 421.3 1311.5 439.4 1312.2 420.3 1312.9 437.6 1313.6 421 1314.3 439.7 1315 422.2 1315.7 439.6 1316.4 422.6 1317.1 439.8 1317.8 420.7 1318.5 440.9 1319.2 420.8 1319.9 438.7 1320.6 421.7 1321.3 438.2 1322 418.4 1322.7 437.2 1323.4 418.6 1324.1 437.8 1324.8 420.5 1325.5 437.7 1326.2 419.9 1326.9 437.6 1327.6 419.8 1328.3 437.7 1329 417.5 1329.7 436.1 1330.4 419 1331.1 436.3 1331.8 420.7 1332.5 436.3 1333.2 418.9 1333.9 436.9 1334.6 419.4 1335.3 438.5 1336 420.9 1336.7 437.3 1337.4 422.1 1338.1 438.6 1338.8 420.8 1339.5 438.3 1340.2 421.6 1340.9 438.6 1341.6 421.3 1342.3 437.4 1343 419.9 1343.7 438.4 1344.4 420.3 1345.1 441.3 1345.8 421.5 1346.5 440.1 1347.2 422.2 1347.9 438.7 1348.6 417.8 1349.3 437.3 1350 421.4 1350.7 438.7 1351.4 422.3 1352.1 440.6 1352.8 421.9 1353.5 441.1 1354.2 422.5 1354.9 440 1355.6 422.6 1356.3 441 1357 423 1357.7 438.3 1358.4 423.1 1359.1 439.1 1359.8 421.4 1360.5 439.5 1361.2 421.2 1361.9 440.7 1362.6 422.5 1363.3 438.7 1364 421.9 1364.7 438.9 1365.4 422 1366.1 437.5 1366.8 418.2 1367.5 438.6 1368.2 420.6 1368.9 437.2 1369.6 418.6 1370.3 436.4 1371 419.3 1371.7 438.1 1372.4 419.4 1373.1 440.5 1373.8 421 1374.5 437.8 1375.2 420.2 1375.9 438.4 1376.6 421.9 1377.3 438.7 1378 420.6 1378.7 437.9 1379.4 418.7 1380.1 440.2 1380.8 419.9 1381.5 438.6 1382.2 421.7 1382.9 438.5 1383.6 419.9 1384.3 436.6 1385 420.2 1385.7 438.2 1386.4 418.6 1387.1 436.4 1387.8 421.3 1388.5 440.1 1389.2 420.5 1389.9 439.2 1390.6 421.3 1391.3 438.6 1392 421.3 1392.7 437.8 1393.4 418.9 1394.1 438.8 1394.8 421 1395.5 437.2 1396.2 417.9 1396.9 439.2 1397.6 417.2 1398.3 437.2 1399 420.1 1399.7 438.2 1400.4 420.3 1401.1 436.4 1401.8 420.2 1402.5 437.1 1403.2 421.5 1403.9 438.3 1404.6 417.9 1405.3 438.8 1406 419.1 1406.7 438.8 1407.4 420.2 1408.1 442 1408.8 421.3 1409.5 438.5 1410.2 421 1410.9 437.4 1411.6 421 1412.3 438.4 1413 419.7 1413.7 438.8 1414.4 420.6 1415.1 438.1 1415.8 418.7 1416.5 436.6 1417.2 418.9 1417.9 438.8 1418.6 419.9 1419.3 437.8 1420 421.6 1420.7 438 1421.4 420.5 1422.1 439 1422.8 421.1 1423.5 438.7 1424.2 422.1 1424.9 438.8 1425.6 422.5 1426.3 438.4 1427 421.9 1427.7 441.8 1428.4 422.1 1429.1 438.8 1429.8 422.1 1430.5 439.4 1431.2 422.7 1431.9 440.3 1432.6 422.3 1433.3 438.9 1434 422.3 1434.7 439 1435.4 418.8 1436.1 439.8 1436.8 420.7 1437.5 439.8 1438.2 421.9 1438.9 439.8 1439.6 417.4 1440.3 441.1 1441 421.4 1441.7 439.8 1442.4 421.1 1443.1 441.7 1443.8 421.9 1444.5 442.9 1445.2 421.6 1445.9 438.7 1446.6 418.8 1447.3 438.4 1447.8 422.8" fill="none" stroke="#0a0a0a" stroke-width="0.9" stroke-linejoin="bevel"/>
<path d="M493.3 419.6L496.8 415.1L497.7 419.6ZM495.7 435.4L496.9 441.7L500.1 435.4ZM499.3 419.4L502.8 414L503.7 419.4ZM501.7 436.2L502.9 441.4L506.1 436.2ZM506.3 420.1L509.8 415.6L510.7 420.1ZM508.7 435.6L509.9 441.3L513.1 435.6ZM512.3 420L515.8 414.1L516.7 420ZM514.7 436.5L515.9 440.3L519.1 436.5ZM518.3 420.3L521.8 415.9L522.7 420.3ZM520.7 435.9L521.9 440L525.1 435.9ZM528.3 419.5L531.8 415.9L532.7 419.5ZM530.7 435.1L531.9 439L535.1 435.1ZM533.3 420L536.8 415.5L537.7 420ZM535.7 436.7L536.9 442.7L540.1 436.7ZM539.3 421L542.8 416.5L543.7 421ZM541.7 436.5L542.9 440.9L546.1 436.5ZM545.3 420.8L548.8 416.5L549.7 420.8ZM547.7 435.2L548.9 439.6L552.1 435.2ZM551.3 420.1L554.8 416.4L555.7 420.1ZM553.7 437L554.9 440.8L558.1 437ZM556.3 421L559.8 417.4L560.7 421ZM558.7 435.1L559.9 439.1L563.1 435.1ZM563.3 420.2L566.8 414.8L567.7 420.2ZM565.7 436.6L566.9 441.7L570.1 436.6ZM568.3 420.8L571.8 417.2L572.7 420.8ZM570.7 436.4L571.9 441.4L575.1 436.4ZM575.3 420.3L578.8 415.8L579.7 420.3ZM577.7 436L578.9 442.3L582.1 436ZM581.3 419L584.8 414.9L585.7 419ZM583.7 435.2L584.9 440.2L588.1 435.2ZM586.3 419.6L589.8 413.7L590.7 419.6ZM588.7 435.8L589.9 442.1L593.1 435.8ZM593.3 420.1L596.8 416.3L597.7 420.1ZM595.7 435.1L596.9 441.5L600.1 435.1ZM598.3 419.8L601.8 414.2L602.7 419.8ZM600.7 435.5L601.9 439.7L605.1 435.5ZM605.3 419.5L608.8 415.1L609.7 419.5ZM607.7 435.5L608.9 439.1L612.1 435.5ZM612.3 420.2L615.8 415.8L616.7 420.2ZM614.7 436.9L615.9 443.2L619.1 436.9ZM618.3 419L621.8 413.6L622.7 419ZM620.7 435.3L621.9 441.3L625.1 435.3ZM623.3 420.2L626.8 414.4L627.7 420.2ZM625.7 436.9L626.9 441.3L630.1 436.9ZM630.3 419.1L633.8 413.6L634.7 419.1ZM632.7 436.8L633.9 441.8L637.1 436.8ZM636.3 419.9L639.8 415.2L640.7 419.9ZM638.7 435.6L639.9 441.8L643.1 435.6ZM641.3 420.5L644.8 416.4L645.7 420.5ZM643.7 436.5L644.9 442L648.1 436.5ZM647.3 419.1L650.8 414.5L651.7 419.1ZM649.7 435.2L650.9 440.5L654.1 435.2ZM656.3 419.6L659.8 415.2L660.7 419.6ZM658.7 436.1L659.9 442.2L663.1 436.1ZM662.3 420.8L665.8 416.5L666.7 420.8ZM664.7 435.1L665.9 439.7L669.1 435.1ZM671.3 420.7L674.8 416.7L675.7 420.7ZM673.7 436.7L674.9 440.4L678.1 436.7ZM677.3 420.6L680.8 415.2L681.7 420.6ZM679.7 436.6L680.9 442.5L684.1 436.6ZM682.3 420.7L685.8 417.1L686.7 420.7ZM684.7 436.8L685.9 442L689.1 436.8ZM688.3 419.4L691.8 415.5L692.7 419.4ZM690.7 436.2L691.9 440L695.1 436.2ZM694.3 419.9L697.8 415.6L698.7 419.9ZM696.7 435.3L697.9 438.8L701.1 435.3ZM700.3 420.9L703.8 416.8L704.7 420.9ZM702.7 435.6L703.9 441.9L707.1 435.6ZM706.3 420.3L709.8 415.4L710.7 420.3ZM708.7 435.2L709.9 439.9L713.1 435.2ZM713.3 419.6L716.8 415.1L717.7 419.6ZM715.7 435.1L716.9 440.8L720.1 435.1ZM718.3 420.4L721.8 416.3L722.7 420.4ZM720.7 435.4L721.9 441.3L725.1 435.4ZM724.3 420.7L727.8 414.8L728.7 420.7ZM726.7 435.8L727.9 441.2L731.1 435.8ZM730.3 419.1L733.8 414.3L734.7 419.1ZM732.7 436.8L733.9 441.4L737.1 436.8ZM736.3 419.3L739.8 414.8L740.7 419.3ZM738.7 435.4L739.9 439.1L743.1 435.4ZM742.3 420.8L745.8 415.3L746.7 420.8ZM744.7 436.2L745.9 440.2L749.1 436.2ZM747.3 420.7L750.8 416L751.7 420.7ZM749.7 436.3L750.9 439.8L754.1 436.3ZM754.3 419.1L757.8 414.2L758.7 419.1ZM756.7 436.3L757.9 439.8L761.1 436.3ZM759.3 420.4L762.8 416.8L763.7 420.4ZM761.7 436.7L762.9 441.3L766.1 436.7ZM765.3 419.3L768.8 415.1L769.7 419.3ZM767.7 436.5L768.9 441.2L772.1 436.5ZM771.3 420.1L774.8 416.2L775.7 420.1ZM773.7 435L774.9 441L778.1 435ZM777.3 419.5L780.8 415.1L781.7 419.5ZM779.7 436.5L780.9 440.1L784.1 436.5ZM786.3 419.7L789.8 415L790.7 419.7ZM788.7 436.2L789.9 441.2L793.1 436.2ZM793.3 419.6L796.8 415.6L797.7 419.6ZM795.7 435.4L796.9 440.8L800.1 435.4ZM799.3 420.7L802.8 416.4L803.7 420.7ZM801.7 435.5L802.9 439.4L806.1 435.5ZM805.3 420.1L808.8 415.9L809.7 420.1ZM807.7 436.8L808.9 442.9L812.1 436.8ZM810.3 419.8L813.8 414.4L814.7 419.8ZM812.7 435.3L813.9 439.1L817.1 435.3ZM816.3 420.1L819.8 414.3L820.7 420.1ZM818.7 436.2L819.9 441L823.1 436.2ZM823.3 419.9L826.8 414.9L827.7 419.9ZM825.7 436.4L826.9 440L830.1 436.4ZM829.3 420.5L832.8 415.1L833.7 420.5ZM831.7 435.1L832.9 439.4L836.1 435.1ZM835.3 419.3L838.8 414.4L839.7 419.3ZM837.7 436.7L838.9 441.1L842.1 436.7ZM840.3 420.5L843.8 416.3L844.7 420.5ZM842.7 436.6L843.9 440.7L847.1 436.6ZM850.3 420.8L853.8 417L854.7 420.8ZM852.7 435.5L853.9 441.6L857.1 435.5ZM855.3 419.5L858.8 413.8L859.7 419.5ZM857.7 435.7L858.9 439.5L862.1 435.7ZM860.3 421L863.8 415.3L864.7 421ZM862.7 436.3L863.9 440.1L867.1 436.3ZM866.3 420.8L869.8 416.3L870.7 420.8ZM868.7 435.7L869.9 441.1L873.1 435.7ZM872.3 419.4L875.8 414.6L876.7 419.4ZM874.7 436.7L875.9 441.7L879.1 436.7ZM878.3 419.2L881.8 415L882.7 419.2ZM880.7 435.6L881.9 442L885.1 435.6ZM884.3 420.2L887.8 415.7L888.7 420.2ZM886.7 436.9L887.9 443L891.1 436.9ZM889.3 420.9L892.8 415L893.7 420.9ZM891.7 436.2L892.9 440.6L896.1 436.2ZM895.3 419.6L898.8 413.9L899.7 419.6ZM897.7 436.3L898.9 439.8L902.1 436.3ZM903.3 419.2L906.8 415.4L907.7 419.2ZM905.7 436.3L906.9 442.8L910.1 436.3ZM910.3 419.5L913.8 415.8L914.7 419.5ZM912.7 435L913.9 438.5L917.1 435ZM916.3 419.8L919.8 414.8L920.7 419.8ZM918.7 436.4L919.9 439.9L923.1 436.4ZM922.3 420.7L925.8 417L926.7 420.7ZM924.7 435.6L925.9 439.8L929.1 435.6ZM928.3 420L931.8 416.4L932.7 420ZM930.7 435.7L931.9 440.4L935.1 435.7Z" fill="#0a0a0a" stroke="#0a0a0a" stroke-width="0.4"/>
<path d="M496.5 428V402.2M502.5 428V403.9M509.5 428V404.3M515.5 428V403.6M521.5 428V401M531.5 428V405.4M536.5 428V400.5M542.5 428V399.8M548.5 428V405.8M554.5 428V399.7M559.5 428V405.7M566.5 428V400.7M571.5 428V401.3M578.5 428V403.2M584.5 428V405.6M589.5 428V402.5M596.5 428V405.2M601.5 428V404.9M608.5 428V398.5M615.5 428V404.7M621.5 428V399.4M626.5 428V402.8M633.5 428V400.6M639.5 428V404.4M644.5 428V401.1M650.5 428V399M659.5 428V399M665.5 428V404.3M674.5 428V400.9M680.5 428V398.3M685.5 428V404.8M691.5 428V401.9M697.5 428V405.2M703.5 428V398.3M709.5 428V405.4M716.5 428V403.2M721.5 428V405.9M727.5 428V402.1M733.5 428V402.7M739.5 428V401.1M745.5 428V405.2M750.5 428V398.2M757.5 428V398.3M762.5 428V401.8M768.5 428V401M774.5 428V399.2M780.5 428V405.1M789.5 428V398.9M796.5 428V399.1M802.5 428V399.4M808.5 428V403.4M813.5 428V403.5M819.5 428V403.7M826.5 428V401.3M832.5 428V401.5M838.5 428V404.4M843.5 428V404.7M853.5 428V403.8M858.5 428V402.6M863.5 428V401.9M869.5 428V404.2M875.5 428V401.4M881.5 428V401.4M887.5 428V398.2M892.5 428V402.1M898.5 428V400.5M906.5 428V399.5M913.5 428V405.4M919.5 428V403.7M925.5 428V399.4M931.5 428V399.1" fill="none" stroke="#161616" stroke-width="1.55"/>
<path d="M496.5 428V495.2M502.5 428V492.2M509.5 428V496.4M515.5 428V499.5M521.5 428V485.8M531.5 428V490.4M536.5 428V494.8M542.5 428V493M548.5 428V491.7M554.5 428V494M559.5 428V497.6M566.5 428V498.4M571.5 428V499.1M578.5 428V495.4M584.5 428V492.1M589.5 428V495.7M596.5 428V482.2M601.5 428V490.8M608.5 428V490.5M615.5 428V497.9M621.5 428V497M626.5 428V495.1M633.5 428V493.6M639.5 428V488.3M644.5 428V496.5M650.5 428V489.9M659.5 428V489.3M665.5 428V494.1M674.5 428V496.8M680.5 428V493.8M685.5 428V485.3M691.5 428V498M697.5 428V498.7M703.5 428V492M709.5 428V492.3M716.5 428V497.7M721.5 428V492.8M727.5 428V496.3M733.5 428V487.5M739.5 428V494M745.5 428V495.6M750.5 428V494.6M757.5 428V495.3M762.5 428V494M768.5 428V496.5M774.5 428V486.4M780.5 428V490.3M789.5 428V493.2M796.5 428V491.4M802.5 428V492.6M808.5 428V493.1M813.5 428V489.2M819.5 428V496.3M826.5 428V491.3M832.5 428V492.4M838.5 428V497.1M843.5 428V497M853.5 428V492.6M858.5 428V489.5M863.5 428V488M869.5 428V489.6M875.5 428V490.2M881.5 428V490.6M887.5 428V492.3M892.5 428V493.7M898.5 428V492.3M906.5 428V494.5M913.5 428V498.6M919.5 428V486.2M925.5 428V492.7M931.5 428V492.5" fill="none" stroke="#3c3c3c" stroke-width="1.4"/>
<path d="M999.3 420.9L1002.8 417.4L1003.7 420.9ZM1001.7 438.1L1002.9 442.2L1006.1 438.1ZM1003.3 420.7L1006.8 416.7L1007.7 420.7ZM1005.7 436.6L1006.9 440.4L1010.1 436.6ZM1007.3 421L1010.8 417L1011.7 421ZM1009.7 437.3L1010.9 443L1014.1 437.3ZM1011.3 420.8L1014.8 416.1L1015.7 420.8ZM1013.7 437.3L1014.9 440.9L1018.1 437.3ZM1015.3 420.6L1018.8 415.6L1019.7 420.6ZM1017.7 437.6L1018.9 442.4L1022.1 437.6ZM1019.3 420.6L1022.8 416.7L1023.7 420.6ZM1021.7 437.9L1022.9 442.2L1026.1 437.9ZM1024.3 421.7L1027.8 415.9L1028.7 421.7ZM1026.7 437.6L1027.9 443.7L1031.1 437.6ZM1028.3 421L1031.8 417.4L1032.7 421ZM1030.7 437.6L1031.9 443.9L1035.1 437.6ZM1032.3 422.2L1035.8 417.4L1036.7 422.2ZM1034.7 438.2L1035.9 443.7L1039.1 438.2ZM1036.3 420.9L1039.8 415.7L1040.7 420.9ZM1038.7 438.4L1039.9 442.3L1043.1 438.4ZM1041.3 422.3L1044.8 418.2L1045.7 422.3ZM1043.7 436.9L1044.9 440.6L1048.1 436.9ZM1045.3 420.8L1048.8 416.8L1049.7 420.8ZM1047.7 437L1048.9 441.8L1052.1 437ZM1049.3 420.7L1052.8 415.9L1053.7 420.7ZM1051.7 437.5L1052.9 442.5L1056.1 437.5ZM1053.3 421.4L1056.8 417.7L1057.7 421.4ZM1055.7 437.2L1056.9 441.1L1060.1 437.2ZM1057.3 422.5L1060.8 416.9L1061.7 422.5ZM1059.7 437.2L1060.9 442.3L1064.1 437.2ZM1061.3 421.8L1064.8 418.2L1065.7 421.8ZM1063.7 437.9L1064.9 442.5L1068.1 437.9ZM1065.3 422.4L1068.8 416.5L1069.7 422.4ZM1067.7 437.6L1068.9 443.5L1072.1 437.6ZM1069.3 422.5L1072.8 417.3L1073.7 422.5ZM1071.7 438.2L1072.9 442.1L1076.1 438.2ZM1074.3 420.6L1077.8 416L1078.7 420.6ZM1076.7 437.3L1077.9 443.7L1081.1 437.3ZM1078.3 422.2L1081.8 417.6L1082.7 422.2ZM1080.7 438.3L1081.9 443.2L1085.1 438.3ZM1083.3 420.9L1086.8 417L1087.7 420.9ZM1085.7 438.4L1086.9 444.1L1090.1 438.4ZM1087.3 421.6L1090.8 416.7L1091.7 421.6ZM1089.7 436.7L1090.9 440.5L1094.1 436.7ZM1092.3 420.8L1095.8 414.9L1096.7 420.8ZM1094.7 437.8L1095.9 443.4L1099.1 437.8ZM1097.3 420.8L1100.8 415L1101.7 420.8ZM1099.7 438L1100.9 442.1L1104.1 438ZM1101.3 422.1L1104.8 417.1L1105.7 422.1ZM1103.7 436.6L1104.9 441.7L1108.1 436.6ZM1105.3 422.3L1108.8 416.9L1109.7 422.3ZM1107.7 437.5L1108.9 441.6L1112.1 437.5ZM1109.3 421.1L1112.8 417.1L1113.7 421.1ZM1111.7 437.3L1112.9 443.3L1116.1 437.3ZM1114.3 421.1L1117.8 416.8L1118.7 421.1ZM1116.7 437.3L1117.9 441.8L1121.1 437.3ZM1121.3 421.8L1124.8 417.4L1125.7 421.8ZM1123.7 438L1124.9 443.6L1128.1 438ZM1125.3 421.5L1128.8 417.4L1129.7 421.5ZM1127.7 438L1128.9 443.5L1132.1 438ZM1129.3 421.1L1132.8 416.5L1133.7 421.1ZM1131.7 438.1L1132.9 442.6L1136.1 438.1ZM1133.3 422L1136.8 416.4L1137.7 422ZM1135.7 437.8L1136.9 441.4L1140.1 437.8ZM1137.3 421.4L1140.8 416.2L1141.7 421.4ZM1139.7 436.8L1140.9 442.7L1144.1 436.8ZM1141.3 422L1144.8 417.5L1145.7 422ZM1143.7 437.1L1144.9 441.8L1148.1 437.1ZM1146.3 422.2L1149.8 418.6L1150.7 422.2ZM1148.7 437.6L1149.9 444L1153.1 437.6ZM1150.3 422.4L1153.8 418.5L1154.7 422.4ZM1152.7 436.9L1153.9 441.3L1157.1 436.9ZM1155.3 421.6L1158.8 416.9L1159.7 421.6ZM1157.7 437.6L1158.9 443.7L1162.1 437.6ZM1159.3 420.9L1162.8 415.3L1163.7 420.9ZM1161.7 436.6L1162.9 440.2L1166.1 436.6ZM1163.3 422L1166.8 416.3L1167.7 422ZM1165.7 437.3L1166.9 442.7L1170.1 437.3ZM1168.3 421.6L1171.8 415.7L1172.7 421.6ZM1170.7 438L1171.9 442.9L1175.1 438ZM1172.3 420.9L1175.8 417.3L1176.7 420.9ZM1174.7 436.7L1175.9 442.4L1179.1 436.7ZM1176.3 420.5L1179.8 416.3L1180.7 420.5ZM1178.7 437.1L1179.9 441.7L1183.1 437.1ZM1180.3 421.7L1183.8 418.1L1184.7 421.7ZM1182.7 437.8L1183.9 441.6L1187.1 437.8ZM1184.3 421.6L1187.8 417.7L1188.7 421.6ZM1186.7 438.4L1187.9 443.4L1191.1 438.4ZM1188.3 421.7L1191.8 417.3L1192.7 421.7ZM1190.7 437L1191.9 441L1195.1 437ZM1192.3 422.4L1195.8 417.9L1196.7 422.4ZM1194.7 438.4L1195.9 444.1L1199.1 438.4ZM1197.3 420.5L1200.8 415.1L1201.7 420.5ZM1199.7 438.2L1200.9 442L1204.1 438.2ZM1201.3 421.6L1204.8 415.7L1205.7 421.6ZM1203.7 436.6L1204.9 442.7L1208.1 436.6ZM1205.3 421.4L1208.8 415.7L1209.7 421.4ZM1207.7 438.4L1208.9 444.1L1212.1 438.4ZM1209.3 421.2L1212.8 417.1L1213.7 421.2ZM1211.7 437.8L1212.9 443.6L1216.1 437.8ZM1213.3 420.6L1216.8 416.1L1217.7 420.6ZM1215.7 437.1L1216.9 441.2L1220.1 437.1ZM1217.3 421.7L1220.8 417.7L1221.7 421.7ZM1219.7 436.7L1220.9 441.2L1224.1 436.7ZM1222.3 421.9L1225.8 416.9L1226.7 421.9ZM1224.7 438.2L1225.9 443L1229.1 438.2ZM1226.3 421.4L1229.8 416.8L1230.7 421.4ZM1228.7 438.1L1229.9 443.3L1233.1 438.1ZM1230.3 421.8L1233.8 417.8L1234.7 421.8ZM1232.7 437L1233.9 443.2L1237.1 437ZM1235.3 421.4L1238.8 417.4L1239.7 421.4ZM1237.7 437.7L1238.9 442.9L1242.1 437.7ZM1240.3 421.9L1243.8 417.2L1244.7 421.9ZM1242.7 437.7L1243.9 443.8L1247.1 437.7ZM1245.3 421.1L1248.8 416.9L1249.7 421.1ZM1247.7 438.2L1248.9 442.4L1252.1 438.2ZM1251.3 421.3L1254.8 415.5L1255.7 421.3ZM1253.7 437.8L1254.9 443.2L1258.1 437.8ZM1255.3 421.1L1258.8 417.1L1259.7 421.1ZM1257.7 436.7L1258.9 443L1262.1 436.7ZM1260.3 421.9L1263.8 416L1264.7 421.9ZM1262.7 437.6L1263.9 441.8L1267.1 437.6ZM1264.3 421L1267.8 416L1268.7 421ZM1266.7 438L1267.9 444.2L1271.1 438ZM1268.3 421.2L1271.8 417.4L1272.7 421.2ZM1270.7 438.3L1271.9 441.9L1275.1 438.3ZM1273.3 422.4L1276.8 416.5L1277.7 422.4ZM1275.7 437.2L1276.9 441.2L1280.1 437.2ZM1277.3 422.3L1280.8 416.7L1281.7 422.3ZM1279.7 436.5L1280.9 441.6L1284.1 436.5ZM1281.3 422.1L1284.8 418.5L1285.7 422.1ZM1283.7 437.7L1284.9 442.1L1288.1 437.7ZM1285.3 421.3L1288.8 416.1L1289.7 421.3ZM1287.7 437.4L1288.9 442.5L1292.1 437.4ZM1290.3 420.7L1293.8 415.7L1294.7 420.7ZM1292.7 437.6L1293.9 442.6L1297.1 437.6ZM1293.3 422.1L1296.8 416.4L1297.7 422.1ZM1295.7 438L1296.9 442.4L1300.1 438ZM1297.3 421.1L1300.8 415.4L1301.7 421.1ZM1299.7 436.9L1300.9 442.1L1304.1 436.9ZM1301.3 422.4L1304.8 416.5L1305.7 422.4ZM1303.7 437.1L1304.9 441.2L1308.1 437.1ZM1305.3 421.8L1308.8 416.4L1309.7 421.8ZM1307.7 436.8L1308.9 442.9L1312.1 436.8ZM1309.3 422.1L1312.8 416.8L1313.7 422.1ZM1311.7 437.2L1312.9 442.2L1316.1 437.2ZM1314.3 421L1317.8 415L1318.7 421ZM1316.7 438.2L1317.9 443.9L1321.1 438.2ZM1318.3 421.3L1321.8 416.4L1322.7 421.3ZM1320.7 438.2L1321.9 441.9L1325.1 438.2ZM1322.3 422.4L1325.8 416.4L1326.7 422.4ZM1324.7 436.7L1325.9 442.7L1329.1 436.7ZM1330.3 420.7L1333.8 415.9L1334.7 420.7ZM1332.7 437.5L1333.9 442.4L1337.1 437.5ZM1335.3 420.6L1338.8 416.7L1339.7 420.6ZM1337.7 438.2L1338.9 444.2L1342.1 438.2ZM1339.3 422.2L1342.8 416.4L1343.7 422.2ZM1341.7 437.9L1342.9 442.5L1346.1 437.9ZM1343.3 421.5L1346.8 416.2L1347.7 421.5ZM1345.7 437.6L1346.9 441.6L1350.1 437.6ZM1348.3 421.4L1351.8 417.5L1352.7 421.4ZM1350.7 437.8L1351.9 443.7L1355.1 437.8ZM1352.3 420.7L1355.8 416.3L1356.7 420.7ZM1354.7 438.5L1355.9 442.8L1359.1 438.5ZM1357.3 421.2L1360.8 416.4L1361.7 421.2ZM1359.7 437.2L1360.9 440.8L1364.1 437.2ZM1360.3 421.1L1363.8 416.7L1364.7 421.1ZM1362.7 436.6L1363.9 442.6L1367.1 436.6ZM1365.3 421.3L1368.8 416.2L1369.7 421.3ZM1367.7 437.4L1368.9 443.3L1372.1 437.4ZM1368.3 420.9L1371.8 415.9L1372.7 420.9ZM1370.7 438.4L1371.9 443.6L1375.1 438.4ZM1372.3 421.8L1375.8 416.1L1376.7 421.8ZM1374.7 438L1375.9 443.4L1379.1 438ZM1376.3 422.4L1379.8 417L1380.7 422.4ZM1378.7 438.2L1379.9 444.4L1383.1 438.2ZM1380.3 422.1L1383.8 417.4L1384.7 422.1ZM1382.7 438.1L1383.9 444.5L1387.1 438.1ZM1384.3 422.3L1387.8 418.1L1388.7 422.3ZM1386.7 437.8L1387.9 443.6L1391.1 437.8ZM1388.3 420.7L1391.8 415.8L1392.7 420.7ZM1390.7 438.1L1391.9 441.7L1395.1 438.1ZM1392.3 420.7L1395.8 416.6L1396.7 420.7ZM1394.7 436.7L1395.9 440.2L1399.1 436.7ZM1396.3 422.5L1399.8 417.6L1400.7 422.5ZM1398.7 437.2L1399.9 442.6L1403.1 437.2ZM1400.3 422.4L1403.8 417.3L1404.7 422.4ZM1402.7 437.3L1403.9 443L1407.1 437.3ZM1404.3 422.3L1407.8 417.1L1408.7 422.3ZM1406.7 437.5L1407.9 442.6L1411.1 437.5ZM1408.3 422.4L1411.8 416.9L1412.7 422.4ZM1410.7 436.7L1411.9 440.3L1415.1 436.7ZM1412.3 422.2L1415.8 417.5L1416.7 422.2ZM1414.7 437L1415.9 443.3L1419.1 437ZM1416.3 421.1L1419.8 417.5L1420.7 421.1ZM1418.7 436.6L1419.9 442.3L1423.1 436.6ZM1420.3 422.5L1423.8 417.2L1424.7 422.5ZM1422.7 437L1423.9 441.6L1427.1 437ZM1424.3 420.5L1427.8 416.3L1428.7 420.5ZM1426.7 436.9L1427.9 440.7L1431.1 436.9ZM1428.3 420.8L1431.8 416.4L1432.7 420.8ZM1430.7 437.2L1431.9 442.3L1435.1 437.2ZM1435.3 421.4L1438.8 416.9L1439.7 421.4ZM1437.7 437.2L1438.9 442.3L1442.1 437.2ZM1439.3 421.5L1442.8 416L1443.7 421.5ZM1441.7 438L1442.9 442.8L1446.1 438Z" fill="#0a0a0a" stroke="#0a0a0a" stroke-width="0.4"/>
<path d="M1002.5 429.5V400.5M1006.5 429.5V407.6M1010.5 429.5V410M1014.5 429.5V404.6M1018.5 429.5V407M1022.5 429.5V402.8M1027.5 429.5V404.4M1031.5 429.5V402.2M1035.5 429.5V404.8M1039.5 429.5V404.3M1044.5 429.5V400.8M1048.5 429.5V402.7M1052.5 429.5V405.8M1056.5 429.5V403.6M1060.5 429.5V406.5M1064.5 429.5V405.1M1068.5 429.5V401.7M1072.5 429.5V403M1077.5 429.5V406.4M1081.5 429.5V404.6M1086.5 429.5V408.1M1090.5 429.5V402.9M1095.5 429.5V402.8M1100.5 429.5V407.9M1104.5 429.5V407M1108.5 429.5V408M1112.5 429.5V410M1117.5 429.5V404.4M1124.5 429.5V403.7M1128.5 429.5V408.2M1132.5 429.5V408.8M1136.5 429.5V401.8M1140.5 429.5V403.3M1144.5 429.5V404.8M1149.5 429.5V407.7M1153.5 429.5V403.7M1158.5 429.5V409.5M1162.5 429.5V405M1166.5 429.5V404.3M1171.5 429.5V400.7M1175.5 429.5V404M1179.5 429.5V406.1M1183.5 429.5V403.5M1187.5 429.5V401.9M1191.5 429.5V401.6M1195.5 429.5V409.1M1200.5 429.5V407M1204.5 429.5V403.8M1208.5 429.5V402.5M1212.5 429.5V408.7M1216.5 429.5V404.5M1220.5 429.5V401M1225.5 429.5V409.1M1229.5 429.5V408.8M1233.5 429.5V410M1238.5 429.5V402.8M1243.5 429.5V403.3M1248.5 429.5V401.9M1254.5 429.5V408M1258.5 429.5V406.3M1263.5 429.5V406.8M1267.5 429.5V404M1271.5 429.5V409.5M1276.5 429.5V407.1M1280.5 429.5V408M1284.5 429.5V409.1M1288.5 429.5V402.6M1293.5 429.5V404.8M1296.5 429.5V406.7M1300.5 429.5V406.9M1304.5 429.5V400.8M1308.5 429.5V407M1312.5 429.5V400.8M1317.5 429.5V402M1321.5 429.5V405.9M1325.5 429.5V406.4M1333.5 429.5V407.6M1338.5 429.5V405.1M1342.5 429.5V403.8M1346.5 429.5V405.7M1351.5 429.5V401.6M1355.5 429.5V403.6M1360.5 429.5V401.6M1363.5 429.5V409.4M1368.5 429.5V405M1371.5 429.5V409.4M1375.5 429.5V403.1M1379.5 429.5V402.6M1383.5 429.5V408.6M1387.5 429.5V407.9M1391.5 429.5V404.9M1395.5 429.5V404.7M1399.5 429.5V407.7M1403.5 429.5V404.4M1407.5 429.5V409.4M1411.5 429.5V408M1415.5 429.5V408.2M1419.5 429.5V403.3M1423.5 429.5V402.5M1427.5 429.5V401.6M1431.5 429.5V404.3M1438.5 429.5V407.3M1442.5 429.5V403.3" fill="none" stroke="#161616" stroke-width="1.55"/>
<path d="M1002.5 429.5V494.3M1006.5 429.5V483.4M1010.5 429.5V496.7M1014.5 429.5V486M1018.5 429.5V496.1M1022.5 429.5V488.1M1027.5 429.5V493.4M1031.5 429.5V489.3M1035.5 429.5V485.3M1039.5 429.5V493.7M1044.5 429.5V481.7M1048.5 429.5V493M1052.5 429.5V495.7M1056.5 429.5V491.2M1060.5 429.5V488.4M1064.5 429.5V492.5M1068.5 429.5V492.1M1072.5 429.5V479.7M1077.5 429.5V486M1081.5 429.5V485.3M1086.5 429.5V493.8M1090.5 429.5V485M1095.5 429.5V492.1M1100.5 429.5V477.7M1104.5 429.5V488.7M1108.5 429.5V486.9M1112.5 429.5V496.2M1117.5 429.5V483.3M1124.5 429.5V490.8M1128.5 429.5V484.5M1132.5 429.5V494.4M1136.5 429.5V495.1M1140.5 429.5V488.8M1144.5 429.5V495.2M1149.5 429.5V492.7M1153.5 429.5V483.5M1158.5 429.5V492.4M1162.5 429.5V494M1166.5 429.5V492.3M1171.5 429.5V495.1M1175.5 429.5V484.6M1179.5 429.5V492.6M1183.5 429.5V484.8M1187.5 429.5V483M1191.5 429.5V491.8M1195.5 429.5V487.3M1200.5 429.5V483.8M1204.5 429.5V483.5M1208.5 429.5V496.9M1212.5 429.5V490.4M1216.5 429.5V491.9M1220.5 429.5V483.2M1225.5 429.5V486.1M1229.5 429.5V484.2M1233.5 429.5V494.4M1238.5 429.5V496.6M1243.5 429.5V491.8M1248.5 429.5V485.7M1254.5 429.5V491.9M1258.5 429.5V494.8M1263.5 429.5V486.5M1267.5 429.5V488.9M1271.5 429.5V483M1276.5 429.5V484.4M1280.5 429.5V491.3M1284.5 429.5V489.7M1288.5 429.5V483.9M1293.5 429.5V496.7M1296.5 429.5V491.7M1300.5 429.5V486.2M1304.5 429.5V494.2M1308.5 429.5V485.5M1312.5 429.5V491.2M1317.5 429.5V485.7M1321.5 429.5V484.3M1325.5 429.5V496M1333.5 429.5V487.1M1338.5 429.5V495M1342.5 429.5V485.3M1346.5 429.5V487.9M1351.5 429.5V487.2M1355.5 429.5V487.5M1360.5 429.5V488.7M1363.5 429.5V488.7M1368.5 429.5V485.4M1371.5 429.5V493.6M1375.5 429.5V495.8M1379.5 429.5V494.6M1383.5 429.5V494.8M1387.5 429.5V485.6M1391.5 429.5V495.6M1395.5 429.5V485.4M1399.5 429.5V493M1403.5 429.5V485.7M1407.5 429.5V483.1M1411.5 429.5V486.7M1415.5 429.5V492.1M1419.5 429.5V486.2M1423.5 429.5V493.2M1427.5 429.5V494.2M1431.5 429.5V491.1M1438.5 429.5V484.5M1442.5 429.5V490.6" fill="none" stroke="#3c3c3c" stroke-width="1.4"/>
<!-- firing frequency chart -->
<rect x="97.8" y="864" width="101" height="8" fill="#fff" stroke="#000" stroke-width="1.6"/>
<rect x="249.2" y="759.6" width="101" height="113" fill="#fff" stroke="#a9a9a9" stroke-width="1.5"/>
<rect x="400.6" y="688.3" width="101.2" height="184" fill="#fff" stroke="#a9a9a9" stroke-width="1.5"/>
<path d="M73.2 567.5 V872 M64.2 872 H526.2" fill="none" stroke="#000" stroke-width="2.7"/>
<line x1="64.2" y1="872" x2="73.2" y2="872" stroke="#000" stroke-width="2.6"/>
<text x="61.9" y="882.2" font-family='"Liberation Sans", sans-serif' font-size="27.3" font-weight="bold" text-anchor="end" stroke="#000" stroke-width="0.4">0</text>
<line x1="64.2" y1="796.2" x2="73.2" y2="796.2" stroke="#000" stroke-width="2.6"/>
<text x="61.9" y="806.4" font-family='"Liberation Sans", sans-serif' font-size="27.3" font-weight="bold" text-anchor="end" stroke="#000" stroke-width="0.4">1</text>
<line x1="64.2" y1="720.4" x2="73.2" y2="720.4" stroke="#000" stroke-width="2.6"/>
<text x="61.9" y="730.6" font-family='"Liberation Sans", sans-serif' font-size="27.3" font-weight="bold" text-anchor="end" stroke="#000" stroke-width="0.4">2</text>
<line x1="64.2" y1="644.6" x2="73.2" y2="644.6" stroke="#000" stroke-width="2.6"/>
<text x="61.9" y="654.8" font-family='"Liberation Sans", sans-serif' font-size="27.3" font-weight="bold" text-anchor="end" stroke="#000" stroke-width="0.4">3</text>
<line x1="64.2" y1="568.8" x2="73.2" y2="568.8" stroke="#000" stroke-width="2.6"/>
<text x="61.9" y="579" font-family='"Liberation Sans", sans-serif' font-size="27.3" font-weight="bold" text-anchor="end" stroke="#000" stroke-width="0.4">4</text>
<line x1="148.4" y1="872" x2="148.4" y2="881.8" stroke="#000" stroke-width="2.6"/>
<line x1="299.5" y1="872" x2="299.5" y2="881.8" stroke="#000" stroke-width="2.6"/>
<line x1="450.3" y1="872" x2="450.3" y2="881.8" stroke="#000" stroke-width="2.6"/>
<text x="26" y="862.8" font-family='"Liberation Sans", sans-serif' font-size="26.3" font-weight="bold" textLength="295.5" lengthAdjust="spacingAndGlyphs" transform="rotate(-90 26 862.8)">Firing frequency (Hz)</text>
<text x="87" y="912.2" font-family='"Liberation Sans", sans-serif' font-size="27" font-weight="bold" textLength="123" lengthAdjust="spacingAndGlyphs">Baseline</text>
<text x="214.8" y="912.2" font-family='"Liberation Sans", sans-serif' font-size="27" font-weight="bold" textLength="163.5" lengthAdjust="spacingAndGlyphs">Phe 300 nM</text>
<text x="383.4" y="912.2" font-family='"Liberation Sans", sans-serif' font-size="27" font-weight="bold" textLength="134" lengthAdjust="spacingAndGlyphs">Phe + BW</text>
<path d="M122.4 855.2 H174.2 M148.4 855.2 V881" fill="none" stroke="#000" stroke-width="1.5"/>
<path d="M274 748.4 H325 M274 770.4 H325 M299.8 748.4 V770.4" fill="none" stroke="#000" stroke-width="1.6"/>
<path d="M425.1 675.4 H476.7 M425.1 702.5 H476.7 M450.7 675.4 V702.5" fill="none" stroke="#000" stroke-width="1.7"/>
<circle cx="107.3" cy="872.4" r="5.8"/>
<circle cx="120.9" cy="872.4" r="5.8"/>
<circle cx="134.6" cy="872.4" r="5.8"/>
<circle cx="148.2" cy="872.4" r="5.8"/>
<circle cx="161.9" cy="872.4" r="5.8"/>
<circle cx="175.5" cy="872.4" r="5.8"/>
<circle cx="189.2" cy="872.4" r="5.8"/>
<circle cx="148.5" cy="804.2" r="5.5"/>
<rect x="294.1" y="709.3" width="11.4" height="11.4"/>
<rect x="276" y="727.1" width="11.4" height="11.4"/>
<rect x="312.2" y="730" width="11.4" height="11.4"/>
<rect x="294.1" y="742.7" width="11.4" height="11.4"/>
<rect x="284.7" y="761.1" width="11.4" height="11.4"/>
<rect x="312.2" y="779.2" width="11.4" height="11.4"/>
<rect x="302.8" y="783.9" width="11.4" height="11.4"/>
<rect x="284.7" y="799.4" width="11.4" height="11.4"/>
<path d="M450.7 626.7 l5.9 10.8 h-11.8 z"/>
<path d="M450.7 654.3 l5.9 10.8 h-11.8 z"/>
<path d="M432.4 665.4 l5.9 10.8 h-11.8 z"/>
<path d="M450.7 677.3 l5.9 10.8 h-11.8 z"/>
<path d="M468.9 676.4 l5.9 10.8 h-11.8 z"/>
<path d="M450.7 703.7 l5.9 10.8 h-11.8 z"/>
<path d="M441.6 736 l5.9 10.8 h-11.8 z"/>
<path d="M459.7 732.3 l5.9 10.8 h-11.8 z"/>
<path d="M139.5 719 V583 H455.4 V620.4" fill="none" stroke="#1a1a1a" stroke-width="1.4"/>
<path d="M155.9 719 V613.3 H281.1 V682.7" fill="none" stroke="#1a1a1a" stroke-width="1.4"/>
<path d="M298.4 682.1 V611.7 H439.3 V620.4" fill="none" stroke="#1a1a1a" stroke-width="1.4"/>
<text x="218.3" y="609.5" font-family='"Liberation Sans", sans-serif' font-size="28" font-weight="bold" text-anchor="middle">*</text>
<text x="296.3" y="578" font-family='"Liberation Sans", sans-serif' font-size="28" font-weight="bold" text-anchor="middle">*</text>
<text x="374.3" y="610" font-family='"Liberation Sans", sans-serif' font-size="28" font-weight="bold" text-anchor="middle">*</text>
<!-- panel B -->
<text x="542.2" y="568.8" font-family='"Liberation Sans", sans-serif' font-size="41.6" font-weight="bold" textLength="29.3" lengthAdjust="spacingAndGlyphs" stroke="#000" stroke-width="1.8">B</text>
<text x="572" y="674.5" font-family='"Liberation Sans", sans-serif' font-size="38" font-style="italic" textLength="60" lengthAdjust="spacingAndGlyphs">Ctrl</text>
<text font-family='"Liberation Sans", sans-serif' font-size="25" fill="#23419a" stroke="#23419a" stroke-width="0.3"><tspan x="695.8" y="664" textLength="56.5" lengthAdjust="spacingAndGlyphs">5-HT</tspan><tspan x="753" y="672.5" font-size="14.3" textLength="18.5" lengthAdjust="spacingAndGlyphs">2B</tspan><tspan x="772.3" y="664" textLength="44" lengthAdjust="spacingAndGlyphs">-HA</tspan></text>
<text x="696.3" y="690" font-family='"Liberation Sans", sans-serif' font-size="25" fill="#23419a" textLength="175.5" lengthAdjust="spacingAndGlyphs" stroke="#23419a" stroke-width="0.3">overexpression</text>
<path d="M559.7 826.5 L560.9 826 L562.1 826.6 L563.3 826.3 L564.5 826.7 L565.7 826.7 L566.9 825.7 L568.1 825.6 L569.3 827.1 L570.5 826.1 L571.7 826 L572.9 827.4 L574.1 826.4 L575.3 827.1 L576.5 826.5 L575.6 826.5 C576.3 800.8 577 792.2 578.8 789.7 L580 789.1 L582.3 784.2 L583.2 693.4 L584.1 812 C586 790.9 588.7 784.4 590.9 783.9 L591.7 692 L592.6 804 C595.3 788.6 599 784 602.5 783.5 L603.3 693.4 L604.2 797.5 C607.6 786.6 612.4 783.4 617.1 782.9 L617.9 694.1 L618.8 793.5 C622.2 785.2 627 782.9 631.7 782.4 L632.5 693.1 L633.4 790 C637.8 783.4 643.8 780.8 648.2 781.8 C649.8 818.5 653.2 825 660.2 826.5 L661.4 827.2 L662.6 827.3 L663.8 826.4 L665 827.8 L666.2 827.6 L667.4 827.2 L668.6 826.9 L669.8 828.5 L671 827.8 L672.2 828.4 L673.4 828.7 L674.6 828.5 L675.8 828.9 L677 828 L678.2 828.8 L679.4 828.2 L680.6 829.1 L681.8 829 L683 827.6" fill="none" stroke="#0a0a0a" stroke-width="2.45" stroke-linejoin="round"/>
<path d="M689.7 829 L690.9 828.3 L692.1 828.5 L693.3 829.8 L694.5 828.9 L695.7 829.2 L696.9 828.6 L698.1 829 L699.3 828.8 L698.3 829 C699 792.7 699.7 779.6 701.5 777.1 L702.7 776.5 L707.2 771.6 L708.1 696.6 L709 786 C709.6 775.2 710.4 772 710.5 771.5 L711.3 697.3 L712.2 785 C712.9 774.8 713.9 771.9 714.3 771.4 L715.1 697.3 L716 783.5 C716.9 774.3 718.2 771.7 718.8 771.2 L719.6 698.2 L720.5 782 C721.4 773.8 722.6 771.6 723.2 771.1 L724 697.5 L724.9 780.5 C725.8 773.3 727.1 771.4 727.8 770.9 L728.6 698.3 L729.5 779.5 C730.5 772.9 732 771.2 732.8 770.7 L733.6 698.1 L734.5 778.5 C735.5 772.5 737 771.1 737.9 770.6 L738.7 698.5 L739.6 778 C740.7 772.3 742.2 770.9 743.1 770.4 L743.9 697.5 L744.8 777 C746 771.9 747.6 770.7 748.7 770.2 L749.5 696 L750.4 776.5 C751.6 771.6 753.4 770.5 754.6 770 L755.4 698.1 L756.3 776 C757.5 771.3 759.2 770.3 760.4 769.8 L761.2 698.4 L762.1 775.5 C763.2 771 764.8 770.1 765.8 769.6 L766.6 698.2 L767.5 775 C767.7 770.6 768 768.5 768.2 769.5 C769.8 821 773.2 827.5 780.2 829 L781.4 829.4 L782.6 829.9 L783.8 829.1 L785 830.4 L786.2 830.1 L787.4 829.7 L788.6 829.4 L789.8 830.9 L791 831.3 L792.2 829.7 L793.4 831.1 L794.6 830.4 L795.8 830 L797 830.3 L798.2 831.2 L799.4 831.4 L800.6 830 L801.8 831 L803 830 L804.2 831.3 L805.4 830.6 L806.6 831.6 L807.8 831.8 L809 830.9 L810.2 831.8 L811.4 830.6" fill="none" stroke="#213f92" stroke-width="2.05" stroke-linejoin="round"/>
<path d="M559.7 843.4 H579.4 Q581 843.4 581 841.8 V834.4 Q581 832.8 582.6 832.8 H653.8 Q655.4 832.8 655.4 834.4 V841.8 Q655.4 843.4 657 843.4 H676.5" fill="none" stroke="#858585" stroke-width="2.0"/>
<path d="M680.8 844.3 H700.2 Q701.8 844.3 701.8 842.7 V834.1 Q701.8 832.5 703.4 832.5 H774.2 Q775.8 832.5 775.8 834.1 V842.7 Q775.8 844.3 777.4 844.3 H798" fill="none" stroke="#858585" stroke-width="1.9"/>
<text x="590.6" y="852.6" font-family='"Liberation Sans", sans-serif' font-size="18.6" fill="#6a6a6a" textLength="58" lengthAdjust="spacingAndGlyphs">200 pA</text>
<path d="M804.4 787.3 H832 V763" fill="none" stroke="#000" stroke-width="1.5"/>
<text x="780.1" y="807.8" font-family='"Liberation Sans", sans-serif' font-size="17" textLength="57.3" lengthAdjust="spacingAndGlyphs">200 ms</text>
<text x="848.6" y="793.8" font-family='"Liberation Sans", sans-serif' font-size="17" textLength="47.5" lengthAdjust="spacingAndGlyphs" transform="rotate(-90 848.6 793.8)">20 mV</text>
<!-- line chart -->
<path d="M959.5 596 V872.2 H1183" fill="none" stroke="#000" stroke-width="2.3" stroke-linejoin="miter"/>
<line x1="953.5" y1="849.2" x2="959.6" y2="849.2" stroke="#000" stroke-width="2.2"/>
<text x="952.2" y="857.1" font-family='"Liberation Sans", sans-serif' font-size="22" font-weight="bold" text-anchor="end" stroke="#000" stroke-width="0.3">0</text>
<line x1="953.5" y1="791.5" x2="959.6" y2="791.5" stroke="#000" stroke-width="2.2"/>
<text x="952.2" y="799.4" font-family='"Liberation Sans", sans-serif' font-size="22" font-weight="bold" text-anchor="end" stroke="#000" stroke-width="0.3">5</text>
<line x1="953.5" y1="733.8" x2="959.6" y2="733.8" stroke="#000" stroke-width="2.2"/>
<text x="952.2" y="741.7" font-family='"Liberation Sans", sans-serif' font-size="22" font-weight="bold" text-anchor="end" stroke="#000" stroke-width="0.3">10</text>
<line x1="953.5" y1="676.1" x2="959.6" y2="676.1" stroke="#000" stroke-width="2.2"/>
<text x="952.2" y="684" font-family='"Liberation Sans", sans-serif' font-size="22" font-weight="bold" text-anchor="end" stroke="#000" stroke-width="0.3">15</text>
<line x1="953.5" y1="618.4" x2="959.6" y2="618.4" stroke="#000" stroke-width="2.2"/>
<text x="952.2" y="626.3" font-family='"Liberation Sans", sans-serif' font-size="22" font-weight="bold" text-anchor="end" stroke="#000" stroke-width="0.3">20</text>
<line x1="962.9" y1="872" x2="962.9" y2="878" stroke="#000" stroke-width="2.2"/>
<text x="957.1" y="900.7" font-family='"Liberation Sans", sans-serif' font-size="21.8" font-weight="bold" textLength="12.4" lengthAdjust="spacingAndGlyphs" stroke="#000" stroke-width="0.3">0</text>
<line x1="1006.3" y1="872" x2="1006.3" y2="878" stroke="#000" stroke-width="2.2"/>
<text x="992.9" y="900.7" font-family='"Liberation Sans", sans-serif' font-size="21.8" font-weight="bold" textLength="26.7" lengthAdjust="spacingAndGlyphs" stroke="#000" stroke-width="0.3">50</text>
<line x1="1049.6" y1="872" x2="1049.6" y2="878" stroke="#000" stroke-width="2.2"/>
<text x="1030.1" y="900.7" font-family='"Liberation Sans", sans-serif' font-size="21.8" font-weight="bold" textLength="36.1" lengthAdjust="spacingAndGlyphs" stroke="#000" stroke-width="0.3">100</text>
<line x1="1092.6" y1="872" x2="1092.6" y2="878" stroke="#000" stroke-width="2.2"/>
<text x="1073.6" y="900.7" font-family='"Liberation Sans", sans-serif' font-size="21.8" font-weight="bold" textLength="35.4" lengthAdjust="spacingAndGlyphs" stroke="#000" stroke-width="0.3">150</text>
<line x1="1135.6" y1="872" x2="1135.6" y2="878" stroke="#000" stroke-width="2.2"/>
<text x="1115.7" y="900.7" font-family='"Liberation Sans", sans-serif' font-size="21.8" font-weight="bold" textLength="37" lengthAdjust="spacingAndGlyphs" stroke="#000" stroke-width="0.3">200</text>
<line x1="1179.3" y1="872" x2="1179.3" y2="878" stroke="#000" stroke-width="2.2"/>
<text x="1158.5" y="900.7" font-family='"Liberation Sans", sans-serif' font-size="21.8" font-weight="bold" textLength="39" lengthAdjust="spacingAndGlyphs" stroke="#000" stroke-width="0.3">300</text>
<text x="959.3" y="930.5" font-family='"Liberation Sans", sans-serif' font-size="22.3" font-weight="bold" textLength="224" lengthAdjust="spacingAndGlyphs">Injected current (pA)</text>
<text x="917.4" y="857.5" font-family='"Liberation Sans", sans-serif' font-size="22.8" font-weight="bold" textLength="265.5" lengthAdjust="spacingAndGlyphs" transform="rotate(-90 917.4 857.5)">Action Potential number</text>
<circle cx="989.1" cy="615.7" r="4.6" fill="#fff" stroke="#3a3184" stroke-width="1.7"/>
<text font-family='"Liberation Sans", sans-serif' font-size="25" fill="#2b52a5"><tspan x="1004.6" y="620" textLength="58" lengthAdjust="spacingAndGlyphs">5-HT</tspan><tspan x="1062.3" y="628.7" font-size="14" textLength="18" lengthAdjust="spacingAndGlyphs">2B</tspan><tspan x="1081.2" y="620" textLength="43.5" lengthAdjust="spacingAndGlyphs">-HA</tspan></text>
<circle cx="989.3" cy="640.6" r="4.9"/>
<text x="1004.6" y="649.7" font-family='"Liberation Sans", sans-serif' font-size="23.6" font-weight="bold" textLength="39.5" lengthAdjust="spacingAndGlyphs">Ctrl</text>
<circle cx="963.4" cy="849.2" r="3.7" fill="none" stroke="#2b52a5" stroke-width="1.9"/>
<line x1="972" y1="847.1" x2="972" y2="849.1" stroke="#2b52a5" stroke-width="1.9"/>
<circle cx="972" cy="848.1" r="3.7" fill="none" stroke="#2b52a5" stroke-width="1.9"/>
<line x1="980.5" y1="840.8" x2="980.5" y2="846.8" stroke="#2b52a5" stroke-width="1.9"/>
<circle cx="980.5" cy="843.8" r="3.7" fill="none" stroke="#2b52a5" stroke-width="1.9"/>
<line x1="989.1" y1="833.5" x2="989.1" y2="843.5" stroke="#2b52a5" stroke-width="1.9"/>
<circle cx="989.1" cy="838.5" r="3.7" fill="none" stroke="#2b52a5" stroke-width="1.9"/>
<line x1="997.7" y1="826.5" x2="997.7" y2="838.5" stroke="#2b52a5" stroke-width="1.9"/>
<circle cx="997.7" cy="832.5" r="3.7" fill="none" stroke="#2b52a5" stroke-width="1.9"/>
<line x1="1006.2" y1="820.3" x2="1006.2" y2="834.3" stroke="#2b52a5" stroke-width="1.9"/>
<circle cx="1006.2" cy="827.3" r="3.7" fill="none" stroke="#2b52a5" stroke-width="1.9"/>
<line x1="1015.2" y1="812.9" x2="1015.2" y2="828.9" stroke="#2b52a5" stroke-width="1.9"/>
<circle cx="1015.2" cy="820.9" r="3.7" fill="none" stroke="#2b52a5" stroke-width="1.9"/>
<line x1="1023.8" y1="807.5" x2="1023.8" y2="824.5" stroke="#2b52a5" stroke-width="1.9"/>
<circle cx="1023.8" cy="816" r="3.7" fill="none" stroke="#2b52a5" stroke-width="1.9"/>
<line x1="1032.3" y1="802.3" x2="1032.3" y2="820.3" stroke="#2b52a5" stroke-width="1.9"/>
<circle cx="1032.3" cy="811.3" r="3.7" fill="none" stroke="#2b52a5" stroke-width="1.9"/>
<line x1="1040.9" y1="796.9" x2="1040.9" y2="815.9" stroke="#2b52a5" stroke-width="1.9"/>
<circle cx="1040.9" cy="806.4" r="3.7" fill="none" stroke="#2b52a5" stroke-width="1.9"/>
<line x1="1049.5" y1="785.7" x2="1049.5" y2="807.7" stroke="#2b52a5" stroke-width="1.9"/>
<circle cx="1049.5" cy="796.7" r="3.7" fill="none" stroke="#2b52a5" stroke-width="1.9"/>
<line x1="1058.5" y1="778.3" x2="1058.5" y2="802.3" stroke="#2b52a5" stroke-width="1.9"/>
<circle cx="1058.5" cy="790.3" r="3.7" fill="none" stroke="#2b52a5" stroke-width="1.9"/>
<line x1="1066.6" y1="773" x2="1066.6" y2="799" stroke="#2b52a5" stroke-width="1.9"/>
<circle cx="1066.6" cy="786" r="3.7" fill="none" stroke="#2b52a5" stroke-width="1.9"/>
<line x1="1075.6" y1="765" x2="1075.6" y2="793" stroke="#2b52a5" stroke-width="1.9"/>
<circle cx="1075.6" cy="779" r="3.7" fill="none" stroke="#2b52a5" stroke-width="1.9"/>
<line x1="1084.1" y1="756" x2="1084.1" y2="786" stroke="#2b52a5" stroke-width="1.9"/>
<circle cx="1084.1" cy="771" r="3.7" fill="none" stroke="#2b52a5" stroke-width="1.9"/>
<line x1="1092.7" y1="748.5" x2="1092.7" y2="779.5" stroke="#2b52a5" stroke-width="1.9"/>
<circle cx="1092.7" cy="764" r="3.7" fill="none" stroke="#2b52a5" stroke-width="1.9"/>
<line x1="1101.3" y1="742.2" x2="1101.3" y2="774.2" stroke="#2b52a5" stroke-width="1.9"/>
<circle cx="1101.3" cy="758.2" r="3.7" fill="none" stroke="#2b52a5" stroke-width="1.9"/>
<line x1="1109.8" y1="734.8" x2="1109.8" y2="768.8" stroke="#2b52a5" stroke-width="1.9"/>
<circle cx="1109.8" cy="751.8" r="3.7" fill="none" stroke="#2b52a5" stroke-width="1.9"/>
<line x1="1118.4" y1="726.8" x2="1118.4" y2="761.8" stroke="#2b52a5" stroke-width="1.9"/>
<circle cx="1118.4" cy="744.3" r="3.7" fill="none" stroke="#2b52a5" stroke-width="1.9"/>
<line x1="1126.9" y1="719" x2="1126.9" y2="757" stroke="#2b52a5" stroke-width="1.9"/>
<circle cx="1126.9" cy="738" r="3.7" fill="none" stroke="#2b52a5" stroke-width="1.9"/>
<line x1="1135.7" y1="713.4" x2="1135.7" y2="751.4" stroke="#2b52a5" stroke-width="1.9"/>
<circle cx="1135.7" cy="732.4" r="3.7" fill="none" stroke="#2b52a5" stroke-width="1.9"/>
<line x1="1144.3" y1="704.5" x2="1144.3" y2="744.5" stroke="#2b52a5" stroke-width="1.9"/>
<circle cx="1144.3" cy="724.5" r="3.7" fill="none" stroke="#2b52a5" stroke-width="1.9"/>
<line x1="1152.8" y1="696.7" x2="1152.8" y2="738.1" stroke="#2b52a5" stroke-width="1.9"/>
<circle cx="1152.8" cy="717.4" r="3.7" fill="none" stroke="#2b52a5" stroke-width="1.9"/>
<line x1="1161.8" y1="688.8" x2="1161.8" y2="735.8" stroke="#2b52a5" stroke-width="1.9"/>
<circle cx="1161.8" cy="712.3" r="3.7" fill="none" stroke="#2b52a5" stroke-width="1.9"/>
<line x1="1170.4" y1="672.6" x2="1170.4" y2="718.6" stroke="#2b52a5" stroke-width="1.9"/>
<circle cx="1170.4" cy="695.6" r="3.7" fill="none" stroke="#2b52a5" stroke-width="1.9"/>
<line x1="1179.4" y1="664.7" x2="1179.4" y2="710.7" stroke="#2b52a5" stroke-width="1.9"/>
<circle cx="1179.4" cy="687.7" r="3.7" fill="none" stroke="#2b52a5" stroke-width="1.9"/>
<circle cx="963.4" cy="849.2" r="3.9"/>
<circle cx="972" cy="849.6" r="3.9"/>
<line x1="980.5" y1="845.2" x2="980.5" y2="850.1" stroke="#000" stroke-width="1.6"/>
<circle cx="980.5" cy="847.7" r="3.9"/>
<line x1="989.1" y1="842.2" x2="989.1" y2="847.6" stroke="#000" stroke-width="1.6"/>
<circle cx="989.1" cy="844.9" r="3.9"/>
<line x1="997.7" y1="839.4" x2="997.7" y2="845.2" stroke="#000" stroke-width="1.6"/>
<circle cx="997.7" cy="842.3" r="3.9"/>
<line x1="1006.2" y1="836" x2="1006.2" y2="842.3" stroke="#000" stroke-width="1.6"/>
<circle cx="1006.2" cy="839.1" r="3.9"/>
<line x1="1015.2" y1="831.9" x2="1015.2" y2="838.6" stroke="#000" stroke-width="1.6"/>
<circle cx="1015.2" cy="835.2" r="3.9"/>
<line x1="1023.8" y1="827.4" x2="1023.8" y2="834.6" stroke="#000" stroke-width="1.6"/>
<circle cx="1023.8" cy="831" r="3.9"/>
<line x1="1032.3" y1="823.9" x2="1032.3" y2="831.6" stroke="#000" stroke-width="1.6"/>
<circle cx="1032.3" cy="827.8" r="3.9"/>
<line x1="1040.9" y1="820" x2="1040.9" y2="828.2" stroke="#000" stroke-width="1.6"/>
<circle cx="1040.9" cy="824.1" r="3.9"/>
<line x1="1049.5" y1="815.3" x2="1049.5" y2="823.9" stroke="#000" stroke-width="1.6"/>
<circle cx="1049.5" cy="819.6" r="3.9"/>
<line x1="1058.5" y1="810.8" x2="1058.5" y2="819.9" stroke="#000" stroke-width="1.6"/>
<circle cx="1058.5" cy="815.3" r="3.9"/>
<line x1="1066.6" y1="805.4" x2="1066.6" y2="815" stroke="#000" stroke-width="1.6"/>
<circle cx="1066.6" cy="810.2" r="3.9"/>
<line x1="1075.6" y1="801.4" x2="1075.6" y2="811.3" stroke="#000" stroke-width="1.6"/>
<circle cx="1075.6" cy="806.4" r="3.9"/>
<line x1="1084.1" y1="796.9" x2="1084.1" y2="807.3" stroke="#000" stroke-width="1.6"/>
<circle cx="1084.1" cy="802.1" r="3.9"/>
<line x1="1092.7" y1="790.8" x2="1092.7" y2="801.7" stroke="#000" stroke-width="1.6"/>
<circle cx="1092.7" cy="796.3" r="3.9"/>
<line x1="1101.3" y1="787.8" x2="1101.3" y2="799.2" stroke="#000" stroke-width="1.6"/>
<circle cx="1101.3" cy="793.5" r="3.9"/>
<line x1="1109.8" y1="784.8" x2="1109.8" y2="796.6" stroke="#000" stroke-width="1.6"/>
<circle cx="1109.8" cy="790.7" r="3.9"/>
<line x1="1118.4" y1="784.2" x2="1118.4" y2="796.4" stroke="#000" stroke-width="1.6"/>
<circle cx="1118.4" cy="790.3" r="3.9"/>
<line x1="1126.9" y1="779" x2="1126.9" y2="791.7" stroke="#000" stroke-width="1.6"/>
<circle cx="1126.9" cy="785.4" r="3.9"/>
<line x1="1135.7" y1="774.1" x2="1135.7" y2="787.3" stroke="#000" stroke-width="1.6"/>
<circle cx="1135.7" cy="780.7" r="3.9"/>
<line x1="1144.3" y1="767.4" x2="1144.3" y2="781.1" stroke="#000" stroke-width="1.6"/>
<circle cx="1144.3" cy="774.2" r="3.9"/>
<line x1="1152.8" y1="761.8" x2="1152.8" y2="776" stroke="#000" stroke-width="1.6"/>
<circle cx="1152.8" cy="768.9" r="3.9"/>
<line x1="1161.8" y1="758" x2="1161.8" y2="772.5" stroke="#000" stroke-width="1.6"/>
<circle cx="1161.8" cy="765.3" r="3.9"/>
<line x1="1170.4" y1="752.8" x2="1170.4" y2="767.9" stroke="#000" stroke-width="1.6"/>
<circle cx="1170.4" cy="760.3" r="3.9"/>
<line x1="1179.4" y1="754.1" x2="1179.4" y2="769.6" stroke="#000" stroke-width="1.6"/>
<circle cx="1179.4" cy="761.8" r="3.9"/>
<text x="1141.8" y="705.8" font-family='"Liberation Sans", sans-serif' font-size="21" font-weight="bold" text-anchor="middle">*</text>
<text x="1152.1" y="698.4" font-family='"Liberation Sans", sans-serif' font-size="21" font-weight="bold" text-anchor="middle">*</text>
<text x="1159.7" y="689.4" font-family='"Liberation Sans", sans-serif' font-size="21" font-weight="bold" text-anchor="middle">*</text>
<text x="1169.6" y="675" font-family='"Liberation Sans", sans-serif' font-size="21" font-weight="bold" text-anchor="middle">*</text>
<text x="1179.3" y="665.3" font-family='"Liberation Sans", sans-serif' font-size="21" font-weight="bold" text-anchor="middle">*</text>
<!-- panel C -->
<text x="1216.2" y="569.2" font-family='"Liberation Sans", sans-serif' font-size="43.6" font-weight="bold" textLength="30.2" lengthAdjust="spacingAndGlyphs" stroke="#000" stroke-width="1.8">C</text>
<line x1="1343.3" y1="706" x2="1343.3" y2="722" stroke="#333" stroke-width="1.5"/>
<line x1="1396.2" y1="678" x2="1396.2" y2="690" stroke="#2b52a5" stroke-width="1.6"/>
<rect x="1320.4" y="720.7" width="46.1" height="151.3" fill="#0a0a0a"/>
<rect x="1373.5" y="688" width="46.4" height="184" fill="#2b52a5"/>
<path d="M1306 585.5 V872 M1300.8 872 H1435.5" fill="none" stroke="#000" stroke-width="1.5"/>
<line x1="1300.5" y1="872" x2="1306.3" y2="872" stroke="#000" stroke-width="1.6"/>
<text x="1299.6" y="880" font-family='"Liberation Sans", sans-serif' font-size="21.4" font-weight="bold" text-anchor="end" stroke="#000" stroke-width="0.3">0</text>
<line x1="1300.5" y1="790.1" x2="1306.3" y2="790.1" stroke="#000" stroke-width="1.6"/>
<text x="1299.6" y="798.1" font-family='"Liberation Sans", sans-serif' font-size="21.4" font-weight="bold" text-anchor="end" stroke="#000" stroke-width="0.3">200</text>
<line x1="1300.5" y1="708.2" x2="1306.3" y2="708.2" stroke="#000" stroke-width="1.6"/>
<text x="1299.6" y="716.2" font-family='"Liberation Sans", sans-serif' font-size="21.4" font-weight="bold" text-anchor="end" stroke="#000" stroke-width="0.3">400</text>
<line x1="1300.5" y1="626.3" x2="1306.3" y2="626.3" stroke="#000" stroke-width="1.6"/>
<text x="1299.6" y="634.3" font-family='"Liberation Sans", sans-serif' font-size="21.4" font-weight="bold" text-anchor="end" stroke="#000" stroke-width="0.3">600</text>
<line x1="1337.6" y1="872" x2="1337.6" y2="876.6" stroke="#000" stroke-width="1.5"/>
<line x1="1403.1" y1="872" x2="1403.1" y2="876.6" stroke="#000" stroke-width="1.5"/>
<text x="1250" y="852.2" font-family='"Liberation Sans", sans-serif' font-size="21.6" font-weight="bold" textLength="262" lengthAdjust="spacingAndGlyphs" transform="rotate(-90 1250 852.2)">Input Resistance (MOhm)</text>
<text x="1319.4" y="898.2" font-family='"Liberation Sans", sans-serif' font-size="21.5" font-weight="bold" textLength="37.2" lengthAdjust="spacingAndGlyphs">Crtl</text>
<text font-family='"Liberation Sans", sans-serif' font-size="24.2" fill="#2b52a5"><tspan x="1368.3" y="901" textLength="53.8" lengthAdjust="spacingAndGlyphs">5-HT</tspan><tspan x="1425.6" y="909.4" font-size="13.5" textLength="18.6" lengthAdjust="spacingAndGlyphs">2B</tspan><tspan x="1447.6" y="901" textLength="43.6" lengthAdjust="spacingAndGlyphs">-HA</tspan></text>
<text x="1410.5" y="607.5" font-family='"Liberation Sans", sans-serif' font-size="18" font-weight="bold" text-anchor="middle">*</text>
<circle cx="1351.3" cy="591.5" r="4.9" fill="#fff" stroke="#000" stroke-width="1.6"/>
<circle cx="1351.3" cy="602.7" r="4.9" fill="#fff" stroke="#000" stroke-width="1.6"/>
<circle cx="1351.3" cy="620.3" r="4.9" fill="#fff" stroke="#000" stroke-width="1.6"/>
<circle cx="1351.3" cy="665.3" r="4.9" fill="#fff" stroke="#000" stroke-width="1.6"/>
<circle cx="1351.3" cy="681.2" r="4.9" fill="#fff" stroke="#000" stroke-width="1.6"/>
<circle cx="1351.3" cy="686.3" r="4.9" fill="#fff" stroke="#000" stroke-width="1.6"/>
<circle cx="1351.3" cy="689.8" r="4.9" fill="#fff" stroke="#000" stroke-width="1.6"/>
<circle cx="1351.3" cy="719.8" r="4.9" fill="#fff" stroke="#000" stroke-width="1.6"/>
<circle cx="1351.1" cy="740.3" r="5" fill="#fff" stroke="#0a0a0a" stroke-width="1.3"/>
<circle cx="1351.1" cy="748" r="5" fill="#fff" stroke="#0a0a0a" stroke-width="1.3"/>
<circle cx="1351.1" cy="752.7" r="5" fill="#fff" stroke="#0a0a0a" stroke-width="1.3"/>
<circle cx="1351.1" cy="757.4" r="5" fill="#fff" stroke="#0a0a0a" stroke-width="1.3"/>
<circle cx="1351.1" cy="766" r="5" fill="#fff" stroke="#0a0a0a" stroke-width="1.3"/>
<circle cx="1351.1" cy="781.3" r="5" fill="#fff" stroke="#0a0a0a" stroke-width="1.3"/>
<circle cx="1351.1" cy="794.8" r="5" fill="#fff" stroke="#0a0a0a" stroke-width="1.3"/>
<circle cx="1351.1" cy="803.7" r="5" fill="#fff" stroke="#0a0a0a" stroke-width="1.3"/>
<circle cx="1410.5" cy="622" r="4.9" fill="#fff" stroke="#2b52a5" stroke-width="1.6"/>
<circle cx="1410.5" cy="632.5" r="4.9" fill="#fff" stroke="#2b52a5" stroke-width="1.6"/>
<circle cx="1410.5" cy="643" r="4.9" fill="#fff" stroke="#2b52a5" stroke-width="1.6"/>
<circle cx="1410.5" cy="650" r="4.9" fill="#fff" stroke="#2b52a5" stroke-width="1.6"/>
<circle cx="1410.5" cy="652.8" r="4.9" fill="#fff" stroke="#2b52a5" stroke-width="1.6"/>
<circle cx="1410.5" cy="668.8" r="4.9" fill="#fff" stroke="#2b52a5" stroke-width="1.6"/>
<circle cx="1410.5" cy="674.6" r="4.9" fill="#fff" stroke="#2b52a5" stroke-width="1.6"/>
<circle cx="1410.4" cy="699.2" r="5" fill="#fff" stroke="#2b52a5" stroke-width="1.3"/>
<circle cx="1410.4" cy="705.8" r="5" fill="#fff" stroke="#2b52a5" stroke-width="1.3"/>
<circle cx="1410.4" cy="712.8" r="5" fill="#fff" stroke="#2b52a5" stroke-width="1.3"/>
<circle cx="1410.4" cy="726.2" r="5" fill="#fff" stroke="#2b52a5" stroke-width="1.3"/>
<circle cx="1410.4" cy="738.5" r="5" fill="#fff" stroke="#2b52a5" stroke-width="1.3"/>
<circle cx="1410.4" cy="744.5" r="5" fill="#fff" stroke="#2b52a5" stroke-width="1.3"/>
<!--BOTTOM-->
</g>
</svg></body></html>
